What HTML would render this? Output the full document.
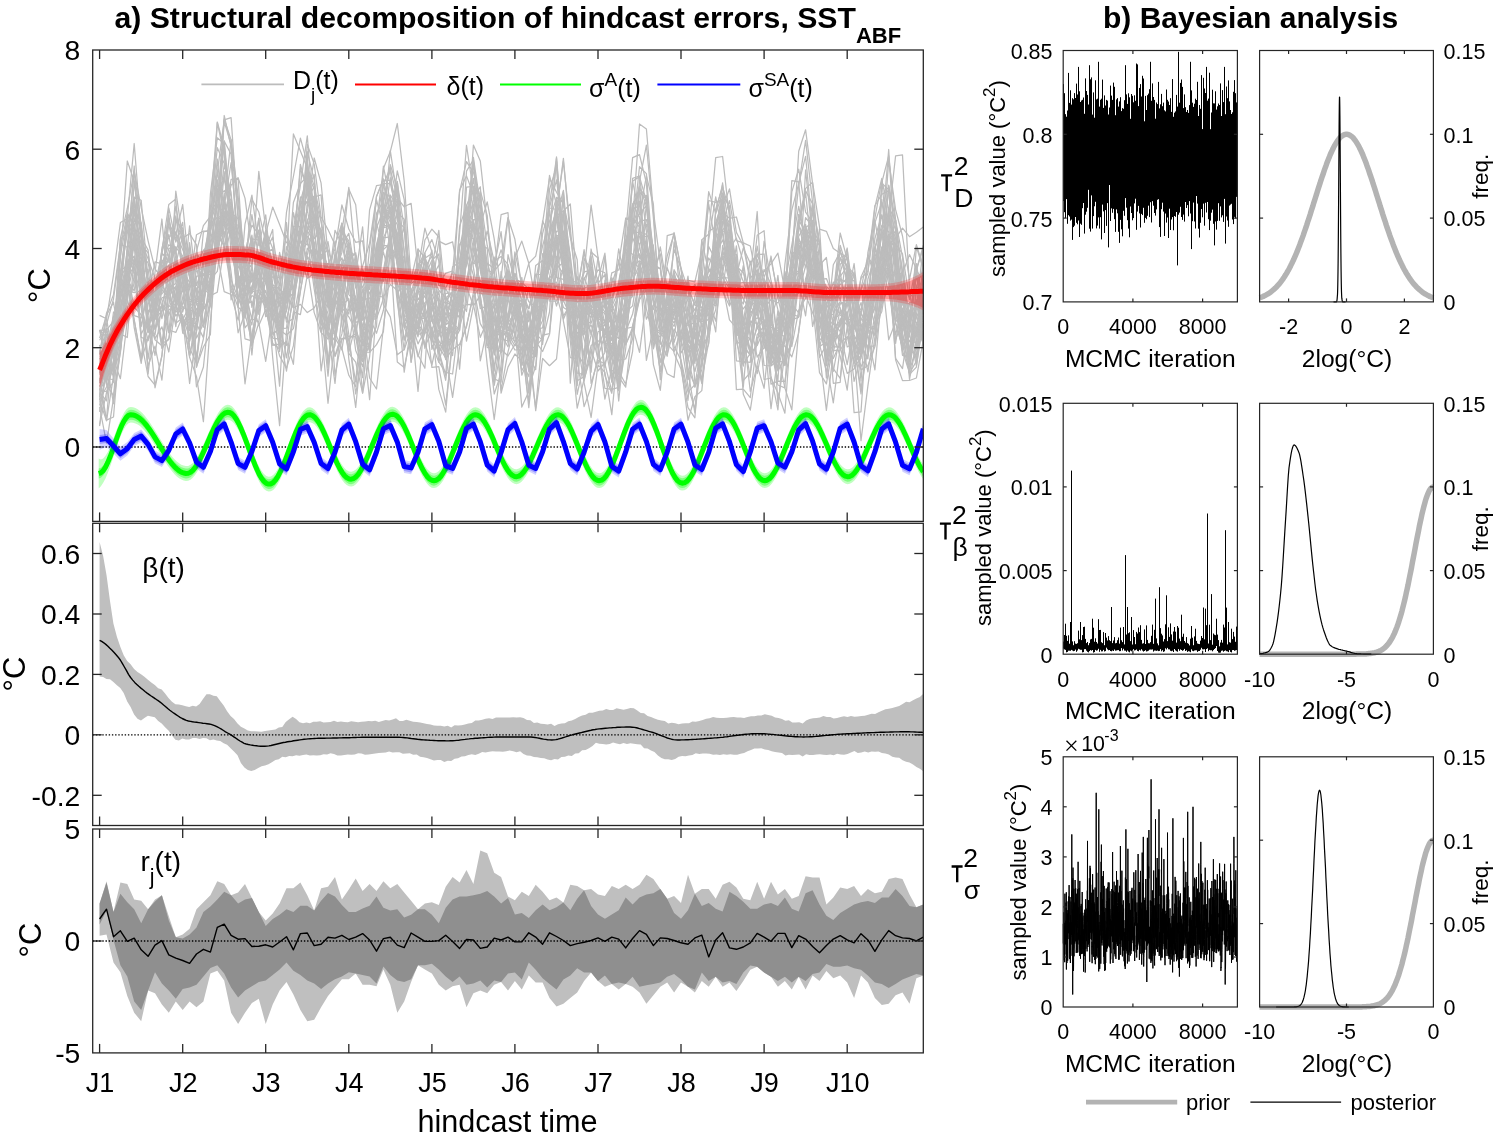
<!DOCTYPE html>
<html><head><meta charset="utf-8"><style>html,body{margin:0;padding:0;background:#fff;}svg{display:block;will-change:transform}</style></head><body>
<svg width="1500" height="1135" viewBox="0 0 1500 1135" font-family="'Liberation Sans', sans-serif">
<defs><clipPath id="cA"><rect x="92.7" y="50" width="830.6" height="471.4"/></clipPath><clipPath id="cB"><rect x="92.7" y="523.3" width="830.6" height="302.2"/></clipPath><clipPath id="cC"><rect x="92.7" y="829" width="830.6" height="223.9"/></clipPath></defs>
<g clip-path="url(#cA)">
<polyline points="99.6,378.1 106.5,420.1 113.5,417.0 120.4,333.8 127.3,337.5 134.2,257.1 141.2,334.2 148.1,319.9 155.0,355.5 161.9,303.0 168.8,285.5 175.8,326.7 182.7,276.1 189.6,260.7 196.5,304.4 203.4,300.4 210.4,267.2 217.3,250.6 224.2,171.7 231.1,229.8 238.1,277.1 245.0,327.9 251.9,318.9 258.8,321.9 265.7,266.5 272.7,303.3 279.6,297.5 286.5,299.0 293.4,293.2 300.4,255.5 307.3,230.7 314.2,242.2 321.1,296.2 328.0,331.6 335.0,355.5 341.9,333.9 348.8,279.8 355.7,336.5 362.6,361.6 369.6,304.9 376.5,222.8 383.4,249.5 390.3,243.6 397.3,294.4 404.2,372.2 411.1,325.5 418.0,305.6 424.9,295.7 431.9,321.6 438.8,322.8 445.7,359.7 452.6,336.8 459.6,327.4 466.5,302.0 473.4,203.9 480.3,259.2 487.2,297.5 494.2,334.1 501.1,334.7 508.0,322.7 514.9,293.9 521.8,315.1 528.8,342.5 535.7,356.7 542.6,301.3 549.5,263.7 556.5,231.1 563.4,231.1 570.3,301.4 577.2,301.8 584.1,310.4 591.1,317.6 598.0,291.0 604.9,298.0 611.8,310.7 618.7,295.6 625.7,300.3 632.6,219.8 639.5,245.7 646.4,224.3 653.4,264.6 660.3,289.8 667.2,256.0 674.1,233.8 681.0,302.4 688.0,360.6 694.9,335.2 701.8,379.6 708.7,342.2 715.7,273.9 722.6,291.3 729.5,306.0 736.4,289.9 743.3,321.8 750.3,349.6 757.2,327.2 764.1,340.9 771.0,363.9 777.9,354.8 784.9,387.9 791.8,409.9 798.7,330.1 805.6,284.9 812.6,232.7 819.5,268.3 826.4,315.9 833.3,368.7 840.2,378.4 847.2,326.5 854.1,362.0 861.0,355.7 867.9,333.1 874.9,246.6 881.8,280.6 888.7,214.0 895.6,244.2 902.5,294.0 909.5,373.3 916.4,361.1 923.3,303.1" fill="none" stroke="#bcbcbc" stroke-width="1.25" stroke-linejoin="round" />
<polyline points="99.6,315.4 106.5,318.7 113.5,359.6 120.4,378.7 127.3,320.5 134.2,275.1 141.2,274.3 148.1,269.1 155.0,318.1 161.9,279.3 168.8,255.6 175.8,231.7 182.7,270.1 189.6,270.6 196.5,289.2 203.4,282.0 210.4,255.7 217.3,253.6 224.2,257.0 231.1,228.5 238.1,267.3 245.0,273.6 251.9,235.1 258.8,292.6 265.7,299.1 272.7,287.4 279.6,287.8 286.5,302.1 293.4,247.1 300.4,226.2 307.3,243.5 314.2,257.1 321.1,245.5 328.0,267.8 335.0,338.3 341.9,260.6 348.8,260.2 355.7,252.8 362.6,291.9 369.6,285.2 376.5,286.1 383.4,166.1 390.3,201.7 397.3,199.6 404.2,281.4 411.1,288.8 418.0,328.3 424.9,309.3 431.9,265.0 438.8,322.5 445.7,293.3 452.6,292.9 459.6,311.2 466.5,284.1 473.4,256.4 480.3,246.0 487.2,287.6 494.2,332.3 501.1,330.0 508.0,333.6 514.9,346.0 521.8,335.2 528.8,310.7 535.7,350.5 542.6,303.2 549.5,281.7 556.5,270.2 563.4,242.8 570.3,299.3 577.2,276.7 584.1,313.9 591.1,284.0 598.0,294.1 604.9,323.1 611.8,310.2 618.7,321.7 625.7,282.7 632.6,263.0 639.5,267.4 646.4,245.3 653.4,264.5 660.3,268.5 667.2,322.3 674.1,303.4 681.0,341.3 688.0,307.1 694.9,352.3 701.8,383.5 708.7,325.7 715.7,246.2 722.6,272.0 729.5,286.7 736.4,315.1 743.3,355.3 750.3,320.9 757.2,323.7 764.1,339.1 771.0,320.0 777.9,338.0 784.9,290.2 791.8,289.2 798.7,282.1 805.6,315.8 812.6,255.9 819.5,307.0 826.4,303.0 833.3,293.9 840.2,287.8 847.2,298.7 854.1,263.5 861.0,327.7 867.9,349.5 874.9,323.1 881.8,304.5 888.7,242.8 895.6,245.9 902.5,318.7 909.5,360.2 916.4,330.9 923.3,264.9" fill="none" stroke="#bcbcbc" stroke-width="1.25" stroke-linejoin="round" />
<polyline points="99.6,355.3 106.5,344.5 113.5,331.9 120.4,255.6 127.3,218.0 134.2,143.5 141.2,232.6 148.1,288.2 155.0,313.9 161.9,275.4 168.8,234.3 175.8,281.0 182.7,324.5 189.6,309.4 196.5,313.3 203.4,304.6 210.4,194.2 217.3,137.8 224.2,143.7 231.1,223.5 238.1,239.6 245.0,265.0 251.9,214.7 258.8,258.2 265.7,282.0 272.7,292.6 279.6,333.5 286.5,278.5 293.4,232.5 300.4,215.6 307.3,162.7 314.2,207.3 321.1,236.1 328.0,306.5 335.0,299.2 341.9,230.3 348.8,189.1 355.7,204.8 362.6,277.0 369.6,270.8 376.5,196.4 383.4,180.1 390.3,180.3 397.3,204.6 404.2,251.1 411.1,321.8 418.0,343.9 424.9,329.8 431.9,281.5 438.8,326.7 445.7,341.0 452.6,307.8 459.6,247.5 466.5,217.2 473.4,161.4 480.3,224.6 487.2,284.5 494.2,346.8 501.1,284.2 508.0,269.6 514.9,301.2 521.8,332.5 528.8,349.9 535.7,295.8 542.6,303.9 549.5,261.9 556.5,210.7 563.4,161.4 570.3,228.1 577.2,298.7 584.1,272.4 591.1,205.1 598.0,257.4 604.9,307.9 611.8,296.8 618.7,284.8 625.7,239.8 632.6,221.8 639.5,124.0 646.4,129.0 653.4,211.4 660.3,263.4 667.2,339.3 674.1,276.0 681.0,285.6 688.0,301.0 694.9,310.2 701.8,310.0 708.7,314.9 715.7,227.2 722.6,202.5 729.5,234.5 736.4,302.0 743.3,337.7 750.3,377.2 757.2,274.9 764.1,271.4 771.0,263.8 777.9,253.1 784.9,290.6 791.8,325.1 798.7,282.5 805.6,249.2 812.6,235.5 819.5,263.9 826.4,364.4 833.3,329.9 840.2,341.4 847.2,298.8 854.1,321.2 861.0,349.0 867.9,326.3 874.9,295.2 881.8,252.0 888.7,244.2 895.6,238.1 902.5,228.1 909.5,236.7 916.4,232.2 923.3,227.0" fill="none" stroke="#bcbcbc" stroke-width="1.25" stroke-linejoin="round" />
<polyline points="99.6,330.0 106.5,361.5 113.5,349.6 120.4,287.4 127.3,223.6 134.2,246.3 141.2,273.5 148.1,320.9 155.0,318.2 161.9,305.4 168.8,315.3 175.8,295.2 182.7,261.7 189.6,316.9 196.5,331.2 203.4,287.7 210.4,288.1 217.3,225.0 224.2,215.6 231.1,185.2 238.1,177.7 245.0,198.1 251.9,250.3 258.8,229.9 265.7,276.4 272.7,306.5 279.6,252.4 286.5,282.6 293.4,202.5 300.4,183.5 307.3,176.5 314.2,247.6 321.1,317.1 328.0,295.4 335.0,256.3 341.9,273.2 348.8,271.0 355.7,322.3 362.6,393.0 369.6,307.8 376.5,247.1 383.4,211.9 390.3,195.0 397.3,206.7 404.2,288.2 411.1,335.6 418.0,315.2 424.9,256.9 431.9,340.1 438.8,312.4 445.7,330.6 452.6,323.5 459.6,226.4 466.5,205.7 473.4,267.6 480.3,308.7 487.2,305.8 494.2,275.7 501.1,291.0 508.0,284.7 514.9,285.5 521.8,342.7 528.8,331.1 535.7,307.6 542.6,284.3 549.5,252.1 556.5,234.9 563.4,272.6 570.3,332.7 577.2,348.7 584.1,288.2 591.1,285.1 598.0,269.7 604.9,272.8 611.8,303.1 618.7,248.8 625.7,284.0 632.6,225.8 639.5,214.0 646.4,175.9 653.4,204.3 660.3,340.7 667.2,356.3 674.1,297.2 681.0,275.5 688.0,290.8 694.9,331.1 701.8,310.5 708.7,266.8 715.7,241.9 722.6,182.8 729.5,288.8 736.4,293.0 743.3,357.5 750.3,306.4 757.2,300.0 764.1,333.9 771.0,334.0 777.9,370.9 784.9,357.6 791.8,342.3 798.7,267.7 805.6,217.6 812.6,226.9 819.5,297.1 826.4,296.7 833.3,299.3 840.2,294.8 847.2,287.3 854.1,293.3 861.0,342.6 867.9,331.7 874.9,295.8 881.8,246.9 888.7,240.7 895.6,230.7 902.5,304.2 909.5,321.0 916.4,336.3 923.3,294.6" fill="none" stroke="#bcbcbc" stroke-width="1.25" stroke-linejoin="round" />
<polyline points="99.6,407.0 106.5,443.1 113.5,398.3 120.4,308.3 127.3,263.6 134.2,327.7 141.2,363.3 148.1,311.2 155.0,309.8 161.9,307.7 168.8,272.0 175.8,221.2 182.7,228.5 189.6,278.0 196.5,301.4 203.4,287.8 210.4,295.6 217.3,292.2 224.2,246.5 231.1,279.8 238.1,298.1 245.0,313.3 251.9,241.3 258.8,289.4 265.7,297.1 272.7,315.0 279.6,317.6 286.5,294.2 293.4,307.7 300.4,304.4 307.3,312.6 314.2,307.9 321.1,295.0 328.0,320.7 335.0,356.5 341.9,338.3 348.8,339.0 355.7,333.5 362.6,343.7 369.6,318.1 376.5,333.3 383.4,310.3 390.3,251.3 397.3,362.0 404.2,367.6 411.1,335.8 418.0,327.1 424.9,346.2 431.9,331.7 438.8,340.5 445.7,354.9 452.6,397.4 459.6,346.6 466.5,325.7 473.4,296.1 480.3,286.5 487.2,299.1 494.2,308.7 501.1,338.1 508.0,297.9 514.9,278.5 521.8,282.6 528.8,288.9 535.7,329.5 542.6,327.8 549.5,279.1 556.5,306.0 563.4,283.0 570.3,325.4 577.2,358.0 584.1,406.6 591.1,387.0 598.0,356.7 604.9,335.1 611.8,324.0 618.7,327.9 625.7,312.3 632.6,305.9 639.5,261.9 646.4,294.5 653.4,309.4 660.3,287.3 667.2,309.2 674.1,353.2 681.0,369.1 688.0,407.7 694.9,417.8 701.8,329.2 708.7,300.5 715.7,321.2 722.6,266.6 729.5,257.8 736.4,323.6 743.3,364.0 750.3,353.4 757.2,324.3 764.1,308.6 771.0,299.3 777.9,303.0 784.9,292.4 791.8,261.8 798.7,249.4 805.6,294.5 812.6,295.3 819.5,312.5 826.4,353.7 833.3,322.8 840.2,331.4 847.2,364.7 854.1,325.3 861.0,325.7 867.9,317.6 874.9,273.8 881.8,234.7 888.7,243.6 895.6,359.9 902.5,380.6 909.5,380.5 916.4,378.0 923.3,340.1" fill="none" stroke="#bcbcbc" stroke-width="1.25" stroke-linejoin="round" />
<polyline points="99.6,357.7 106.5,378.8 113.5,329.1 120.4,292.2 127.3,297.4 134.2,180.9 141.2,237.5 148.1,250.1 155.0,311.7 161.9,250.5 168.8,204.4 175.8,199.1 182.7,284.0 189.6,341.4 196.5,301.0 203.4,304.6 210.4,261.1 217.3,188.5 224.2,245.7 231.1,288.2 238.1,307.5 245.0,224.1 251.9,195.1 258.8,245.5 265.7,214.8 272.7,285.0 279.6,325.1 286.5,296.0 293.4,307.9 300.4,251.1 307.3,229.7 314.2,197.0 321.1,194.9 328.0,295.0 335.0,302.2 341.9,308.7 348.8,341.1 355.7,381.8 362.6,306.9 369.6,209.8 376.5,185.7 383.4,184.5 390.3,167.7 397.3,244.9 404.2,276.5 411.1,291.6 418.0,271.1 424.9,255.2 431.9,316.4 438.8,352.7 445.7,380.3 452.6,319.4 459.6,286.8 466.5,214.3 473.4,248.7 480.3,285.5 487.2,313.1 494.2,354.0 501.1,331.7 508.0,337.6 514.9,300.2 521.8,284.0 528.8,301.8 535.7,306.5 542.6,220.8 549.5,238.1 556.5,156.8 563.4,242.0 570.3,383.1 577.2,293.5 584.1,249.7 591.1,293.2 598.0,305.7 604.9,343.6 611.8,343.7 618.7,350.9 625.7,295.5 632.6,209.3 639.5,186.8 646.4,205.7 653.4,282.2 660.3,246.9 667.2,288.2 674.1,273.9 681.0,362.4 688.0,400.3 694.9,324.9 701.8,319.2 708.7,239.8 715.7,196.9 722.6,234.2 729.5,285.0 736.4,340.3 743.3,348.1 750.3,288.8 757.2,269.3 764.1,299.9 771.0,348.9 777.9,352.2 784.9,340.5 791.8,265.7 798.7,151.3 805.6,129.8 812.6,183.6 819.5,264.4 826.4,343.8 833.3,358.4 840.2,342.9 847.2,336.7 854.1,363.6 861.0,342.3 867.9,327.4 874.9,279.0 881.8,256.3 888.7,160.6 895.6,209.7 902.5,236.0 909.5,279.4 916.4,244.6 923.3,267.2" fill="none" stroke="#bcbcbc" stroke-width="1.25" stroke-linejoin="round" />
<polyline points="99.6,390.8 106.5,391.5 113.5,382.1 120.4,270.9 127.3,265.2 134.2,255.8 141.2,286.0 148.1,312.0 155.0,299.3 161.9,291.1 168.8,222.2 175.8,238.5 182.7,229.9 189.6,264.7 196.5,267.1 203.4,302.9 210.4,258.5 217.3,218.9 224.2,212.4 231.1,299.9 238.1,274.0 245.0,295.7 251.9,288.4 258.8,278.6 265.7,299.4 272.7,298.5 279.6,329.0 286.5,311.0 293.4,247.7 300.4,211.0 307.3,238.9 314.2,289.0 321.1,331.3 328.0,310.9 335.0,252.3 341.9,299.3 348.8,251.4 355.7,266.6 362.6,310.3 369.6,271.1 376.5,296.2 383.4,297.0 390.3,284.5 397.3,290.3 404.2,315.7 411.1,333.8 418.0,303.7 424.9,348.5 431.9,300.2 438.8,346.2 445.7,358.3 452.6,349.6 459.6,344.2 466.5,326.8 473.4,292.7 480.3,260.4 487.2,263.3 494.2,285.5 501.1,334.4 508.0,332.7 514.9,342.0 521.8,326.9 528.8,392.7 535.7,304.7 542.6,292.7 549.5,277.4 556.5,235.8 563.4,234.4 570.3,280.0 577.2,282.8 584.1,289.0 591.1,252.1 598.0,257.9 604.9,307.8 611.8,272.8 618.7,270.0 625.7,249.5 632.6,254.3 639.5,257.5 646.4,261.0 653.4,339.0 660.3,306.4 667.2,284.4 674.1,280.7 681.0,353.0 688.0,342.2 694.9,324.4 701.8,340.0 708.7,299.7 715.7,331.9 722.6,245.5 729.5,272.5 736.4,272.3 743.3,362.9 750.3,314.4 757.2,304.8 764.1,277.5 771.0,330.6 777.9,355.8 784.9,271.3 791.8,298.6 798.7,286.4 805.6,254.5 812.6,283.2 819.5,265.3 826.4,257.5 833.3,311.3 840.2,349.0 847.2,298.6 854.1,291.8 861.0,289.2 867.9,255.2 874.9,276.5 881.8,249.7 888.7,284.0 895.6,334.7 902.5,308.0 909.5,337.0 916.4,246.8 923.3,269.2" fill="none" stroke="#bcbcbc" stroke-width="1.25" stroke-linejoin="round" />
<polyline points="99.6,330.1 106.5,346.9 113.5,316.6 120.4,298.5 127.3,250.6 134.2,225.4 141.2,254.0 148.1,262.9 155.0,296.3 161.9,294.0 168.8,284.2 175.8,259.1 182.7,299.6 189.6,318.3 196.5,318.8 203.4,302.8 210.4,253.3 217.3,219.7 224.2,121.5 231.1,144.7 238.1,215.5 245.0,267.7 251.9,199.2 258.8,212.0 265.7,242.3 272.7,261.2 279.6,285.8 286.5,254.6 293.4,252.9 300.4,164.3 307.3,190.5 314.2,174.5 321.1,259.9 328.0,241.5 335.0,285.6 341.9,275.4 348.8,262.9 355.7,264.8 362.6,319.2 369.6,292.3 376.5,283.5 383.4,216.5 390.3,216.5 397.3,266.3 404.2,320.0 411.1,322.4 418.0,313.0 424.9,276.2 431.9,250.0 438.8,353.8 445.7,337.5 452.6,309.8 459.6,244.2 466.5,236.5 473.4,227.4 480.3,292.9 487.2,296.7 494.2,306.2 501.1,295.9 508.0,276.9 514.9,296.2 521.8,365.6 528.8,338.5 535.7,305.2 542.6,274.7 549.5,203.8 556.5,158.1 563.4,252.2 570.3,320.7 577.2,290.4 584.1,252.2 591.1,284.9 598.0,320.7 604.9,331.4 611.8,351.5 618.7,390.6 625.7,331.4 632.6,314.0 639.5,280.3 646.4,202.8 653.4,260.6 660.3,301.2 667.2,301.2 674.1,269.7 681.0,282.8 688.0,301.3 694.9,349.6 701.8,284.9 708.7,258.0 715.7,269.2 722.6,222.7 729.5,200.7 736.4,240.7 743.3,242.9 750.3,246.0 757.2,280.4 764.1,299.8 771.0,362.3 777.9,337.1 784.9,298.9 791.8,180.7 798.7,181.9 805.6,259.4 812.6,297.8 819.5,318.3 826.4,359.5 833.3,343.5 840.2,320.8 847.2,318.8 854.1,342.4 861.0,352.1 867.9,279.0 874.9,257.7 881.8,229.9 888.7,277.1 895.6,321.6 902.5,316.3 909.5,358.5 916.4,314.3 923.3,281.2" fill="none" stroke="#bcbcbc" stroke-width="1.25" stroke-linejoin="round" />
<polyline points="99.6,386.6 106.5,372.0 113.5,321.1 120.4,337.9 127.3,276.1 134.2,259.2 141.2,276.5 148.1,295.9 155.0,261.8 161.9,263.8 168.8,244.6 175.8,251.3 182.7,230.5 189.6,330.4 196.5,276.1 203.4,275.6 210.4,256.8 217.3,254.3 224.2,291.7 231.1,294.5 238.1,320.1 245.0,290.3 251.9,319.6 258.8,252.1 265.7,259.7 272.7,293.2 279.6,329.7 286.5,335.0 293.4,328.6 300.4,291.6 307.3,248.2 314.2,257.2 321.1,324.2 328.0,332.5 335.0,340.9 341.9,302.4 348.8,243.5 355.7,269.6 362.6,313.8 369.6,352.3 376.5,344.6 383.4,331.8 390.3,247.1 397.3,283.2 404.2,301.4 411.1,336.7 418.0,313.6 424.9,255.4 431.9,302.7 438.8,328.9 445.7,356.4 452.6,300.9 459.6,312.1 466.5,304.4 473.4,304.6 480.3,337.3 487.2,321.1 494.2,257.0 501.1,312.5 508.0,274.4 514.9,284.9 521.8,339.3 528.8,350.4 535.7,346.3 542.6,338.3 549.5,241.4 556.5,295.4 563.4,266.3 570.3,283.7 577.2,333.6 584.1,328.0 591.1,289.2 598.0,293.1 604.9,300.3 611.8,304.5 618.7,375.3 625.7,286.2 632.6,204.6 639.5,192.0 646.4,199.0 653.4,300.4 660.3,324.0 667.2,346.9 674.1,336.7 681.0,292.4 688.0,341.4 694.9,348.0 701.8,382.1 708.7,328.2 715.7,280.0 722.6,273.7 729.5,303.7 736.4,266.6 743.3,344.4 750.3,355.6 757.2,344.5 764.1,291.7 771.0,256.0 777.9,297.3 784.9,329.5 791.8,316.3 798.7,250.1 805.6,266.9 812.6,233.3 819.5,245.7 826.4,299.5 833.3,291.0 840.2,272.7 847.2,248.0 854.1,323.1 861.0,302.6 867.9,330.0 874.9,334.0 881.8,292.4 888.7,269.5 895.6,293.8 902.5,350.8 909.5,373.0 916.4,306.7 923.3,247.3" fill="none" stroke="#bcbcbc" stroke-width="1.25" stroke-linejoin="round" />
<polyline points="99.6,392.5 106.5,400.9 113.5,335.7 120.4,299.0 127.3,271.7 134.2,307.3 141.2,314.8 148.1,339.9 155.0,315.2 161.9,276.6 168.8,281.0 175.8,304.5 182.7,325.4 189.6,310.6 196.5,299.6 203.4,291.3 210.4,282.6 217.3,224.4 224.2,140.8 231.1,214.6 238.1,251.1 245.0,268.0 251.9,343.1 258.8,295.3 265.7,307.4 272.7,268.6 279.6,304.9 286.5,319.2 293.4,291.1 300.4,250.5 307.3,243.5 314.2,255.0 321.1,323.8 328.0,330.8 335.0,287.9 341.9,223.7 348.8,250.1 355.7,284.3 362.6,266.1 369.6,243.2 376.5,196.4 383.4,178.9 390.3,217.2 397.3,252.7 404.2,287.1 411.1,292.8 418.0,283.6 424.9,308.7 431.9,367.4 438.8,366.7 445.7,405.0 452.6,342.5 459.6,298.1 466.5,311.5 473.4,250.4 480.3,248.9 487.2,291.5 494.2,266.1 501.1,231.7 508.0,300.1 514.9,273.3 521.8,291.8 528.8,308.7 535.7,288.2 542.6,307.5 549.5,295.1 556.5,285.2 563.4,300.4 570.3,315.7 577.2,373.1 584.1,374.5 591.1,315.3 598.0,319.1 604.9,320.1 611.8,382.1 618.7,357.9 625.7,321.6 632.6,273.2 639.5,273.0 646.4,259.0 653.4,300.5 660.3,315.5 667.2,306.0 674.1,278.9 681.0,306.8 688.0,287.3 694.9,305.1 701.8,307.6 708.7,292.9 715.7,254.9 722.6,212.5 729.5,218.3 736.4,264.3 743.3,281.4 750.3,297.2 757.2,259.4 764.1,282.8 771.0,360.7 777.9,310.9 784.9,323.8 791.8,346.6 798.7,310.3 805.6,298.3 812.6,206.1 819.5,242.0 826.4,339.3 833.3,323.5 840.2,325.8 847.2,274.2 854.1,345.5 861.0,393.9 867.9,330.0 874.9,295.6 881.8,272.0 888.7,339.8 895.6,322.0 902.5,286.1 909.5,355.5 916.4,287.0 923.3,315.5" fill="none" stroke="#bcbcbc" stroke-width="1.25" stroke-linejoin="round" />
<polyline points="99.6,383.4 106.5,324.5 113.5,299.0 120.4,247.6 127.3,214.2 134.2,222.8 141.2,273.6 148.1,293.1 155.0,329.5 161.9,284.4 168.8,214.8 175.8,270.4 182.7,274.3 189.6,265.0 196.5,271.7 203.4,267.3 210.4,299.8 217.3,226.0 224.2,222.5 231.1,236.0 238.1,244.4 245.0,292.6 251.9,268.3 258.8,171.4 265.7,229.0 272.7,266.9 279.6,304.8 286.5,286.8 293.4,265.6 300.4,226.2 307.3,267.5 314.2,312.6 321.1,332.6 328.0,339.0 335.0,338.0 341.9,349.9 348.8,303.4 355.7,318.9 362.6,303.7 369.6,266.5 376.5,261.5 383.4,205.3 390.3,230.1 397.3,182.2 404.2,228.2 411.1,297.5 418.0,327.7 424.9,283.8 431.9,344.4 438.8,362.3 445.7,336.0 452.6,318.3 459.6,298.5 466.5,222.5 473.4,230.6 480.3,237.8 487.2,302.6 494.2,355.1 501.1,316.4 508.0,324.6 514.9,258.4 521.8,322.9 528.8,287.0 535.7,333.7 542.6,277.4 549.5,278.3 556.5,268.0 563.4,262.5 570.3,283.9 577.2,362.5 584.1,301.8 591.1,314.5 598.0,314.2 604.9,325.0 611.8,320.1 618.7,356.6 625.7,246.7 632.6,204.8 639.5,216.9 646.4,284.8 653.4,364.6 660.3,390.4 667.2,322.0 674.1,310.7 681.0,340.6 688.0,360.3 694.9,315.5 701.8,320.1 708.7,301.2 715.7,211.7 722.6,184.5 729.5,232.6 736.4,309.8 743.3,380.7 750.3,372.5 757.2,334.7 764.1,326.0 771.0,327.3 777.9,330.8 784.9,314.7 791.8,279.0 798.7,272.5 805.6,288.0 812.6,291.7 819.5,344.4 826.4,371.5 833.3,346.6 840.2,347.0 847.2,373.4 854.1,369.0 861.0,346.6 867.9,329.5 874.9,261.7 881.8,232.8 888.7,264.7 895.6,290.5 902.5,270.4 909.5,322.0 916.4,271.0 923.3,245.1" fill="none" stroke="#bcbcbc" stroke-width="1.25" stroke-linejoin="round" />
<polyline points="99.6,386.7 106.5,368.4 113.5,312.0 120.4,315.5 127.3,278.1 134.2,265.8 141.2,326.7 148.1,289.2 155.0,280.5 161.9,318.6 168.8,286.0 175.8,298.6 182.7,319.7 189.6,305.9 196.5,302.1 203.4,232.0 210.4,230.2 217.3,171.9 224.2,207.7 231.1,223.1 238.1,276.3 245.0,279.7 251.9,290.9 258.8,259.4 265.7,233.6 272.7,207.1 279.6,224.5 286.5,242.7 293.4,245.4 300.4,212.4 307.3,200.8 314.2,186.1 321.1,220.2 328.0,293.6 335.0,302.6 341.9,237.8 348.8,250.7 355.7,288.0 362.6,269.2 369.6,285.9 376.5,271.0 383.4,252.2 390.3,277.4 397.3,240.4 404.2,309.4 411.1,329.1 418.0,323.4 424.9,268.6 431.9,284.6 438.8,301.6 445.7,355.3 452.6,313.9 459.6,316.9 466.5,252.4 473.4,226.4 480.3,256.8 487.2,231.0 494.2,261.3 501.1,256.4 508.0,264.3 514.9,299.6 521.8,288.2 528.8,263.3 535.7,301.8 542.6,233.7 549.5,208.0 556.5,209.5 563.4,251.8 570.3,330.3 577.2,348.4 584.1,258.2 591.1,270.0 598.0,320.3 604.9,303.1 611.8,325.8 618.7,371.3 625.7,384.2 632.6,351.3 639.5,268.4 646.4,250.3 653.4,277.7 660.3,291.7 667.2,283.4 674.1,342.4 681.0,320.5 688.0,344.8 694.9,371.5 701.8,343.4 708.7,299.3 715.7,266.5 722.6,278.1 729.5,288.3 736.4,245.9 743.3,320.9 750.3,353.1 757.2,301.7 764.1,279.9 771.0,288.8 777.9,344.3 784.9,289.9 791.8,297.2 798.7,292.9 805.6,266.0 812.6,269.3 819.5,273.7 826.4,286.6 833.3,293.1 840.2,257.4 847.2,280.5 854.1,280.5 861.0,345.2 867.9,358.9 874.9,278.4 881.8,288.9 888.7,263.3 895.6,277.0 902.5,315.1 909.5,331.1 916.4,267.3 923.3,346.5" fill="none" stroke="#bcbcbc" stroke-width="1.25" stroke-linejoin="round" />
<polyline points="99.6,354.0 106.5,319.2 113.5,275.0 120.4,222.5 127.3,218.8 134.2,232.1 141.2,268.2 148.1,332.3 155.0,300.7 161.9,252.9 168.8,261.3 175.8,206.4 182.7,244.0 189.6,276.8 196.5,304.8 203.4,309.4 210.4,247.4 217.3,202.0 224.2,118.9 231.1,139.9 238.1,196.1 245.0,262.1 251.9,307.4 258.8,271.0 265.7,305.1 272.7,284.9 279.6,289.1 286.5,212.1 293.4,176.5 300.4,138.2 307.3,163.3 314.2,220.2 321.1,255.6 328.0,249.8 335.0,272.4 341.9,252.4 348.8,187.3 355.7,262.2 362.6,309.2 369.6,312.5 376.5,305.7 383.4,199.5 390.3,169.0 397.3,197.9 404.2,206.8 411.1,203.3 418.0,270.1 424.9,228.1 431.9,252.0 438.8,285.4 445.7,288.1 452.6,273.1 459.6,191.5 466.5,161.7 473.4,172.3 480.3,197.5 487.2,245.5 494.2,271.0 501.1,262.6 508.0,217.6 514.9,239.3 521.8,287.7 528.8,344.3 535.7,335.0 542.6,320.6 549.5,253.0 556.5,200.2 563.4,275.3 570.3,293.0 577.2,301.8 584.1,300.6 591.1,311.4 598.0,257.0 604.9,305.1 611.8,359.6 618.7,372.6 625.7,316.2 632.6,232.6 639.5,166.7 646.4,173.6 653.4,264.3 660.3,318.9 667.2,346.0 674.1,312.2 681.0,340.7 688.0,321.9 694.9,314.4 701.8,321.9 708.7,276.8 715.7,268.2 722.6,258.2 729.5,248.5 736.4,238.1 743.3,262.2 750.3,305.5 757.2,253.6 764.1,276.9 771.0,259.5 777.9,293.6 784.9,314.7 791.8,257.6 798.7,249.2 805.6,232.1 812.6,272.9 819.5,285.2 826.4,318.3 833.3,314.0 840.2,301.5 847.2,249.9 854.1,299.7 861.0,346.1 867.9,296.8 874.9,238.5 881.8,214.6 888.7,243.0 895.6,243.6 902.5,253.9 909.5,299.5 916.4,263.6 923.3,308.4" fill="none" stroke="#bcbcbc" stroke-width="1.25" stroke-linejoin="round" />
<polyline points="99.6,373.3 106.5,377.5 113.5,363.0 120.4,274.7 127.3,233.5 134.2,197.6 141.2,256.1 148.1,328.5 155.0,297.7 161.9,343.5 168.8,339.6 175.8,300.9 182.7,304.0 189.6,246.5 196.5,367.3 203.4,338.8 210.4,279.4 217.3,271.4 224.2,226.6 231.1,179.3 238.1,178.3 245.0,287.3 251.9,354.9 258.8,282.9 265.7,250.1 272.7,314.9 279.6,386.1 286.5,278.3 293.4,245.5 300.4,169.1 307.3,187.9 314.2,258.2 321.1,321.3 328.0,283.8 335.0,241.3 341.9,325.8 348.8,346.7 355.7,301.5 362.6,339.5 369.6,349.8 376.5,282.1 383.4,228.0 390.3,207.3 397.3,263.7 404.2,320.3 411.1,349.1 418.0,309.1 424.9,316.9 431.9,329.5 438.8,353.1 445.7,317.2 452.6,292.9 459.6,263.2 466.5,205.2 473.4,190.2 480.3,218.1 487.2,282.2 494.2,271.2 501.1,249.8 508.0,274.3 514.9,305.5 521.8,303.8 528.8,330.0 535.7,341.3 542.6,351.5 549.5,334.4 556.5,242.0 563.4,217.1 570.3,255.4 577.2,357.8 584.1,320.3 591.1,323.3 598.0,301.3 604.9,312.1 611.8,370.0 618.7,376.9 625.7,387.2 632.6,325.6 639.5,298.8 646.4,240.8 653.4,277.4 660.3,298.8 667.2,314.2 674.1,323.0 681.0,304.7 688.0,350.8 694.9,350.1 701.8,322.4 708.7,313.6 715.7,250.8 722.6,206.9 729.5,255.3 736.4,286.4 743.3,287.0 750.3,312.5 757.2,306.7 764.1,379.5 771.0,378.0 777.9,392.9 784.9,413.2 791.8,317.8 798.7,236.2 805.6,224.4 812.6,266.6 819.5,346.4 826.4,342.2 833.3,371.5 840.2,333.7 847.2,267.3 854.1,312.5 861.0,336.9 867.9,346.7 874.9,345.8 881.8,280.2 888.7,215.7 895.6,257.0 902.5,286.2 909.5,297.6 916.4,290.5 923.3,338.8" fill="none" stroke="#bcbcbc" stroke-width="1.25" stroke-linejoin="round" />
<polyline points="99.6,349.7 106.5,369.8 113.5,331.1 120.4,320.3 127.3,302.9 134.2,228.2 141.2,243.6 148.1,258.7 155.0,278.3 161.9,284.6 168.8,297.4 175.8,306.4 182.7,315.1 189.6,357.3 196.5,376.6 203.4,421.6 210.4,321.8 217.3,244.7 224.2,115.5 231.1,146.8 238.1,256.1 245.0,299.9 251.9,345.3 258.8,322.7 265.7,361.4 272.7,313.5 279.6,334.7 286.5,371.2 293.4,315.4 300.4,224.0 307.3,171.1 314.2,189.8 321.1,292.3 328.0,359.3 335.0,345.7 341.9,288.2 348.8,334.3 355.7,394.0 362.6,353.0 369.6,352.5 376.5,255.5 383.4,203.8 390.3,164.7 397.3,187.0 404.2,270.7 411.1,306.1 418.0,334.7 424.9,331.6 431.9,306.4 438.8,298.4 445.7,315.1 452.6,266.8 459.6,262.4 466.5,226.8 473.4,164.3 480.3,212.1 487.2,292.9 494.2,381.1 501.1,334.3 508.0,346.8 514.9,314.9 521.8,375.2 528.8,357.2 535.7,407.9 542.6,335.2 549.5,333.6 556.5,267.9 563.4,194.0 570.3,282.6 577.2,340.8 584.1,382.8 591.1,417.5 598.0,364.9 604.9,372.2 611.8,414.6 618.7,342.9 625.7,310.7 632.6,270.1 639.5,227.3 646.4,291.7 653.4,277.0 660.3,379.7 667.2,324.5 674.1,284.2 681.0,364.4 688.0,420.2 694.9,396.8 701.8,390.6 708.7,322.2 715.7,232.3 722.6,210.4 729.5,261.0 736.4,389.6 743.3,389.2 750.3,397.6 757.2,338.0 764.1,332.3 771.0,408.7 777.9,355.4 784.9,307.8 791.8,253.5 798.7,254.2 805.6,226.7 812.6,284.6 819.5,353.7 826.4,410.3 833.3,352.6 840.2,318.6 847.2,324.7 854.1,381.3 861.0,356.5 867.9,335.0 874.9,369.9 881.8,291.6 888.7,234.5 895.6,244.9 902.5,332.2 909.5,374.4 916.4,367.1 923.3,311.7" fill="none" stroke="#bcbcbc" stroke-width="1.25" stroke-linejoin="round" />
<polyline points="99.6,390.2 106.5,354.9 113.5,377.4 120.4,298.4 127.3,277.4 134.2,218.4 141.2,237.8 148.1,319.9 155.0,339.8 161.9,345.8 168.8,304.6 175.8,264.4 182.7,333.2 189.6,308.8 196.5,366.5 203.4,347.0 210.4,334.5 217.3,190.6 224.2,178.5 231.1,217.1 238.1,296.7 245.0,287.3 251.9,346.2 258.8,301.7 265.7,239.1 272.7,308.3 279.6,331.0 286.5,292.0 293.4,288.3 300.4,237.9 307.3,182.9 314.2,229.9 321.1,281.7 328.0,330.6 335.0,305.0 341.9,290.2 348.8,256.4 355.7,283.0 362.6,334.7 369.6,399.7 376.5,307.8 383.4,237.8 390.3,236.8 397.3,302.5 404.2,349.8 411.1,329.2 418.0,356.9 424.9,332.8 431.9,310.7 438.8,291.5 445.7,334.6 452.6,343.4 459.6,330.1 466.5,233.5 473.4,186.3 480.3,219.2 487.2,316.5 494.2,366.9 501.1,338.8 508.0,341.0 514.9,307.6 521.8,332.6 528.8,345.0 535.7,309.2 542.6,268.6 549.5,265.3 556.5,248.7 563.4,213.3 570.3,332.6 577.2,366.5 584.1,309.9 591.1,310.8 598.0,347.4 604.9,399.1 611.8,368.4 618.7,308.8 625.7,241.5 632.6,224.8 639.5,186.0 646.4,276.9 653.4,317.1 660.3,362.4 667.2,330.6 674.1,290.5 681.0,276.6 688.0,352.9 694.9,331.7 701.8,344.8 708.7,336.6 715.7,281.2 722.6,277.5 729.5,278.1 736.4,310.8 743.3,352.7 750.3,323.6 757.2,317.8 764.1,319.6 771.0,384.1 777.9,381.2 784.9,381.3 791.8,339.6 798.7,283.3 805.6,233.0 812.6,302.2 819.5,372.7 826.4,383.9 833.3,343.4 840.2,309.8 847.2,320.3 854.1,318.1 861.0,308.7 867.9,289.5 874.9,283.2 881.8,264.8 888.7,293.1 895.6,323.2 902.5,347.2 909.5,333.6 916.4,316.9 923.3,304.5" fill="none" stroke="#bcbcbc" stroke-width="1.25" stroke-linejoin="round" />
<polyline points="99.6,340.2 106.5,328.5 113.5,355.5 120.4,328.7 127.3,275.4 134.2,235.7 141.2,291.8 148.1,278.2 155.0,284.9 161.9,253.3 168.8,224.6 175.8,258.8 182.7,312.2 189.6,286.1 196.5,234.7 203.4,231.0 210.4,231.1 217.3,159.0 224.2,224.3 231.1,215.3 238.1,266.1 245.0,272.2 251.9,264.5 258.8,218.2 265.7,272.9 272.7,292.8 279.6,338.8 286.5,296.5 293.4,294.5 300.4,258.7 307.3,278.4 314.2,273.2 321.1,247.1 328.0,279.7 335.0,268.2 341.9,257.8 348.8,280.5 355.7,335.9 362.6,290.2 369.6,282.1 376.5,244.6 383.4,304.6 390.3,316.9 397.3,354.8 404.2,349.4 411.1,295.3 418.0,274.0 424.9,276.8 431.9,277.9 438.8,265.0 445.7,297.7 452.6,292.4 459.6,286.8 466.5,341.2 473.4,305.7 480.3,239.8 487.2,278.3 494.2,300.3 501.1,324.3 508.0,322.1 514.9,273.5 521.8,302.0 528.8,340.8 535.7,410.7 542.6,358.5 549.5,365.7 556.5,359.0 563.4,293.6 570.3,282.0 577.2,358.5 584.1,305.6 591.1,285.7 598.0,315.3 604.9,292.2 611.8,353.2 618.7,360.2 625.7,359.0 632.6,338.8 639.5,265.8 646.4,308.9 653.4,338.0 660.3,351.9 667.2,318.0 674.1,311.6 681.0,280.8 688.0,320.2 694.9,354.0 701.8,335.7 708.7,301.7 715.7,305.9 722.6,273.6 729.5,232.1 736.4,294.0 743.3,304.0 750.3,261.2 757.2,296.8 764.1,323.7 771.0,351.3 777.9,322.7 784.9,295.3 791.8,291.5 798.7,275.2 805.6,229.0 812.6,238.1 819.5,321.2 826.4,321.4 833.3,307.5 840.2,278.7 847.2,298.5 854.1,327.7 861.0,338.7 867.9,371.8 874.9,325.6 881.8,311.4 888.7,268.7 895.6,308.2 902.5,323.2 909.5,350.2 916.4,355.1 923.3,300.2" fill="none" stroke="#bcbcbc" stroke-width="1.25" stroke-linejoin="round" />
<polyline points="99.6,338.1 106.5,315.3 113.5,302.1 120.4,344.0 127.3,293.3 134.2,262.4 141.2,275.9 148.1,293.4 155.0,311.7 161.9,248.6 168.8,218.4 175.8,253.8 182.7,292.0 189.6,225.9 196.5,285.5 203.4,264.5 210.4,213.2 217.3,252.1 224.2,216.8 231.1,212.7 238.1,218.8 245.0,251.6 251.9,225.1 258.8,234.4 265.7,252.4 272.7,249.1 279.6,295.2 286.5,303.0 293.4,212.7 300.4,242.9 307.3,236.5 314.2,245.2 321.1,307.8 328.0,376.1 335.0,300.2 341.9,307.6 348.8,316.8 355.7,330.3 362.6,353.7 369.6,346.9 376.5,289.4 383.4,183.6 390.3,183.4 397.3,214.7 404.2,315.4 411.1,319.3 418.0,336.8 424.9,283.1 431.9,302.1 438.8,316.0 445.7,324.1 452.6,322.4 459.6,330.2 466.5,258.5 473.4,285.9 480.3,323.6 487.2,335.6 494.2,352.0 501.1,314.7 508.0,272.6 514.9,281.6 521.8,299.6 528.8,321.9 535.7,297.2 542.6,344.4 549.5,284.1 556.5,282.2 563.4,307.5 570.3,311.8 577.2,338.9 584.1,313.0 591.1,272.1 598.0,363.7 604.9,352.5 611.8,283.4 618.7,263.1 625.7,218.3 632.6,222.1 639.5,274.6 646.4,319.2 653.4,304.7 660.3,287.7 667.2,312.8 674.1,309.2 681.0,313.5 688.0,379.4 694.9,353.1 701.8,265.2 708.7,191.6 715.7,213.6 722.6,193.0 729.5,278.6 736.4,335.5 743.3,387.1 750.3,306.3 757.2,315.7 764.1,241.1 771.0,280.5 777.9,309.6 784.9,365.1 791.8,275.3 798.7,270.8 805.6,252.0 812.6,326.5 819.5,297.3 826.4,293.2 833.3,323.0 840.2,303.8 847.2,300.0 854.1,294.9 861.0,314.4 867.9,256.5 874.9,268.1 881.8,268.7 888.7,268.4 895.6,358.4 902.5,368.6 909.5,319.3 916.4,301.3 923.3,320.6" fill="none" stroke="#bcbcbc" stroke-width="1.25" stroke-linejoin="round" />
<polyline points="99.6,381.1 106.5,353.3 113.5,370.1 120.4,287.7 127.3,213.4 134.2,225.3 141.2,307.0 148.1,333.0 155.0,272.3 161.9,219.0 168.8,297.1 175.8,312.3 182.7,304.6 189.6,281.9 196.5,316.5 203.4,258.7 210.4,231.7 217.3,122.6 224.2,154.8 231.1,228.3 238.1,288.0 245.0,260.0 251.9,238.0 258.8,285.6 265.7,272.4 272.7,331.3 279.6,355.9 286.5,368.4 293.4,345.9 300.4,290.4 307.3,255.0 314.2,219.1 321.1,238.4 328.0,299.1 335.0,338.6 341.9,279.7 348.8,358.8 355.7,407.4 362.6,336.1 369.6,276.6 376.5,213.4 383.4,200.8 390.3,251.3 397.3,295.0 404.2,304.3 411.1,332.2 418.0,322.4 424.9,343.4 431.9,365.0 438.8,332.9 445.7,318.0 452.6,328.6 459.6,303.8 466.5,258.0 473.4,224.6 480.3,303.2 487.2,333.6 494.2,394.0 501.1,373.4 508.0,317.5 514.9,294.3 521.8,362.2 528.8,376.6 535.7,307.7 542.6,283.1 549.5,254.5 556.5,218.5 563.4,257.7 570.3,278.0 577.2,292.9 584.1,314.1 591.1,305.5 598.0,313.8 604.9,375.8 611.8,393.3 618.7,314.0 625.7,323.3 632.6,228.1 639.5,201.1 646.4,248.8 653.4,284.5 660.3,306.4 667.2,267.7 674.1,286.9 681.0,307.3 688.0,339.4 694.9,296.4 701.8,273.7 708.7,288.8 715.7,253.5 722.6,240.0 729.5,261.7 736.4,301.5 743.3,265.6 750.3,339.7 757.2,278.3 764.1,280.1 771.0,331.0 777.9,351.9 784.9,356.1 791.8,312.5 798.7,238.0 805.6,258.5 812.6,209.8 819.5,279.7 826.4,278.6 833.3,295.8 840.2,258.4 847.2,266.0 854.1,277.9 861.0,324.4 867.9,349.7 874.9,288.1 881.8,232.2 888.7,149.5 895.6,264.3 902.5,304.7 909.5,303.4 916.4,349.3 923.3,321.2" fill="none" stroke="#bcbcbc" stroke-width="1.25" stroke-linejoin="round" />
<polyline points="99.6,372.8 106.5,367.0 113.5,343.1 120.4,274.7 127.3,218.2 134.2,272.5 141.2,292.3 148.1,359.0 155.0,304.5 161.9,348.7 168.8,338.2 175.8,285.8 182.7,320.1 189.6,355.7 196.5,321.0 203.4,307.7 210.4,233.8 217.3,242.4 224.2,231.4 231.1,285.8 238.1,300.9 245.0,276.8 251.9,290.7 258.8,235.9 265.7,275.4 272.7,357.8 279.6,425.7 286.5,331.9 293.4,299.0 300.4,265.4 307.3,227.0 314.2,238.5 321.1,230.3 328.0,300.7 335.0,268.4 341.9,281.7 348.8,352.2 355.7,324.7 362.6,361.2 369.6,345.2 376.5,248.7 383.4,224.0 390.3,150.5 397.3,197.3 404.2,291.8 411.1,318.6 418.0,335.3 424.9,267.2 431.9,256.0 438.8,301.6 445.7,324.9 452.6,318.2 459.6,301.9 466.5,226.4 473.4,200.5 480.3,194.4 487.2,291.7 494.2,333.1 501.1,325.9 508.0,330.4 514.9,332.3 521.8,370.6 528.8,358.6 535.7,356.2 542.6,285.1 549.5,189.5 556.5,166.4 563.4,275.4 570.3,321.5 577.2,326.1 584.1,329.1 591.1,272.4 598.0,303.3 604.9,336.0 611.8,347.1 618.7,321.1 625.7,266.9 632.6,209.5 639.5,205.4 646.4,259.9 653.4,330.2 660.3,330.8 667.2,296.2 674.1,346.6 681.0,360.0 688.0,392.2 694.9,384.6 701.8,344.8 708.7,290.6 715.7,255.1 722.6,201.1 729.5,247.0 736.4,360.8 743.3,361.7 750.3,362.3 757.2,274.2 764.1,306.3 771.0,340.6 777.9,361.3 784.9,362.0 791.8,320.3 798.7,220.4 805.6,188.4 812.6,182.3 819.5,226.8 826.4,336.7 833.3,294.8 840.2,276.5 847.2,266.5 854.1,347.5 861.0,347.6 867.9,326.2 874.9,306.5 881.8,182.5 888.7,155.8 895.6,219.8 902.5,286.5 909.5,312.9 916.4,286.4 923.3,268.2" fill="none" stroke="#bcbcbc" stroke-width="1.25" stroke-linejoin="round" />
<polyline points="99.6,405.5 106.5,374.1 113.5,333.1 120.4,353.1 127.3,246.7 134.2,209.5 141.2,276.9 148.1,327.6 155.0,334.8 161.9,289.7 168.8,297.8 175.8,323.3 182.7,317.7 189.6,383.5 196.5,331.8 203.4,255.8 210.4,224.7 217.3,183.6 224.2,202.8 231.1,235.8 238.1,279.2 245.0,309.0 251.9,291.9 258.8,290.5 265.7,250.5 272.7,237.1 279.6,278.4 286.5,322.1 293.4,318.9 300.4,281.0 307.3,203.5 314.2,213.7 321.1,263.6 328.0,325.1 335.0,297.4 341.9,285.0 348.8,301.2 355.7,320.4 362.6,278.3 369.6,289.5 376.5,219.9 383.4,184.8 390.3,211.1 397.3,234.1 404.2,295.0 411.1,338.9 418.0,324.0 424.9,333.7 431.9,307.7 438.8,328.2 445.7,324.1 452.6,291.8 459.6,369.2 466.5,286.6 473.4,305.8 480.3,295.3 487.2,347.7 494.2,347.1 501.1,289.2 508.0,343.2 514.9,324.0 521.8,340.9 528.8,407.6 535.7,343.0 542.6,309.4 549.5,289.8 556.5,275.9 563.4,191.5 570.3,287.7 577.2,380.8 584.1,376.6 591.1,345.4 598.0,340.8 604.9,343.0 611.8,381.7 618.7,340.8 625.7,328.7 632.6,327.0 639.5,295.6 646.4,287.6 653.4,281.4 660.3,305.7 667.2,329.7 674.1,314.2 681.0,311.4 688.0,276.2 694.9,337.0 701.8,309.9 708.7,268.4 715.7,279.7 722.6,250.3 729.5,274.4 736.4,329.0 743.3,325.5 750.3,289.7 757.2,263.6 764.1,298.9 771.0,319.9 777.9,275.4 784.9,337.3 791.8,304.3 798.7,249.7 805.6,233.8 812.6,240.3 819.5,288.7 826.4,306.1 833.3,282.0 840.2,300.2 847.2,315.2 854.1,342.0 861.0,355.9 867.9,328.1 874.9,326.1 881.8,255.2 888.7,207.7 895.6,220.2 902.5,257.2 909.5,331.4 916.4,275.4 923.3,314.2" fill="none" stroke="#bcbcbc" stroke-width="1.25" stroke-linejoin="round" />
<polyline points="99.6,424.7 106.5,392.6 113.5,361.5 120.4,306.0 127.3,287.3 134.2,244.3 141.2,340.3 148.1,376.5 155.0,385.2 161.9,355.6 168.8,291.0 175.8,316.2 182.7,306.5 189.6,312.7 196.5,386.9 203.4,367.0 210.4,299.9 217.3,245.9 224.2,193.2 231.1,291.5 238.1,299.3 245.0,304.8 251.9,301.3 258.8,325.6 265.7,309.5 272.7,338.2 279.6,339.1 286.5,345.4 293.4,289.3 300.4,264.3 307.3,174.7 314.2,263.4 321.1,319.9 328.0,331.9 335.0,383.4 341.9,314.6 348.8,353.3 355.7,362.2 362.6,393.1 369.6,356.8 376.5,288.5 383.4,237.6 390.3,224.3 397.3,202.4 404.2,292.5 411.1,361.8 418.0,306.6 424.9,276.2 431.9,260.3 438.8,253.9 445.7,352.3 452.6,333.5 459.6,286.5 466.5,264.4 473.4,220.7 480.3,302.7 487.2,325.6 494.2,303.5 501.1,393.1 508.0,367.1 514.9,354.0 521.8,360.9 528.8,311.8 535.7,351.7 542.6,284.9 549.5,209.5 556.5,273.0 563.4,316.2 570.3,304.1 577.2,294.7 584.1,288.2 591.1,383.4 598.0,360.3 604.9,364.0 611.8,391.2 618.7,358.8 625.7,218.1 632.6,218.4 639.5,227.2 646.4,255.3 653.4,328.4 660.3,370.6 667.2,348.2 674.1,297.4 681.0,305.0 688.0,368.5 694.9,385.7 701.8,363.1 708.7,343.9 715.7,255.1 722.6,201.0 729.5,247.1 736.4,283.8 743.3,282.5 750.3,283.1 757.2,302.0 764.1,307.5 771.0,375.9 777.9,409.9 784.9,331.4 791.8,271.7 798.7,214.3 805.6,233.7 812.6,284.5 819.5,357.4 826.4,344.8 833.3,303.0 840.2,315.1 847.2,318.1 854.1,412.6 861.0,411.8 867.9,311.0 874.9,222.9 881.8,202.3 888.7,225.8 895.6,322.8 902.5,348.0 909.5,334.1 916.4,365.6 923.3,322.8" fill="none" stroke="#bcbcbc" stroke-width="1.25" stroke-linejoin="round" />
<polyline points="99.6,395.5 106.5,362.8 113.5,403.6 120.4,350.6 127.3,284.7 134.2,320.0 141.2,360.4 148.1,338.0 155.0,318.9 161.9,297.9 168.8,295.5 175.8,215.9 182.7,265.6 189.6,312.8 196.5,251.1 203.4,225.7 210.4,216.3 217.3,147.7 224.2,163.4 231.1,196.8 238.1,245.7 245.0,294.5 251.9,238.8 258.8,240.1 265.7,280.9 272.7,313.9 279.6,289.4 286.5,294.9 293.4,259.1 300.4,201.4 307.3,176.0 314.2,248.5 321.1,256.1 328.0,264.7 335.0,249.3 341.9,204.8 348.8,229.0 355.7,242.3 362.6,240.9 369.6,287.8 376.5,223.1 383.4,168.5 390.3,151.6 397.3,123.5 404.2,181.0 411.1,282.1 418.0,264.6 424.9,258.2 431.9,253.5 438.8,283.7 445.7,273.1 452.6,271.1 459.6,279.5 466.5,225.0 473.4,178.4 480.3,233.1 487.2,287.0 494.2,324.7 501.1,328.4 508.0,285.9 514.9,257.7 521.8,241.1 528.8,263.2 535.7,256.1 542.6,222.7 549.5,177.8 556.5,192.2 563.4,203.9 570.3,257.1 577.2,307.7 584.1,318.4 591.1,307.8 598.0,321.0 604.9,367.3 611.8,324.4 618.7,292.8 625.7,249.2 632.6,204.4 639.5,192.0 646.4,264.0 653.4,303.3 660.3,353.4 667.2,373.7 674.1,377.5 681.0,307.1 688.0,379.6 694.9,321.5 701.8,239.7 708.7,234.3 715.7,157.6 722.6,156.5 729.5,218.4 736.4,217.0 743.3,243.0 750.3,278.0 757.2,270.5 764.1,291.6 771.0,345.3 777.9,380.4 784.9,275.9 791.8,283.8 798.7,247.6 805.6,233.3 812.6,230.6 819.5,279.0 826.4,323.4 833.3,350.7 840.2,350.2 847.2,338.0 854.1,325.0 861.0,276.9 867.9,261.7 874.9,205.7 881.8,194.3 888.7,190.6 895.6,261.1 902.5,291.2 909.5,379.5 916.4,344.0 923.3,256.1" fill="none" stroke="#bcbcbc" stroke-width="1.25" stroke-linejoin="round" />
<polyline points="99.6,399.8 106.5,387.0 113.5,367.8 120.4,272.6 127.3,225.7 134.2,197.1 141.2,200.2 148.1,280.1 155.0,312.8 161.9,306.0 168.8,332.8 175.8,262.4 182.7,267.8 189.6,305.8 196.5,357.7 203.4,305.8 210.4,213.8 217.3,200.2 224.2,190.5 231.1,200.6 238.1,307.0 245.0,383.8 251.9,333.6 258.8,302.6 265.7,299.7 272.7,333.1 279.6,329.2 286.5,308.9 293.4,278.0 300.4,231.1 307.3,167.3 314.2,185.9 321.1,238.2 328.0,276.6 335.0,375.6 341.9,339.1 348.8,336.1 355.7,336.8 362.6,377.6 369.6,274.1 376.5,227.8 383.4,209.9 390.3,197.8 397.3,258.3 404.2,326.4 411.1,310.5 418.0,304.7 424.9,330.0 431.9,340.5 438.8,351.0 445.7,375.4 452.6,284.8 459.6,279.8 466.5,171.1 473.4,159.9 480.3,260.1 487.2,306.0 494.2,290.1 501.1,294.8 508.0,323.1 514.9,312.4 521.8,280.0 528.8,369.6 535.7,316.0 542.6,274.6 549.5,231.1 556.5,211.2 563.4,256.3 570.3,278.4 577.2,307.7 584.1,333.9 591.1,258.0 598.0,327.0 604.9,325.3 611.8,339.8 618.7,281.5 625.7,246.0 632.6,181.1 639.5,176.7 646.4,201.1 653.4,269.7 660.3,253.8 667.2,296.6 674.1,249.5 681.0,268.6 688.0,311.5 694.9,357.2 701.8,313.5 708.7,315.9 715.7,284.9 722.6,200.8 729.5,284.3 736.4,277.3 743.3,331.1 750.3,307.0 757.2,286.6 764.1,287.9 771.0,334.3 777.9,362.5 784.9,332.9 791.8,252.4 798.7,184.8 805.6,140.4 812.6,202.9 819.5,289.0 826.4,378.0 833.3,318.0 840.2,270.7 847.2,325.6 854.1,326.7 861.0,289.7 867.9,273.3 874.9,206.9 881.8,178.3 888.7,261.3 895.6,309.9 902.5,350.1 909.5,318.8 916.4,322.4 923.3,321.3" fill="none" stroke="#bcbcbc" stroke-width="1.25" stroke-linejoin="round" />
<polyline points="99.6,400.3 106.5,420.8 113.5,375.7 120.4,320.7 127.3,247.2 134.2,170.6 141.2,225.5 148.1,282.4 155.0,319.3 161.9,310.6 168.8,305.4 175.8,311.2 182.7,265.5 189.6,356.3 196.5,319.5 203.4,267.0 210.4,223.7 217.3,217.2 224.2,221.0 231.1,272.6 238.1,332.8 245.0,313.2 251.9,295.4 258.8,300.1 265.7,271.1 272.7,334.3 279.6,328.7 286.5,328.2 293.4,269.7 300.4,227.8 307.3,189.5 314.2,254.5 321.1,317.1 328.0,359.3 335.0,320.7 341.9,271.1 348.8,251.1 355.7,301.7 362.6,325.3 369.6,378.0 376.5,389.0 383.4,327.3 390.3,272.2 397.3,283.1 404.2,340.0 411.1,327.0 418.0,354.7 424.9,368.3 431.9,262.1 438.8,306.0 445.7,347.3 452.6,307.1 459.6,301.6 466.5,206.2 473.4,240.2 480.3,298.6 487.2,329.5 494.2,371.1 501.1,297.9 508.0,337.0 514.9,350.0 521.8,349.5 528.8,343.0 535.7,297.1 542.6,266.9 549.5,175.4 556.5,205.1 563.4,248.4 570.3,283.5 577.2,338.0 584.1,333.7 591.1,324.9 598.0,345.9 604.9,388.3 611.8,389.3 618.7,387.3 625.7,302.3 632.6,296.6 639.5,188.4 646.4,197.1 653.4,250.3 660.3,313.5 667.2,326.3 674.1,272.2 681.0,302.9 688.0,321.6 694.9,357.1 701.8,292.0 708.7,288.5 715.7,240.1 722.6,285.6 729.5,319.9 736.4,327.8 743.3,350.7 750.3,337.4 757.2,295.3 764.1,306.0 771.0,291.2 777.9,403.7 784.9,354.4 791.8,304.1 798.7,312.9 805.6,290.7 812.6,241.0 819.5,317.7 826.4,362.2 833.3,333.7 840.2,325.9 847.2,311.0 854.1,366.7 861.0,358.4 867.9,301.7 874.9,269.3 881.8,302.8 888.7,234.4 895.6,267.8 902.5,343.1 909.5,313.1 916.4,362.2 923.3,271.4" fill="none" stroke="#bcbcbc" stroke-width="1.25" stroke-linejoin="round" />
<polyline points="99.6,364.3 106.5,328.6 113.5,372.6 120.4,339.3 127.3,300.1 134.2,199.1 141.2,237.1 148.1,317.4 155.0,387.8 161.9,356.0 168.8,290.0 175.8,287.2 182.7,324.6 189.6,318.7 196.5,362.4 203.4,306.7 210.4,230.0 217.3,206.9 224.2,211.2 231.1,239.2 238.1,296.0 245.0,318.3 251.9,285.9 258.8,269.4 265.7,306.6 272.7,345.5 279.6,343.9 286.5,292.3 293.4,226.3 300.4,226.5 307.3,151.6 314.2,180.0 321.1,265.6 328.0,306.6 335.0,284.2 341.9,225.5 348.8,294.7 355.7,302.4 362.6,344.0 369.6,344.0 376.5,268.2 383.4,209.3 390.3,211.7 397.3,224.7 404.2,269.6 411.1,362.5 418.0,320.4 424.9,302.6 431.9,297.8 438.8,324.5 445.7,305.5 452.6,311.8 459.6,289.6 466.5,187.1 473.4,186.4 480.3,245.3 487.2,345.6 494.2,335.0 501.1,318.4 508.0,285.4 514.9,306.6 521.8,350.0 528.8,387.4 535.7,366.1 542.6,286.4 549.5,229.9 556.5,161.0 563.4,257.7 570.3,334.1 577.2,385.7 584.1,306.8 591.1,334.5 598.0,308.9 604.9,305.5 611.8,352.5 618.7,310.1 625.7,335.7 632.6,265.9 639.5,260.7 646.4,266.8 653.4,318.6 660.3,371.5 667.2,311.2 674.1,286.1 681.0,328.4 688.0,370.5 694.9,412.9 701.8,357.5 708.7,231.6 715.7,226.7 722.6,196.6 729.5,269.1 736.4,301.5 743.3,325.1 750.3,322.3 757.2,357.1 764.1,347.7 771.0,317.7 777.9,362.2 784.9,336.9 791.8,319.7 798.7,317.3 805.6,227.5 812.6,222.5 819.5,299.5 826.4,354.2 833.3,341.3 840.2,334.3 847.2,312.8 854.1,350.4 861.0,440.6 867.9,385.9 874.9,337.3 881.8,288.7 888.7,211.4 895.6,253.4 902.5,292.8 909.5,311.9 916.4,316.3 923.3,344.5" fill="none" stroke="#bcbcbc" stroke-width="1.25" stroke-linejoin="round" />
<polyline points="99.6,330.3 106.5,330.1 113.5,321.2 120.4,276.3 127.3,290.7 134.2,292.7 141.2,290.5 148.1,296.8 155.0,329.3 161.9,311.8 168.8,287.0 175.8,283.6 182.7,257.1 189.6,275.9 196.5,291.2 203.4,325.3 210.4,306.0 217.3,235.9 224.2,245.0 231.1,223.3 238.1,272.8 245.0,312.9 251.9,273.7 258.8,280.5 265.7,298.1 272.7,320.0 279.6,318.0 286.5,222.5 293.4,295.9 300.4,248.2 307.3,220.4 314.2,204.1 321.1,266.9 328.0,367.6 335.0,286.9 341.9,305.5 348.8,298.7 355.7,350.5 362.6,366.4 369.6,332.5 376.5,256.2 383.4,203.4 390.3,219.2 397.3,232.7 404.2,290.1 411.1,304.3 418.0,288.2 424.9,260.7 431.9,293.4 438.8,311.1 445.7,318.6 452.6,309.0 459.6,307.1 466.5,213.4 473.4,220.4 480.3,216.3 487.2,263.2 494.2,268.7 501.1,352.6 508.0,254.7 514.9,281.5 521.8,336.9 528.8,335.6 535.7,265.4 542.6,260.5 549.5,286.4 556.5,260.2 563.4,210.8 570.3,302.1 577.2,327.7 584.1,334.8 591.1,249.0 598.0,283.3 604.9,274.6 611.8,333.0 618.7,338.4 625.7,265.8 632.6,222.8 639.5,258.9 646.4,245.6 653.4,270.1 660.3,325.6 667.2,303.8 674.1,280.5 681.0,313.6 688.0,344.2 694.9,354.8 701.8,324.4 708.7,318.9 715.7,262.7 722.6,287.3 729.5,289.4 736.4,316.6 743.3,351.7 750.3,294.2 757.2,235.2 764.1,230.7 771.0,319.1 777.9,295.5 784.9,305.0 791.8,293.3 798.7,281.9 805.6,244.4 812.6,203.2 819.5,243.6 826.4,307.9 833.3,335.3 840.2,322.7 847.2,302.2 854.1,271.8 861.0,333.7 867.9,307.6 874.9,284.8 881.8,268.4 888.7,239.7 895.6,257.5 902.5,341.7 909.5,362.0 916.4,288.8 923.3,280.3" fill="none" stroke="#bcbcbc" stroke-width="1.25" stroke-linejoin="round" />
<polyline points="99.6,344.8 106.5,384.6 113.5,395.8 120.4,352.0 127.3,263.4 134.2,211.8 141.2,244.9 148.1,314.6 155.0,297.8 161.9,283.4 168.8,207.8 175.8,242.0 182.7,222.3 189.6,308.5 196.5,337.9 203.4,323.7 210.4,280.9 217.3,245.9 224.2,205.7 231.1,222.9 238.1,280.9 245.0,286.4 251.9,280.9 258.8,262.0 265.7,230.3 272.7,273.4 279.6,305.8 286.5,295.7 293.4,260.2 300.4,203.8 307.3,202.9 314.2,197.2 321.1,221.7 328.0,255.3 335.0,287.4 341.9,317.5 348.8,309.5 355.7,299.6 362.6,297.5 369.6,326.7 376.5,312.7 383.4,226.2 390.3,224.6 397.3,170.9 404.2,199.7 411.1,310.0 418.0,318.3 424.9,318.1 431.9,328.8 438.8,389.4 445.7,412.1 452.6,336.1 459.6,296.0 466.5,234.7 473.4,238.7 480.3,268.5 487.2,316.0 494.2,378.7 501.1,382.1 508.0,313.2 514.9,301.2 521.8,341.3 528.8,353.0 535.7,328.0 542.6,253.7 549.5,269.2 556.5,212.7 563.4,158.4 570.3,237.2 577.2,259.7 584.1,376.9 591.1,291.4 598.0,291.4 604.9,351.7 611.8,326.2 618.7,316.0 625.7,280.2 632.6,234.5 639.5,221.4 646.4,219.6 653.4,253.0 660.3,296.2 667.2,317.1 674.1,326.4 681.0,301.3 688.0,296.6 694.9,322.4 701.8,258.6 708.7,204.0 715.7,245.6 722.6,230.0 729.5,275.7 736.4,334.1 743.3,330.3 750.3,353.3 757.2,345.4 764.1,329.2 771.0,316.4 777.9,352.6 784.9,342.4 791.8,272.2 798.7,226.5 805.6,190.9 812.6,203.9 819.5,305.3 826.4,329.7 833.3,339.0 840.2,279.0 847.2,282.9 854.1,354.5 861.0,312.0 867.9,333.4 874.9,248.5 881.8,215.7 888.7,241.7 895.6,305.8 902.5,339.1 909.5,340.4 916.4,335.7 923.3,294.6" fill="none" stroke="#bcbcbc" stroke-width="1.25" stroke-linejoin="round" />
<polyline points="99.6,400.1 106.5,344.8 113.5,334.2 120.4,292.5 127.3,286.4 134.2,319.8 141.2,357.6 148.1,304.1 155.0,290.9 161.9,283.4 168.8,255.9 175.8,300.3 182.7,269.1 189.6,288.8 196.5,330.0 203.4,278.8 210.4,297.8 217.3,225.5 224.2,225.7 231.1,224.8 238.1,225.0 245.0,255.8 251.9,282.0 258.8,267.9 265.7,298.5 272.7,343.5 279.6,349.1 286.5,298.4 293.4,242.7 300.4,270.3 307.3,256.6 314.2,264.9 321.1,293.9 328.0,326.1 335.0,268.7 341.9,312.1 348.8,280.3 355.7,255.7 362.6,355.7 369.6,319.0 376.5,279.8 383.4,245.3 390.3,246.0 397.3,260.5 404.2,327.4 411.1,325.8 418.0,297.9 424.9,306.5 431.9,331.5 438.8,346.0 445.7,339.2 452.6,312.6 459.6,285.1 466.5,251.2 473.4,275.4 480.3,360.9 487.2,328.3 494.2,292.0 501.1,336.8 508.0,330.2 514.9,309.2 521.8,298.9 528.8,308.8 535.7,274.0 542.6,275.1 549.5,243.6 556.5,219.3 563.4,267.5 570.3,271.3 577.2,297.2 584.1,277.6 591.1,295.6 598.0,277.7 604.9,342.9 611.8,332.3 618.7,389.7 625.7,349.1 632.6,263.4 639.5,254.0 646.4,266.8 653.4,348.2 660.3,298.9 667.2,283.6 674.1,286.8 681.0,284.2 688.0,298.1 694.9,284.3 701.8,301.4 708.7,335.1 715.7,296.2 722.6,221.4 729.5,224.4 736.4,285.0 743.3,299.1 750.3,309.8 757.2,285.1 764.1,338.2 771.0,357.5 777.9,332.8 784.9,336.8 791.8,300.8 798.7,219.6 805.6,233.0 812.6,238.9 819.5,295.8 826.4,339.8 833.3,335.4 840.2,356.2 847.2,390.1 854.1,326.6 861.0,341.9 867.9,292.1 874.9,276.9 881.8,251.0 888.7,218.9 895.6,238.1 902.5,326.4 909.5,302.3 916.4,331.9 923.3,303.3" fill="none" stroke="#bcbcbc" stroke-width="1.25" stroke-linejoin="round" />
<polyline points="99.6,374.0 106.5,381.4 113.5,348.7 120.4,325.6 127.3,291.7 134.2,237.2 141.2,307.8 148.1,366.0 155.0,346.1 161.9,380.2 168.8,309.6 175.8,306.9 182.7,326.9 189.6,321.8 196.5,323.9 203.4,337.6 210.4,297.3 217.3,220.0 224.2,164.6 231.1,192.5 238.1,273.8 245.0,338.8 251.9,340.9 258.8,284.9 265.7,280.5 272.7,313.1 279.6,297.5 286.5,302.3 293.4,274.4 300.4,235.2 307.3,155.7 314.2,282.6 321.1,313.1 328.0,323.8 335.0,308.6 341.9,231.0 348.8,240.8 355.7,280.7 362.6,356.5 369.6,326.0 376.5,302.0 383.4,249.0 390.3,201.7 397.3,241.9 404.2,276.8 411.1,283.7 418.0,277.7 424.9,276.4 431.9,349.4 438.8,330.0 445.7,329.9 452.6,329.3 459.6,303.5 466.5,231.3 473.4,223.9 480.3,234.5 487.2,334.1 494.2,385.5 501.1,349.2 508.0,356.0 514.9,344.2 521.8,348.4 528.8,402.1 535.7,330.5 542.6,305.6 549.5,236.5 556.5,210.2 563.4,272.0 570.3,341.0 577.2,408.2 584.1,379.1 591.1,355.8 598.0,289.7 604.9,291.3 611.8,377.0 618.7,350.5 625.7,319.0 632.6,288.1 639.5,225.1 646.4,195.4 653.4,271.8 660.3,332.0 667.2,343.9 674.1,351.6 681.0,329.9 688.0,358.1 694.9,387.3 701.8,369.8 708.7,298.0 715.7,222.6 722.6,200.9 729.5,278.1 736.4,307.7 743.3,339.5 750.3,310.9 757.2,271.9 764.1,322.8 771.0,347.2 777.9,385.0 784.9,387.8 791.8,277.2 798.7,224.9 805.6,253.5 812.6,241.7 819.5,311.5 826.4,319.1 833.3,330.9 840.2,320.0 847.2,316.4 854.1,337.1 861.0,366.5 867.9,355.6 874.9,314.6 881.8,247.8 888.7,243.6 895.6,260.6 902.5,317.0 909.5,367.2 916.4,326.9 923.3,343.6" fill="none" stroke="#bcbcbc" stroke-width="1.25" stroke-linejoin="round" />
<polyline points="99.6,389.1 106.5,419.3 113.5,336.8 120.4,292.7 127.3,280.3 134.2,315.6 141.2,317.9 148.1,296.9 155.0,338.6 161.9,326.9 168.8,352.0 175.8,304.5 182.7,289.9 189.6,242.6 196.5,295.5 203.4,310.0 210.4,298.4 217.3,227.3 224.2,247.8 231.1,219.3 238.1,255.0 245.0,306.4 251.9,325.0 258.8,265.6 265.7,232.0 272.7,299.0 279.6,302.6 286.5,246.7 293.4,263.0 300.4,241.0 307.3,257.7 314.2,275.6 321.1,309.0 328.0,334.5 335.0,332.8 341.9,348.5 348.8,375.3 355.7,386.7 362.6,332.1 369.6,314.5 376.5,293.4 383.4,227.8 390.3,225.7 397.3,295.9 404.2,340.0 411.1,310.3 418.0,288.6 424.9,318.0 431.9,315.0 438.8,335.9 445.7,306.5 452.6,323.0 459.6,259.6 466.5,226.5 473.4,263.6 480.3,261.3 487.2,285.8 494.2,351.5 501.1,271.4 508.0,320.8 514.9,342.5 521.8,354.2 528.8,338.7 535.7,318.0 542.6,302.9 549.5,233.9 556.5,215.7 563.4,211.1 570.3,204.0 577.2,286.3 584.1,381.2 591.1,349.7 598.0,371.0 604.9,362.5 611.8,351.4 618.7,357.3 625.7,334.3 632.6,281.0 639.5,264.0 646.4,360.4 653.4,327.5 660.3,334.1 667.2,318.3 674.1,301.0 681.0,335.9 688.0,341.5 694.9,324.2 701.8,299.2 708.7,280.5 715.7,270.2 722.6,265.8 729.5,230.0 736.4,270.8 743.3,330.8 750.3,391.4 757.2,365.9 764.1,388.3 771.0,323.3 777.9,338.3 784.9,365.6 791.8,339.7 798.7,224.3 805.6,193.1 812.6,258.7 819.5,292.4 826.4,361.8 833.3,402.9 840.2,347.5 847.2,265.9 854.1,274.2 861.0,319.4 867.9,326.2 874.9,289.2 881.8,229.4 888.7,273.1 895.6,343.3 902.5,295.4 909.5,319.5 916.4,270.5 923.3,280.4" fill="none" stroke="#bcbcbc" stroke-width="1.25" stroke-linejoin="round" />
<polyline points="99.6,351.4 106.5,383.8 113.5,344.1 120.4,296.1 127.3,219.5 134.2,209.1 141.2,222.9 148.1,283.2 155.0,295.9 161.9,254.7 168.8,255.2 175.8,232.8 182.7,249.7 189.6,266.3 196.5,319.5 203.4,287.0 210.4,223.7 217.3,199.6 224.2,141.1 231.1,154.2 238.1,254.0 245.0,282.2 251.9,251.2 258.8,265.5 265.7,316.7 272.7,311.5 279.6,347.6 286.5,268.0 293.4,253.4 300.4,214.6 307.3,194.8 314.2,200.4 321.1,274.5 328.0,338.0 335.0,319.8 341.9,310.7 348.8,257.6 355.7,331.0 362.6,345.7 369.6,342.7 376.5,326.6 383.4,202.0 390.3,233.1 397.3,190.1 404.2,299.5 411.1,324.7 418.0,248.9 424.9,317.9 431.9,342.0 438.8,306.5 445.7,333.1 452.6,332.4 459.6,283.8 466.5,257.7 473.4,198.1 480.3,186.7 487.2,280.5 494.2,321.9 501.1,278.3 508.0,217.8 514.9,284.1 521.8,315.8 528.8,360.5 535.7,347.3 542.6,300.8 549.5,256.9 556.5,256.5 563.4,321.2 570.3,357.7 577.2,358.7 584.1,294.5 591.1,298.8 598.0,307.7 604.9,313.9 611.8,324.0 618.7,319.5 625.7,281.3 632.6,178.3 639.5,176.0 646.4,231.3 653.4,334.2 660.3,336.9 667.2,326.6 674.1,241.8 681.0,281.8 688.0,289.2 694.9,304.9 701.8,272.4 708.7,306.5 715.7,208.9 722.6,186.9 729.5,211.0 736.4,277.4 743.3,333.5 750.3,339.3 757.2,373.7 764.1,338.5 771.0,352.5 777.9,367.4 784.9,314.3 791.8,191.9 798.7,169.2 805.6,212.1 812.6,222.3 819.5,321.3 826.4,329.5 833.3,320.3 840.2,313.6 847.2,301.0 854.1,320.4 861.0,356.3 867.9,320.3 874.9,265.3 881.8,229.3 888.7,216.4 895.6,282.3 902.5,343.4 909.5,341.4 916.4,342.4 923.3,299.6" fill="none" stroke="#bcbcbc" stroke-width="1.25" stroke-linejoin="round" />
<polyline points="99.6,373.1 106.5,334.8 113.5,334.1 120.4,259.4 127.3,161.0 134.2,181.2 141.2,230.7 148.1,286.8 155.0,302.9 161.9,288.0 168.8,271.5 175.8,246.7 182.7,332.2 189.6,340.9 196.5,308.9 203.4,299.7 210.4,241.5 217.3,206.5 224.2,178.2 231.1,206.0 238.1,231.7 245.0,258.9 251.9,278.3 258.8,262.2 265.7,248.4 272.7,229.5 279.6,347.3 286.5,341.1 293.4,364.3 300.4,271.0 307.3,205.7 314.2,158.0 321.1,183.2 328.0,253.9 335.0,326.9 341.9,298.2 348.8,257.9 355.7,311.3 362.6,331.9 369.6,339.7 376.5,244.4 383.4,219.1 390.3,211.8 397.3,256.5 404.2,327.1 411.1,345.2 418.0,279.5 424.9,252.8 431.9,239.6 438.8,261.0 445.7,345.6 452.6,310.4 459.6,232.7 466.5,145.3 473.4,191.4 480.3,270.6 487.2,299.8 494.2,347.3 501.1,352.1 508.0,298.5 514.9,326.5 521.8,407.1 528.8,391.4 535.7,346.1 542.6,277.5 549.5,207.5 556.5,179.8 563.4,234.7 570.3,317.1 577.2,394.3 584.1,362.2 591.1,289.1 598.0,279.3 604.9,253.2 611.8,320.7 618.7,384.2 625.7,305.4 632.6,231.0 639.5,233.0 646.4,262.3 653.4,279.5 660.3,302.5 667.2,354.4 674.1,329.0 681.0,341.1 688.0,386.6 694.9,408.9 701.8,343.4 708.7,294.6 715.7,253.4 722.6,289.3 729.5,241.1 736.4,330.5 743.3,349.1 750.3,353.8 757.2,305.3 764.1,365.5 771.0,365.9 777.9,360.3 784.9,292.1 791.8,284.1 798.7,244.4 805.6,235.9 812.6,220.3 819.5,340.1 826.4,334.0 833.3,330.4 840.2,303.2 847.2,303.9 854.1,337.8 861.0,338.4 867.9,302.9 874.9,277.9 881.8,231.6 888.7,266.8 895.6,299.2 902.5,355.3 909.5,357.1 916.4,302.8 923.3,286.9" fill="none" stroke="#bcbcbc" stroke-width="1.25" stroke-linejoin="round" />
<polyline points="99.6,411.9 106.5,365.6 113.5,331.6 120.4,338.1 127.3,270.0 134.2,233.2 141.2,282.1 148.1,292.8 155.0,308.1 161.9,271.0 168.8,265.5 175.8,277.0 182.7,264.9 189.6,266.7 196.5,294.2 203.4,308.9 210.4,296.1 217.3,252.4 224.2,220.4 231.1,210.1 238.1,246.4 245.0,288.8 251.9,291.3 258.8,269.9 265.7,230.6 272.7,248.5 279.6,314.5 286.5,290.8 293.4,274.2 300.4,235.9 307.3,209.0 314.2,250.8 321.1,327.1 328.0,403.3 335.0,338.1 341.9,266.6 348.8,303.6 355.7,295.9 362.6,332.5 369.6,321.1 376.5,318.2 383.4,274.9 390.3,232.8 397.3,291.2 404.2,287.5 411.1,319.6 418.0,391.4 424.9,315.3 431.9,302.8 438.8,315.5 445.7,327.3 452.6,332.5 459.6,325.9 466.5,280.7 473.4,244.7 480.3,190.8 487.2,215.3 494.2,305.8 501.1,323.5 508.0,294.3 514.9,282.1 521.8,326.2 528.8,371.3 535.7,303.8 542.6,269.8 549.5,301.2 556.5,301.1 563.4,284.1 570.3,290.2 577.2,310.1 584.1,339.1 591.1,364.1 598.0,331.8 604.9,328.8 611.8,340.6 618.7,330.7 625.7,269.4 632.6,237.5 639.5,255.7 646.4,273.4 653.4,348.8 660.3,318.9 667.2,295.3 674.1,319.9 681.0,304.3 688.0,282.5 694.9,383.6 701.8,365.4 708.7,279.1 715.7,303.7 722.6,256.0 729.5,281.2 736.4,296.8 743.3,394.2 750.3,410.1 757.2,364.3 764.1,334.4 771.0,336.4 777.9,332.5 784.9,281.9 791.8,245.2 798.7,206.4 805.6,241.6 812.6,278.1 819.5,229.1 826.4,231.3 833.3,248.4 840.2,253.2 847.2,257.4 854.1,318.6 861.0,289.5 867.9,320.4 874.9,298.3 881.8,199.4 888.7,259.0 895.6,251.6 902.5,345.0 909.5,371.3 916.4,346.3 923.3,325.1" fill="none" stroke="#bcbcbc" stroke-width="1.25" stroke-linejoin="round" />
<polyline points="99.6,353.6 106.5,313.1 113.5,294.6 120.4,244.2 127.3,247.2 134.2,274.1 141.2,337.2 148.1,340.6 155.0,314.9 161.9,263.2 168.8,297.9 175.8,191.1 182.7,238.2 189.6,233.6 196.5,244.9 203.4,327.1 210.4,275.0 217.3,179.7 224.2,237.2 231.1,210.8 238.1,278.2 245.0,303.9 251.9,272.3 258.8,307.6 265.7,290.4 272.7,318.7 279.6,325.5 286.5,263.8 293.4,133.9 300.4,151.0 307.3,167.9 314.2,228.3 321.1,294.1 328.0,287.2 335.0,230.3 341.9,244.4 348.8,233.4 355.7,275.2 362.6,226.9 369.6,314.7 376.5,266.3 383.4,223.9 390.3,197.2 397.3,241.5 404.2,297.0 411.1,314.5 418.0,303.7 424.9,319.4 431.9,330.3 438.8,309.3 445.7,288.7 452.6,301.4 459.6,288.6 466.5,264.4 473.4,157.3 480.3,205.1 487.2,270.3 494.2,272.8 501.1,214.7 508.0,212.6 514.9,309.6 521.8,325.7 528.8,332.1 535.7,309.6 542.6,302.9 549.5,260.5 556.5,277.5 563.4,279.4 570.3,307.5 577.2,353.3 584.1,364.6 591.1,335.4 598.0,294.7 604.9,299.8 611.8,322.5 618.7,401.0 625.7,331.9 632.6,286.8 639.5,244.8 646.4,290.5 653.4,318.2 660.3,344.5 667.2,235.6 674.1,233.6 681.0,268.1 688.0,289.6 694.9,316.2 701.8,315.7 708.7,308.7 715.7,271.9 722.6,207.4 729.5,188.9 736.4,232.4 743.3,245.8 750.3,281.6 757.2,312.3 764.1,347.2 771.0,354.6 777.9,347.8 784.9,311.9 791.8,252.7 798.7,252.6 805.6,246.4 812.6,229.5 819.5,242.5 826.4,308.1 833.3,295.3 840.2,245.3 847.2,268.5 854.1,306.4 861.0,381.0 867.9,292.0 874.9,248.9 881.8,225.4 888.7,231.8 895.6,294.6 902.5,315.1 909.5,325.3 916.4,273.6 923.3,310.3" fill="none" stroke="#bcbcbc" stroke-width="1.25" stroke-linejoin="round" />
<polyline points="99.6,329.9 106.5,336.9 113.5,338.7 120.4,239.3 127.3,232.3 134.2,203.6 141.2,259.4 148.1,295.4 155.0,304.7 161.9,278.9 168.8,279.9 175.8,295.8 182.7,281.8 189.6,301.9 196.5,299.1 203.4,296.5 210.4,276.6 217.3,239.1 224.2,202.7 231.1,139.5 238.1,203.4 245.0,274.4 251.9,293.3 258.8,253.4 265.7,265.9 272.7,296.7 279.6,317.6 286.5,287.6 293.4,241.7 300.4,196.8 307.3,229.6 314.2,273.2 321.1,370.8 328.0,321.8 335.0,264.9 341.9,223.0 348.8,251.0 355.7,255.6 362.6,300.3 369.6,297.8 376.5,310.7 383.4,270.3 390.3,232.5 397.3,212.7 404.2,219.1 411.1,295.1 418.0,281.0 424.9,262.4 431.9,297.5 438.8,361.8 445.7,372.4 452.6,374.0 459.6,315.8 466.5,260.3 473.4,222.1 480.3,242.4 487.2,270.0 494.2,336.4 501.1,291.7 508.0,329.4 514.9,310.8 521.8,315.3 528.8,356.3 535.7,369.7 542.6,285.0 549.5,261.4 556.5,199.6 563.4,217.7 570.3,282.2 577.2,318.3 584.1,279.1 591.1,266.1 598.0,305.9 604.9,300.0 611.8,305.8 618.7,321.0 625.7,299.6 632.6,272.8 639.5,236.3 646.4,236.3 653.4,295.2 660.3,281.2 667.2,331.0 674.1,302.9 681.0,337.7 688.0,333.9 694.9,363.6 701.8,240.2 708.7,272.4 715.7,262.4 722.6,196.4 729.5,206.0 736.4,335.8 743.3,331.9 750.3,285.9 757.2,314.5 764.1,287.9 771.0,331.8 777.9,370.0 784.9,340.4 791.8,303.4 798.7,289.8 805.6,170.0 812.6,238.7 819.5,312.3 826.4,307.1 833.3,304.1 840.2,249.8 847.2,281.8 854.1,290.6 861.0,318.5 867.9,323.5 874.9,308.6 881.8,272.8 888.7,185.2 895.6,220.3 902.5,274.3 909.5,318.9 916.4,309.0 923.3,286.2" fill="none" stroke="#bcbcbc" stroke-width="1.25" stroke-linejoin="round" />
<polyline points="99.6,373.3 106.5,348.0 113.5,348.8 120.4,307.9 127.3,280.0 134.2,291.0 141.2,244.2 148.1,252.8 155.0,310.6 161.9,260.4 168.8,262.2 175.8,263.6 182.7,236.0 189.6,347.9 196.5,363.1 203.4,285.2 210.4,258.6 217.3,253.5 224.2,198.9 231.1,230.1 238.1,306.8 245.0,314.4 251.9,262.9 258.8,218.5 265.7,307.6 272.7,298.8 279.6,321.1 286.5,357.8 293.4,311.8 300.4,314.6 307.3,275.0 314.2,216.9 321.1,248.6 328.0,267.4 335.0,269.4 341.9,265.0 348.8,247.9 355.7,307.9 362.6,326.6 369.6,303.8 376.5,318.6 383.4,298.8 390.3,227.8 397.3,181.3 404.2,251.7 411.1,312.3 418.0,304.8 424.9,292.2 431.9,317.6 438.8,309.2 445.7,301.0 452.6,291.9 459.6,190.2 466.5,175.9 473.4,194.4 480.3,225.6 487.2,201.9 494.2,238.8 501.1,291.8 508.0,286.2 514.9,294.5 521.8,329.1 528.8,329.8 535.7,318.7 542.6,303.7 549.5,292.0 556.5,238.6 563.4,301.6 570.3,289.0 577.2,318.5 584.1,313.3 591.1,372.2 598.0,292.6 604.9,345.2 611.8,356.7 618.7,329.2 625.7,345.1 632.6,327.2 639.5,352.4 646.4,299.8 653.4,267.6 660.3,268.5 667.2,312.6 674.1,313.0 681.0,289.6 688.0,334.1 694.9,361.2 701.8,277.8 708.7,300.9 715.7,236.0 722.6,230.4 729.5,219.9 736.4,299.3 743.3,308.9 750.3,299.4 757.2,301.0 764.1,304.9 771.0,346.7 777.9,340.4 784.9,327.4 791.8,271.0 798.7,256.3 805.6,295.1 812.6,312.7 819.5,329.9 826.4,355.8 833.3,289.3 840.2,284.5 847.2,278.4 854.1,334.7 861.0,350.2 867.9,298.1 874.9,325.1 881.8,271.0 888.7,252.4 895.6,290.8 902.5,312.6 909.5,357.1 916.4,322.7 923.3,341.6" fill="none" stroke="#bcbcbc" stroke-width="1.25" stroke-linejoin="round" />
<polyline points="99.6,356.4 106.5,364.2 113.5,371.0 120.4,351.1 127.3,255.4 134.2,166.0 141.2,286.9 148.1,373.9 155.0,311.3 161.9,344.0 168.8,287.1 175.8,300.4 182.7,258.8 189.6,259.8 196.5,292.0 203.4,262.0 210.4,233.9 217.3,172.9 224.2,119.9 231.1,117.7 238.1,220.0 245.0,295.5 251.9,290.6 258.8,266.2 265.7,263.0 272.7,312.2 279.6,305.0 286.5,283.1 293.4,229.6 300.4,185.2 307.3,135.8 314.2,225.2 321.1,230.3 328.0,277.3 335.0,260.5 341.9,232.5 348.8,243.2 355.7,274.5 362.6,287.6 369.6,269.4 376.5,269.9 383.4,192.6 390.3,196.9 397.3,252.1 404.2,227.2 411.1,325.2 418.0,287.5 424.9,240.0 431.9,229.2 438.8,237.0 445.7,332.9 452.6,355.6 459.6,284.4 466.5,245.3 473.4,145.1 480.3,160.9 487.2,223.2 494.2,275.4 501.1,309.6 508.0,285.7 514.9,296.5 521.8,305.5 528.8,344.3 535.7,333.6 542.6,340.6 549.5,312.0 556.5,216.5 563.4,190.3 570.3,268.3 577.2,316.9 584.1,357.5 591.1,256.1 598.0,307.4 604.9,256.4 611.8,330.1 618.7,326.1 625.7,306.8 632.6,266.5 639.5,181.3 646.4,145.2 653.4,218.0 660.3,308.1 667.2,265.0 674.1,232.5 681.0,268.8 688.0,323.2 694.9,314.9 701.8,281.2 708.7,200.5 715.7,202.4 722.6,199.4 729.5,274.1 736.4,275.6 743.3,248.0 750.3,263.2 757.2,254.5 764.1,254.0 771.0,318.5 777.9,345.2 784.9,264.3 791.8,210.1 798.7,183.7 805.6,156.3 812.6,231.0 819.5,347.4 826.4,319.8 833.3,294.0 840.2,233.0 847.2,259.4 854.1,295.1 861.0,314.4 867.9,321.3 874.9,335.4 881.8,263.5 888.7,217.0 895.6,155.9 902.5,154.9 909.5,290.0 916.4,341.3 923.3,330.5" fill="none" stroke="#bcbcbc" stroke-width="1.25" stroke-linejoin="round" />
<polyline points="99.6,389.9 106.5,379.0 113.5,379.5 120.4,295.9 127.3,264.9 134.2,246.7 141.2,259.3 148.1,297.5 155.0,302.1 161.9,274.3 168.8,265.0 175.8,305.0 182.7,269.9 189.6,282.7 196.5,259.6 203.4,285.8 210.4,208.8 217.3,122.0 224.2,147.5 231.1,254.7 238.1,277.2 245.0,277.5 251.9,252.9 258.8,260.8 265.7,246.8 272.7,287.2 279.6,295.9 286.5,310.0 293.4,269.5 300.4,203.1 307.3,202.1 314.2,195.9 321.1,273.2 328.0,307.9 335.0,303.6 341.9,242.8 348.8,281.5 355.7,260.1 362.6,338.2 369.6,317.6 376.5,252.8 383.4,207.4 390.3,222.3 397.3,263.9 404.2,256.2 411.1,329.3 418.0,292.1 424.9,291.8 431.9,289.3 438.8,241.1 445.7,244.6 452.6,241.8 459.6,281.3 466.5,229.4 473.4,208.6 480.3,244.5 487.2,248.4 494.2,343.7 501.1,304.0 508.0,282.4 514.9,318.3 521.8,277.3 528.8,341.8 535.7,308.0 542.6,268.0 549.5,297.7 556.5,295.1 563.4,319.3 570.3,303.5 577.2,289.2 584.1,271.9 591.1,270.1 598.0,347.3 604.9,329.5 611.8,350.4 618.7,289.5 625.7,232.1 632.6,157.6 639.5,154.6 646.4,183.1 653.4,283.3 660.3,308.4 667.2,338.4 674.1,275.4 681.0,319.2 688.0,331.3 694.9,361.1 701.8,339.3 708.7,278.3 715.7,258.6 722.6,214.8 729.5,271.3 736.4,259.1 743.3,322.0 750.3,277.5 757.2,211.5 764.1,336.3 771.0,365.1 777.9,351.4 784.9,279.7 791.8,272.1 798.7,224.8 805.6,240.9 812.6,249.3 819.5,329.9 826.4,304.3 833.3,383.3 840.2,382.3 847.2,287.5 854.1,309.9 861.0,350.3 867.9,252.4 874.9,218.1 881.8,180.5 888.7,208.9 895.6,230.4 902.5,270.0 909.5,351.9 916.4,300.3 923.3,292.9" fill="none" stroke="#bcbcbc" stroke-width="1.25" stroke-linejoin="round" />
<polyline points="99.6,426.1 106.5,363.1 113.5,326.9 120.4,349.0 127.3,308.2 134.2,282.9 141.2,259.6 148.1,323.7 155.0,317.0 161.9,272.4 168.8,330.0 175.8,332.4 182.7,316.3 189.6,337.9 196.5,265.8 203.4,250.3 210.4,244.2 217.3,259.2 224.2,205.2 231.1,219.2 238.1,283.1 245.0,313.8 251.9,340.8 258.8,304.9 265.7,282.3 272.7,276.8 279.6,277.6 286.5,252.6 293.4,267.0 300.4,258.2 307.3,220.1 314.2,253.3 321.1,319.6 328.0,301.6 335.0,270.4 341.9,263.3 348.8,280.7 355.7,322.3 362.6,320.1 369.6,264.3 376.5,267.0 383.4,275.9 390.3,239.5 397.3,296.3 404.2,303.8 411.1,332.3 418.0,292.3 424.9,289.1 431.9,266.3 438.8,230.4 445.7,300.0 452.6,341.8 459.6,303.1 466.5,285.0 473.4,257.6 480.3,281.1 487.2,285.0 494.2,316.4 501.1,390.2 508.0,351.9 514.9,324.3 521.8,302.7 528.8,346.6 535.7,353.8 542.6,280.5 549.5,285.0 556.5,263.6 563.4,273.9 570.3,292.4 577.2,324.8 584.1,355.2 591.1,298.5 598.0,323.3 604.9,334.8 611.8,277.7 618.7,292.7 625.7,343.9 632.6,330.3 639.5,299.6 646.4,289.4 653.4,340.8 660.3,309.2 667.2,307.3 674.1,310.2 681.0,319.0 688.0,325.6 694.9,322.4 701.8,355.8 708.7,331.0 715.7,309.6 722.6,252.1 729.5,264.2 736.4,342.1 743.3,366.2 750.3,290.9 757.2,327.4 764.1,320.4 771.0,355.4 777.9,317.4 784.9,319.8 791.8,313.6 798.7,317.0 805.6,286.2 812.6,271.6 819.5,292.6 826.4,365.4 833.3,293.9 840.2,307.9 847.2,347.0 854.1,342.8 861.0,369.9 867.9,365.8 874.9,346.6 881.8,304.6 888.7,287.2 895.6,339.3 902.5,321.9 909.5,354.9 916.4,304.0 923.3,289.0" fill="none" stroke="#bcbcbc" stroke-width="1.25" stroke-linejoin="round" />
<polyline points="99.6,397.4 106.5,333.9 113.5,359.6 120.4,277.2 127.3,265.4 134.2,241.2 141.2,278.1 148.1,283.5 155.0,296.5 161.9,250.2 168.8,236.4 175.8,234.7 182.7,204.5 189.6,272.6 196.5,252.7 203.4,265.3 210.4,294.3 217.3,229.1 224.2,206.5 231.1,162.6 238.1,237.7 245.0,269.2 251.9,265.5 258.8,314.3 265.7,270.6 272.7,309.2 279.6,268.2 286.5,235.7 293.4,249.5 300.4,282.6 307.3,230.6 314.2,218.6 321.1,229.8 328.0,283.5 335.0,328.3 341.9,300.9 348.8,314.2 355.7,261.1 362.6,316.7 369.6,319.6 376.5,282.0 383.4,281.3 390.3,246.8 397.3,255.7 404.2,298.6 411.1,319.6 418.0,265.2 424.9,253.1 431.9,320.9 438.8,336.3 445.7,301.8 452.6,306.3 459.6,266.9 466.5,237.9 473.4,219.6 480.3,264.9 487.2,302.8 494.2,335.3 501.1,297.4 508.0,318.3 514.9,251.8 521.8,284.7 528.8,318.4 535.7,299.0 542.6,294.4 549.5,267.2 556.5,243.7 563.4,260.4 570.3,306.8 577.2,341.4 584.1,299.1 591.1,313.8 598.0,310.2 604.9,322.0 611.8,306.8 618.7,259.8 625.7,302.1 632.6,256.8 639.5,231.8 646.4,234.4 653.4,245.6 660.3,325.8 667.2,299.9 674.1,287.6 681.0,322.1 688.0,280.3 694.9,281.9 701.8,251.6 708.7,294.6 715.7,262.4 722.6,256.7 729.5,254.3 736.4,254.4 743.3,350.4 750.3,317.8 757.2,302.3 764.1,269.5 771.0,284.2 777.9,343.0 784.9,346.1 791.8,356.9 798.7,332.9 805.6,278.7 812.6,257.5 819.5,250.1 826.4,329.7 833.3,264.8 840.2,252.2 847.2,266.4 854.1,345.6 861.0,388.9 867.9,348.9 874.9,292.9 881.8,183.3 888.7,189.6 895.6,275.2 902.5,273.2 909.5,254.6 916.4,268.7 923.3,248.2" fill="none" stroke="#bcbcbc" stroke-width="1.25" stroke-linejoin="round" />
<polyline points="99.6,371.6 106.5,343.5 113.5,351.1 120.4,238.1 127.3,208.5 134.2,171.1 141.2,207.7 148.1,240.8 155.0,269.0 161.9,277.9 168.8,248.3 175.8,247.4 182.7,256.0 189.6,299.4 196.5,299.6 203.4,273.7 210.4,274.7 217.3,233.2 224.2,213.7 231.1,227.4 238.1,258.6 245.0,288.8 251.9,292.8 258.8,278.6 265.7,234.7 272.7,296.7 279.6,351.5 286.5,278.6 293.4,263.5 300.4,233.6 307.3,144.3 314.2,164.1 321.1,217.0 328.0,229.6 335.0,244.7 341.9,223.5 348.8,266.9 355.7,303.4 362.6,317.9 369.6,247.9 376.5,199.9 383.4,226.5 390.3,177.5 397.3,220.9 404.2,227.6 411.1,279.2 418.0,249.2 424.9,257.8 431.9,275.9 438.8,290.3 445.7,297.5 452.6,307.3 459.6,317.9 466.5,217.0 473.4,224.3 480.3,295.5 487.2,364.6 494.2,419.5 501.1,364.6 508.0,271.8 514.9,338.1 521.8,336.2 528.8,369.5 535.7,280.2 542.6,245.9 549.5,221.3 556.5,197.3 563.4,203.0 570.3,235.5 577.2,287.7 584.1,321.2 591.1,331.5 598.0,358.9 604.9,280.1 611.8,306.6 618.7,290.3 625.7,263.4 632.6,181.7 639.5,213.9 646.4,205.6 653.4,250.1 660.3,288.9 667.2,341.6 674.1,273.1 681.0,300.4 688.0,315.6 694.9,309.5 701.8,299.1 708.7,246.6 715.7,260.1 722.6,231.0 729.5,233.2 736.4,266.3 743.3,272.7 750.3,292.2 757.2,246.1 764.1,286.1 771.0,337.4 777.9,327.4 784.9,278.1 791.8,288.5 798.7,280.3 805.6,257.2 812.6,245.3 819.5,275.9 826.4,288.4 833.3,346.3 840.2,264.2 847.2,258.2 854.1,314.7 861.0,278.4 867.9,271.4 874.9,220.6 881.8,260.5 888.7,185.8 895.6,228.8 902.5,333.2 909.5,302.8 916.4,302.6 923.3,314.2" fill="none" stroke="#bcbcbc" stroke-width="1.25" stroke-linejoin="round" />
<polygon points="99.6,350.7 102.4,346.3 105.1,341.4 107.9,336.4 110.6,331.4 113.4,326.5 116.2,321.9 118.9,317.6 121.7,313.5 124.4,309.5 127.2,305.5 129.9,301.8 132.7,298.1 135.4,294.7 138.2,291.4 140.9,288.3 143.7,285.4 146.5,282.6 149.2,280.0 152.0,277.5 154.7,275.1 157.5,272.8 160.2,270.6 163.0,268.5 165.7,266.6 168.5,264.8 171.2,263.2 174.0,261.7 176.8,260.3 179.5,259.0 182.3,257.8 185.0,256.6 187.8,255.5 190.5,254.5 193.3,253.5 196.0,252.6 198.8,251.8 201.5,251.1 204.3,250.4 207.1,249.7 209.8,249.0 212.6,248.4 215.3,247.8 218.1,247.2 220.8,246.7 223.6,246.4 226.3,246.1 229.1,246.0 231.9,246.0 234.6,246.0 237.4,246.1 240.1,246.2 242.9,246.3 245.6,246.4 248.4,246.6 251.1,247.0 253.9,247.6 256.6,248.4 259.4,249.3 262.2,250.3 264.9,251.2 267.7,252.2 270.4,253.0 273.2,253.7 275.9,254.4 278.7,255.2 281.4,255.9 284.2,256.5 286.9,257.2 289.7,257.9 292.5,258.5 295.2,259.0 298.0,259.5 300.7,259.9 303.5,260.3 306.2,260.7 309.0,261.1 311.7,261.4 314.5,261.8 317.3,262.1 320.0,262.4 322.8,262.7 325.5,262.9 328.3,263.2 331.0,263.4 333.8,263.7 336.5,263.9 339.3,264.1 342.0,264.4 344.8,264.6 347.6,264.8 350.3,265.0 353.1,265.2 355.8,265.4 358.6,265.5 361.3,265.7 364.1,265.9 366.8,266.0 369.6,266.2 372.3,266.3 375.1,266.5 377.9,266.7 380.6,266.8 383.4,267.0 386.1,267.1 388.9,267.3 391.6,267.5 394.4,267.6 397.1,267.8 399.9,268.0 402.6,268.2 405.4,268.4 408.2,268.5 410.9,268.7 413.7,268.9 416.4,269.1 419.2,269.3 421.9,269.5 424.7,269.8 427.4,270.1 430.2,270.4 433.0,270.8 435.7,271.2 438.5,271.6 441.2,272.1 444.0,272.5 446.7,272.9 449.5,273.3 452.2,273.7 455.0,274.1 457.7,274.5 460.5,274.8 463.3,275.2 466.0,275.6 468.8,275.9 471.5,276.3 474.3,276.6 477.0,276.9 479.8,277.2 482.5,277.5 485.3,277.8 488.0,278.0 490.8,278.3 493.6,278.5 496.3,278.8 499.1,279.0 501.8,279.2 504.6,279.5 507.3,279.7 510.1,279.9 512.8,280.1 515.6,280.3 518.3,280.5 521.1,280.7 523.9,280.8 526.6,281.0 529.4,281.2 532.1,281.4 534.9,281.5 537.6,281.7 540.4,281.9 543.1,282.1 545.9,282.4 548.7,282.6 551.4,282.9 554.2,283.2 556.9,283.4 559.7,283.7 562.4,284.0 565.2,284.3 567.9,284.5 570.7,284.7 573.4,284.9 576.2,285.0 579.0,285.1 581.7,285.2 584.5,285.2 587.2,285.1 590.0,284.9 592.7,284.6 595.5,284.2 598.2,283.8 601.0,283.4 603.7,282.9 606.5,282.4 609.3,281.9 612.0,281.4 614.8,281.0 617.5,280.5 620.3,280.2 623.0,279.9 625.8,279.6 628.5,279.4 631.3,279.1 634.1,278.8 636.8,278.6 639.6,278.4 642.3,278.2 645.1,278.0 647.8,277.9 650.6,277.8 653.3,277.8 656.1,277.8 658.8,277.9 661.6,278.0 664.4,278.2 667.1,278.3 669.9,278.5 672.6,278.8 675.4,279.0 678.1,279.2 680.9,279.4 683.6,279.6 686.4,279.7 689.1,279.9 691.9,280.0 694.7,280.1 697.4,280.3 700.2,280.4 702.9,280.5 705.7,280.7 708.4,280.8 711.2,280.9 713.9,281.0 716.7,281.2 719.4,281.3 722.2,281.4 725.0,281.5 727.7,281.6 730.5,281.7 733.2,281.8 736.0,281.8 738.7,281.9 741.5,281.9 744.2,282.0 747.0,282.0 749.8,282.0 752.5,282.0 755.3,282.0 758.0,282.0 760.8,282.0 763.5,282.0 766.3,282.0 769.0,282.0 771.8,282.0 774.5,282.0 777.3,282.0 780.1,282.0 782.8,282.0 785.6,282.0 788.3,282.0 791.1,282.0 793.8,282.0 796.6,282.1 799.3,282.3 802.1,282.5 804.8,282.6 807.6,282.9 810.4,283.1 813.1,283.3 815.9,283.5 818.6,283.7 821.4,283.9 824.1,284.0 826.9,284.1 829.6,284.2 832.4,284.2 835.2,284.2 837.9,284.2 840.7,284.2 843.4,284.2 846.2,284.2 848.9,284.2 851.7,284.2 854.4,284.2 857.2,284.2 859.9,284.2 862.7,284.2 865.5,284.2 868.2,284.2 871.0,284.2 873.7,284.2 876.5,284.2 879.2,284.1 882.0,284.0 884.7,283.8 887.5,283.6 890.2,283.3 893.0,282.9 895.8,282.4 898.5,281.9 901.3,281.3 904.0,280.5 906.8,279.7 909.5,278.7 912.3,277.6 915.0,276.4 917.8,275.0 920.5,273.5 923.3,271.8 923.3,310.5 920.5,309.1 917.8,307.8 915.0,306.7 912.3,305.7 909.5,304.8 906.8,304.1 904.0,303.4 901.3,302.9 898.5,302.4 895.8,302.1 893.0,301.8 890.2,301.6 887.5,301.4 884.7,301.3 882.0,301.2 879.2,301.1 876.5,301.1 873.7,301.1 871.0,301.1 868.2,301.1 865.5,301.1 862.7,301.1 859.9,301.1 857.2,301.1 854.4,301.1 851.7,301.1 848.9,301.1 846.2,301.1 843.4,301.1 840.7,301.1 837.9,301.1 835.2,301.1 832.4,301.1 829.6,301.1 826.9,301.0 824.1,300.9 821.4,300.8 818.6,300.6 815.9,300.4 813.1,300.2 810.4,300.0 807.6,299.7 804.8,299.5 802.1,299.3 799.3,299.1 796.6,299.0 793.8,298.9 791.1,298.9 788.3,298.8 785.6,298.8 782.8,298.8 780.1,298.8 777.3,298.8 774.5,298.8 771.8,298.8 769.0,298.8 766.3,298.8 763.5,298.8 760.8,298.8 758.0,298.8 755.3,298.8 752.5,298.8 749.8,298.8 747.0,298.8 744.2,298.8 741.5,298.8 738.7,298.7 736.0,298.7 733.2,298.6 730.5,298.6 727.7,298.5 725.0,298.4 722.2,298.3 719.4,298.2 716.7,298.0 713.9,297.9 711.2,297.8 708.4,297.7 705.7,297.5 702.9,297.4 700.2,297.3 697.4,297.1 694.7,297.0 691.9,296.9 689.1,296.7 686.4,296.6 683.6,296.5 680.9,296.3 678.1,296.1 675.4,295.9 672.6,295.6 669.9,295.4 667.1,295.2 664.4,295.0 661.6,294.9 658.8,294.7 656.1,294.7 653.3,294.6 650.6,294.7 647.8,294.7 645.1,294.9 642.3,295.0 639.6,295.2 636.8,295.5 634.1,295.7 631.3,296.0 628.5,296.2 625.8,296.5 623.0,296.7 620.3,297.0 617.5,297.4 614.8,297.8 612.0,298.3 609.3,298.8 606.5,299.3 603.7,299.8 601.0,300.2 598.2,300.7 595.5,301.1 592.7,301.4 590.0,301.7 587.2,301.9 584.5,302.0 581.7,302.1 579.0,302.0 576.2,301.9 573.4,301.8 570.7,301.6 567.9,301.4 565.2,301.1 562.4,300.9 559.7,300.6 556.9,300.3 554.2,300.0 551.4,299.7 548.7,299.5 545.9,299.2 543.1,299.0 540.4,298.8 537.6,298.6 534.9,298.4 532.1,298.2 529.4,298.1 526.6,297.9 523.9,297.7 521.1,297.5 518.3,297.3 515.6,297.2 512.8,297.0 510.1,296.8 507.3,296.6 504.6,296.3 501.8,296.1 499.1,295.9 496.3,295.7 493.6,295.4 490.8,295.2 488.0,294.9 485.3,294.6 482.5,294.4 479.8,294.1 477.0,293.8 474.3,293.5 471.5,293.1 468.8,292.8 466.0,292.4 463.3,292.1 460.5,291.7 457.7,291.3 455.0,291.0 452.2,290.6 449.5,290.2 446.7,289.8 444.0,289.4 441.2,288.9 438.5,288.5 435.7,288.1 433.0,287.7 430.2,287.3 427.4,286.9 424.7,286.7 421.9,286.4 419.2,286.2 416.4,286.0 413.7,285.8 410.9,285.6 408.2,285.4 405.4,285.2 402.6,285.1 399.9,284.9 397.1,284.7 394.4,284.5 391.6,284.3 388.9,284.2 386.1,284.0 383.4,283.8 380.6,283.7 377.9,283.5 375.1,283.4 372.3,283.2 369.6,283.1 366.8,282.9 364.1,282.7 361.3,282.6 358.6,282.4 355.8,282.2 353.1,282.0 350.3,281.9 347.6,281.7 344.8,281.5 342.0,281.2 339.3,281.0 336.5,280.8 333.8,280.6 331.0,280.3 328.3,280.1 325.5,279.8 322.8,279.5 320.0,279.2 317.3,278.9 314.5,278.6 311.7,278.3 309.0,278.0 306.2,277.6 303.5,277.2 300.7,276.8 298.0,276.4 295.2,275.9 292.5,275.3 289.7,274.7 286.9,274.1 284.2,273.4 281.4,272.7 278.7,272.0 275.9,271.3 273.2,270.6 270.4,269.9 267.7,269.1 264.9,268.1 262.2,267.1 259.4,266.2 256.6,265.3 253.9,264.5 251.1,263.9 248.4,263.5 245.6,263.3 242.9,263.2 240.1,263.1 237.4,263.0 234.6,262.9 231.9,262.9 229.1,262.9 226.3,263.0 223.6,263.2 220.8,263.6 218.1,264.1 215.3,264.6 212.6,265.2 209.8,265.9 207.1,266.6 204.3,267.3 201.5,268.0 198.8,268.7 196.0,269.5 193.3,270.4 190.5,271.3 187.8,272.4 185.0,273.5 182.3,274.7 179.5,275.9 176.8,277.2 174.0,278.6 171.2,280.1 168.5,281.7 165.7,283.5 163.0,285.5 160.2,287.5 157.5,289.7 154.7,292.1 152.0,294.5 149.2,297.1 146.5,299.8 143.7,302.6 140.9,305.6 138.2,308.8 135.4,312.3 132.7,315.9 129.9,319.8 127.2,323.9 124.4,328.3 121.7,333.0 118.9,337.9 116.2,343.2 113.4,349.2 110.6,355.9 107.9,363.2 105.1,371.2 102.4,379.9 99.6,389.4" fill="#ff0000" fill-opacity="0.2"/>
<polygon points="99.6,353.2 102.4,348.7 105.1,343.9 107.9,338.9 110.6,333.9 113.4,329.0 116.2,324.4 118.9,320.1 121.7,316.0 124.4,311.9 127.2,308.0 129.9,304.2 132.7,300.6 135.4,297.2 138.2,293.9 140.9,290.8 143.7,287.9 146.5,285.1 149.2,282.5 152.0,280.0 154.7,277.6 157.5,275.3 160.2,273.1 163.0,271.0 165.7,269.1 168.5,267.3 171.2,265.7 174.0,264.2 176.8,262.8 179.5,261.5 182.3,260.3 185.0,259.1 187.8,258.0 190.5,256.9 193.3,256.0 196.0,255.1 198.8,254.3 201.5,253.6 204.3,252.9 207.1,252.2 209.8,251.5 212.6,250.9 215.3,250.2 218.1,249.7 220.8,249.2 223.6,248.8 226.3,248.6 229.1,248.5 231.9,248.5 234.6,248.5 237.4,248.6 240.1,248.7 242.9,248.8 245.6,248.9 248.4,249.1 251.1,249.5 253.9,250.1 256.6,250.9 259.4,251.8 262.2,252.7 264.9,253.7 267.7,254.7 270.4,255.5 273.2,256.2 275.9,256.9 278.7,257.6 281.4,258.3 284.2,259.0 286.9,259.7 289.7,260.3 292.5,260.9 295.2,261.5 298.0,262.0 300.7,262.4 303.5,262.8 306.2,263.2 309.0,263.6 311.7,263.9 314.5,264.2 317.3,264.6 320.0,264.8 322.8,265.1 325.5,265.4 328.3,265.7 331.0,265.9 333.8,266.2 336.5,266.4 339.3,266.6 342.0,266.9 344.8,267.1 347.6,267.3 350.3,267.5 353.1,267.7 355.8,267.8 358.6,268.0 361.3,268.2 364.1,268.3 366.8,268.5 369.6,268.7 372.3,268.8 375.1,269.0 377.9,269.1 380.6,269.3 383.4,269.5 386.1,269.6 388.9,269.8 391.6,269.9 394.4,270.1 397.1,270.3 399.9,270.5 402.6,270.7 405.4,270.8 408.2,271.0 410.9,271.2 413.7,271.4 416.4,271.6 419.2,271.8 421.9,272.0 424.7,272.3 427.4,272.6 430.2,272.9 433.0,273.3 435.7,273.7 438.5,274.1 441.2,274.5 444.0,275.0 446.7,275.4 449.5,275.8 452.2,276.2 455.0,276.6 457.7,277.0 460.5,277.3 463.3,277.7 466.0,278.0 468.8,278.4 471.5,278.7 474.3,279.1 477.0,279.4 479.8,279.7 482.5,280.0 485.3,280.2 488.0,280.5 490.8,280.8 493.6,281.0 496.3,281.3 499.1,281.5 501.8,281.7 504.6,282.0 507.3,282.2 510.1,282.4 512.8,282.6 515.6,282.8 518.3,283.0 521.1,283.1 523.9,283.3 526.6,283.5 529.4,283.7 532.1,283.8 534.9,284.0 537.6,284.2 540.4,284.4 543.1,284.6 545.9,284.8 548.7,285.1 551.4,285.4 554.2,285.6 556.9,285.9 559.7,286.2 562.4,286.5 565.2,286.7 567.9,287.0 570.7,287.2 573.4,287.4 576.2,287.5 579.0,287.6 581.7,287.7 584.5,287.7 587.2,287.5 590.0,287.3 592.7,287.0 595.5,286.7 598.2,286.3 601.0,285.8 603.7,285.4 606.5,284.9 609.3,284.4 612.0,283.9 614.8,283.4 617.5,283.0 620.3,282.7 623.0,282.3 625.8,282.1 628.5,281.8 631.3,281.6 634.1,281.3 636.8,281.1 639.6,280.9 642.3,280.6 645.1,280.5 647.8,280.3 650.6,280.3 653.3,280.2 656.1,280.3 658.8,280.3 661.6,280.5 664.4,280.6 667.1,280.8 669.9,281.0 672.6,281.2 675.4,281.5 678.1,281.7 680.9,281.9 683.6,282.1 686.4,282.2 689.1,282.3 691.9,282.5 694.7,282.6 697.4,282.7 700.2,282.9 702.9,283.0 705.7,283.1 708.4,283.3 711.2,283.4 713.9,283.5 716.7,283.7 719.4,283.8 722.2,283.9 725.0,284.0 727.7,284.1 730.5,284.2 733.2,284.2 736.0,284.3 738.7,284.4 741.5,284.4 744.2,284.4 747.0,284.5 749.8,284.5 752.5,284.5 755.3,284.5 758.0,284.5 760.8,284.5 763.5,284.5 766.3,284.5 769.0,284.5 771.8,284.5 774.5,284.5 777.3,284.5 780.1,284.5 782.8,284.5 785.6,284.5 788.3,284.5 791.1,284.5 793.8,284.5 796.6,284.6 799.3,284.8 802.1,284.9 804.8,285.1 807.6,285.3 810.4,285.6 813.1,285.8 815.9,286.0 818.6,286.2 821.4,286.4 824.1,286.5 826.9,286.6 829.6,286.7 832.4,286.7 835.2,286.7 837.9,286.7 840.7,286.7 843.4,286.7 846.2,286.7 848.9,286.7 851.7,286.7 854.4,286.7 857.2,286.7 859.9,286.7 862.7,286.7 865.5,286.7 868.2,286.7 871.0,286.7 873.7,286.7 876.5,286.6 879.2,286.6 882.0,286.4 884.7,286.3 887.5,286.0 890.2,285.7 893.0,285.4 895.8,284.9 898.5,284.4 901.3,283.7 904.0,283.0 906.8,282.1 909.5,281.2 912.3,280.1 915.0,278.8 917.8,277.5 920.5,276.0 923.3,274.3 923.3,308.0 920.5,306.6 917.8,305.3 915.0,304.2 912.3,303.2 909.5,302.3 906.8,301.6 904.0,301.0 901.3,300.4 898.5,300.0 895.8,299.6 893.0,299.3 890.2,299.1 887.5,298.9 884.7,298.8 882.0,298.7 879.2,298.7 876.5,298.6 873.7,298.6 871.0,298.6 868.2,298.6 865.5,298.6 862.7,298.6 859.9,298.6 857.2,298.6 854.4,298.6 851.7,298.6 848.9,298.6 846.2,298.6 843.4,298.6 840.7,298.6 837.9,298.6 835.2,298.6 832.4,298.6 829.6,298.6 826.9,298.5 824.1,298.4 821.4,298.3 818.6,298.1 815.9,297.9 813.1,297.7 810.4,297.5 807.6,297.2 804.8,297.0 802.1,296.8 799.3,296.7 796.6,296.5 793.8,296.4 791.1,296.4 788.3,296.4 785.6,296.4 782.8,296.4 780.1,296.4 777.3,296.4 774.5,296.4 771.8,296.4 769.0,296.4 766.3,296.4 763.5,296.4 760.8,296.4 758.0,296.4 755.3,296.4 752.5,296.4 749.8,296.4 747.0,296.4 744.2,296.3 741.5,296.3 738.7,296.3 736.0,296.2 733.2,296.1 730.5,296.1 727.7,296.0 725.0,295.9 722.2,295.8 719.4,295.7 716.7,295.6 713.9,295.4 711.2,295.3 708.4,295.2 705.7,295.1 702.9,294.9 700.2,294.8 697.4,294.6 694.7,294.5 691.9,294.4 689.1,294.2 686.4,294.1 683.6,294.0 680.9,293.8 678.1,293.6 675.4,293.4 672.6,293.2 669.9,292.9 667.1,292.7 664.4,292.5 661.6,292.4 658.8,292.3 656.1,292.2 653.3,292.1 650.6,292.2 647.8,292.3 645.1,292.4 642.3,292.6 639.6,292.8 636.8,293.0 634.1,293.2 631.3,293.5 628.5,293.7 625.8,294.0 623.0,294.2 620.3,294.6 617.5,294.9 614.8,295.4 612.0,295.8 609.3,296.3 606.5,296.8 603.7,297.3 601.0,297.8 598.2,298.2 595.5,298.6 592.7,299.0 590.0,299.2 587.2,299.5 584.5,299.6 581.7,299.6 579.0,299.5 576.2,299.4 573.4,299.3 570.7,299.1 567.9,298.9 565.2,298.7 562.4,298.4 559.7,298.1 556.9,297.8 554.2,297.5 551.4,297.3 548.7,297.0 545.9,296.7 543.1,296.5 540.4,296.3 537.6,296.1 534.9,295.9 532.1,295.7 529.4,295.6 526.6,295.4 523.9,295.2 521.1,295.0 518.3,294.9 515.6,294.7 512.8,294.5 510.1,294.3 507.3,294.1 504.6,293.9 501.8,293.6 499.1,293.4 496.3,293.2 493.6,292.9 490.8,292.7 488.0,292.4 485.3,292.2 482.5,291.9 479.8,291.6 477.0,291.3 474.3,291.0 471.5,290.6 468.8,290.3 466.0,290.0 463.3,289.6 460.5,289.2 457.7,288.9 455.0,288.5 452.2,288.1 449.5,287.7 446.7,287.3 444.0,286.9 441.2,286.4 438.5,286.0 435.7,285.6 433.0,285.2 430.2,284.8 427.4,284.5 424.7,284.2 421.9,283.9 419.2,283.7 416.4,283.5 413.7,283.3 410.9,283.1 408.2,282.9 405.4,282.7 402.6,282.6 399.9,282.4 397.1,282.2 394.4,282.0 391.6,281.9 388.9,281.7 386.1,281.5 383.4,281.4 380.6,281.2 377.9,281.0 375.1,280.9 372.3,280.7 369.6,280.6 366.8,280.4 364.1,280.3 361.3,280.1 358.6,279.9 355.8,279.7 353.1,279.6 350.3,279.4 347.6,279.2 344.8,279.0 342.0,278.8 339.3,278.5 336.5,278.3 333.8,278.1 331.0,277.8 328.3,277.6 325.5,277.3 322.8,277.0 320.0,276.8 317.3,276.5 314.5,276.1 311.7,275.8 309.0,275.5 306.2,275.1 303.5,274.7 300.7,274.3 298.0,273.9 295.2,273.4 292.5,272.8 289.7,272.2 286.9,271.6 284.2,270.9 281.4,270.2 278.7,269.5 275.9,268.8 273.2,268.1 270.4,267.4 267.7,266.6 264.9,265.6 262.2,264.7 259.4,263.7 256.6,262.8 253.9,262.0 251.1,261.4 248.4,261.0 245.6,260.8 242.9,260.7 240.1,260.6 237.4,260.5 234.6,260.4 231.9,260.4 229.1,260.4 226.3,260.5 223.6,260.8 220.8,261.1 218.1,261.6 215.3,262.1 212.6,262.8 209.8,263.4 207.1,264.1 204.3,264.8 201.5,265.5 198.8,266.2 196.0,267.0 193.3,267.9 190.5,268.9 187.8,269.9 185.0,271.0 182.3,272.2 179.5,273.4 176.8,274.7 174.0,276.1 171.2,277.6 168.5,279.2 165.7,281.0 163.0,283.0 160.2,285.1 157.5,287.3 154.7,289.6 152.0,292.1 149.2,294.6 146.5,297.3 143.7,300.1 140.9,303.1 138.2,306.3 135.4,309.8 132.7,313.4 129.9,317.3 127.2,321.5 124.4,325.9 121.7,330.5 118.9,335.4 116.2,340.7 113.4,346.7 110.6,353.4 107.9,360.7 105.1,368.7 102.4,377.4 99.6,386.9" fill="#ff0000" fill-opacity="0.25"/>
<polyline points="99.6,370.0 102.4,363.1 105.1,356.3 107.9,349.8 110.6,343.6 113.4,337.9 116.2,332.6 118.9,327.8 121.7,323.2 124.4,318.9 127.2,314.7 129.9,310.8 132.7,307.0 135.4,303.5 138.2,300.1 140.9,296.9 143.7,294.0 146.5,291.2 149.2,288.6 152.0,286.0 154.7,283.6 157.5,281.3 160.2,279.1 163.0,277.0 165.7,275.1 168.5,273.3 171.2,271.6 174.0,270.2 176.8,268.8 179.5,267.5 182.3,266.2 185.0,265.0 187.8,263.9 190.5,262.9 193.3,261.9 196.0,261.1 198.8,260.3 201.5,259.5 204.3,258.8 207.1,258.2 209.8,257.5 212.6,256.8 215.3,256.2 218.1,255.6 220.8,255.2 223.6,254.8 226.3,254.6 229.1,254.4 231.9,254.4 234.6,254.5 237.4,254.5 240.1,254.6 242.9,254.7 245.6,254.9 248.4,255.0 251.1,255.4 253.9,256.0 256.6,256.8 259.4,257.7 262.2,258.7 264.9,259.7 267.7,260.6 270.4,261.5 273.2,262.2 275.9,262.9 278.7,263.6 281.4,264.3 284.2,265.0 286.9,265.7 289.7,266.3 292.5,266.9 295.2,267.4 298.0,267.9 300.7,268.4 303.5,268.8 306.2,269.2 309.0,269.5 311.7,269.9 314.5,270.2 317.3,270.5 320.0,270.8 322.8,271.1 325.5,271.4 328.3,271.6 331.0,271.9 333.8,272.1 336.5,272.4 339.3,272.6 342.0,272.8 344.8,273.0 347.6,273.2 350.3,273.4 353.1,273.6 355.8,273.8 358.6,274.0 361.3,274.1 364.1,274.3 366.8,274.5 369.6,274.6 372.3,274.8 375.1,274.9 377.9,275.1 380.6,275.2 383.4,275.4 386.1,275.6 388.9,275.7 391.6,275.9 394.4,276.1 397.1,276.3 399.9,276.4 402.6,276.6 405.4,276.8 408.2,277.0 410.9,277.1 413.7,277.3 416.4,277.5 419.2,277.7 421.9,278.0 424.7,278.2 427.4,278.5 430.2,278.8 433.0,279.2 435.7,279.6 438.5,280.1 441.2,280.5 444.0,280.9 446.7,281.4 449.5,281.8 452.2,282.2 455.0,282.5 457.7,282.9 460.5,283.3 463.3,283.6 466.0,284.0 468.8,284.4 471.5,284.7 474.3,285.0 477.0,285.3 479.8,285.6 482.5,285.9 485.3,286.2 488.0,286.5 490.8,286.7 493.6,287.0 496.3,287.2 499.1,287.5 501.8,287.7 504.6,287.9 507.3,288.1 510.1,288.3 512.8,288.5 515.6,288.7 518.3,288.9 521.1,289.1 523.9,289.3 526.6,289.4 529.4,289.6 532.1,289.8 534.9,290.0 537.6,290.2 540.4,290.3 543.1,290.6 545.9,290.8 548.7,291.0 551.4,291.3 554.2,291.6 556.9,291.9 559.7,292.2 562.4,292.4 565.2,292.7 567.9,292.9 570.7,293.2 573.4,293.3 576.2,293.5 579.0,293.6 581.7,293.6 584.5,293.6 587.2,293.5 590.0,293.3 592.7,293.0 595.5,292.6 598.2,292.2 601.0,291.8 603.7,291.3 606.5,290.8 609.3,290.3 612.0,289.9 614.8,289.4 617.5,289.0 620.3,288.6 623.0,288.3 625.8,288.0 628.5,287.8 631.3,287.5 634.1,287.3 636.8,287.0 639.6,286.8 642.3,286.6 645.1,286.4 647.8,286.3 650.6,286.2 653.3,286.2 656.1,286.2 658.8,286.3 661.6,286.4 664.4,286.6 667.1,286.8 669.9,287.0 672.6,287.2 675.4,287.4 678.1,287.6 680.9,287.8 683.6,288.0 686.4,288.2 689.1,288.3 691.9,288.4 694.7,288.6 697.4,288.7 700.2,288.8 702.9,289.0 705.7,289.1 708.4,289.2 711.2,289.4 713.9,289.5 716.7,289.6 719.4,289.7 722.2,289.8 725.0,289.9 727.7,290.0 730.5,290.1 733.2,290.2 736.0,290.3 738.7,290.3 741.5,290.4 744.2,290.4 747.0,290.4 749.8,290.4 752.5,290.4 755.3,290.4 758.0,290.4 760.8,290.4 763.5,290.4 766.3,290.4 769.0,290.4 771.8,290.4 774.5,290.4 777.3,290.4 780.1,290.4 782.8,290.4 785.6,290.4 788.3,290.4 791.1,290.4 793.8,290.5 796.6,290.6 799.3,290.7 802.1,290.9 804.8,291.1 807.6,291.3 810.4,291.5 813.1,291.7 815.9,292.0 818.6,292.1 821.4,292.3 824.1,292.5 826.9,292.6 829.6,292.6 832.4,292.6 835.2,292.6 837.9,292.6 840.7,292.6 843.4,292.6 846.2,292.6 848.9,292.6 851.7,292.6 854.4,292.6 857.2,292.6 859.9,292.6 862.7,292.6 865.5,292.6 868.2,292.6 871.0,292.6 873.7,292.6 876.5,292.6 879.2,292.6 882.0,292.6 884.7,292.5 887.5,292.5 890.2,292.4 893.0,292.3 895.8,292.3 898.5,292.2 901.3,292.1 904.0,292.0 906.8,291.9 909.5,291.8 912.3,291.6 915.0,291.5 917.8,291.4 920.5,291.3 923.3,291.2" fill="none" stroke="#ff0000" stroke-width="5" stroke-linejoin="round" />
<line x1="92.7" y1="447.0" x2="923.3" y2="447.0" stroke="#000" stroke-width="1.3" stroke-dasharray="1.4 1.8"/>
<polygon points="98.7,458.6 100.9,459.4 103.2,458.4 105.5,455.8 107.8,451.9 110.1,446.9 112.4,441.2 114.7,435.0 117.0,428.8 119.3,422.8 121.6,417.5 123.9,413.0 126.2,409.6 128.5,407.6 130.8,406.9 133.1,407.2 135.4,408.0 137.7,409.3 140.0,411.0 142.3,413.1 144.6,415.6 146.9,418.4 149.2,421.5 151.5,424.9 153.8,428.5 156.1,432.2 158.4,435.9 160.7,439.7 163.0,443.5 165.3,447.1 167.6,450.5 169.9,453.7 172.2,456.7 174.5,459.3 176.8,461.5 179.1,463.3 181.3,464.7 183.6,465.6 185.9,466.0 188.2,465.9 190.5,464.8 192.8,462.9 195.1,460.1 197.4,456.6 199.7,452.4 202.0,447.7 204.3,442.6 206.6,437.3 208.9,432.0 211.2,426.7 213.5,421.7 215.8,417.2 218.1,413.1 220.4,409.8 222.7,407.3 225.0,405.6 227.3,404.8 229.6,405.0 231.9,406.3 234.2,408.7 236.5,412.0 238.8,416.2 241.1,421.2 243.4,426.8 245.7,432.7 248.0,439.0 250.3,445.3 252.6,451.4 254.9,457.2 257.2,462.6 259.4,467.2 261.7,471.1 264.0,474.0 266.3,475.9 268.6,476.7 270.9,476.4 273.2,475.0 275.5,472.6 277.8,469.1 280.1,464.8 282.4,459.8 284.7,454.1 287.0,448.1 289.3,441.9 291.6,435.7 293.9,429.7 296.2,424.1 298.5,419.1 300.8,414.8 303.1,411.3 305.4,408.9 307.7,407.6 310.0,407.3 312.3,408.1 314.6,409.8 316.9,412.4 319.2,415.8 321.5,419.9 323.8,424.6 326.1,429.8 328.4,435.3 330.7,440.8 333.0,446.4 335.3,451.7 337.5,456.7 339.8,461.2 342.1,465.0 344.4,468.0 346.7,470.2 349.0,471.5 351.3,471.8 353.6,471.1 355.9,469.4 358.2,466.9 360.5,463.5 362.8,459.4 365.1,454.7 367.4,449.5 369.7,444.0 372.0,438.4 374.3,432.8 376.6,427.4 378.9,422.3 381.2,417.8 383.5,413.9 385.8,410.8 388.1,408.5 390.4,407.1 392.7,406.8 395.0,407.4 397.3,409.0 399.6,411.5 401.9,414.9 404.2,419.1 406.5,423.8 408.8,429.1 411.1,434.7 413.4,440.5 415.6,446.2 417.9,451.8 420.2,457.0 422.5,461.6 424.8,465.7 427.1,469.0 429.4,471.3 431.7,472.8 434.0,473.3 436.3,472.7 438.6,471.2 440.9,468.8 443.2,465.5 445.5,461.4 447.8,456.7 450.1,451.5 452.4,446.0 454.7,440.3 457.0,434.6 459.3,429.0 461.6,423.8 463.9,419.1 466.2,415.1 468.5,411.8 470.8,409.3 473.1,407.8 475.4,407.3 477.7,407.7 480.0,409.1 482.3,411.4 484.6,414.5 486.9,418.4 489.2,422.9 491.5,427.9 493.8,433.2 496.0,438.7 498.3,444.1 500.6,449.4 502.9,454.3 505.2,458.7 507.5,462.5 509.8,465.5 512.1,467.7 514.4,469.0 516.7,469.3 519.0,468.6 521.3,467.1 523.6,464.7 525.9,461.5 528.2,457.6 530.5,453.1 532.8,448.1 535.1,442.9 537.4,437.5 539.7,432.2 542.0,427.0 544.3,422.2 546.6,417.8 548.9,414.1 551.2,411.1 553.5,408.9 555.8,407.6 558.1,407.3 560.4,407.9 562.7,409.4 565.0,411.9 567.3,415.3 569.6,419.4 571.9,424.1 574.1,429.3 576.4,434.9 578.7,440.6 581.0,446.3 583.3,451.8 585.6,457.0 587.9,461.7 590.2,465.7 592.5,468.9 594.8,471.3 597.1,472.8 599.4,473.3 601.7,472.7 604.0,471.0 606.3,468.3 608.6,464.7 610.9,460.1 613.2,454.9 615.5,449.2 617.8,443.0 620.1,436.7 622.4,430.3 624.7,424.1 627.0,418.4 629.3,413.1 631.6,408.6 633.9,404.9 636.2,402.1 638.5,400.4 640.8,399.8 643.1,400.3 645.4,402.0 647.7,404.7 650.0,408.4 652.2,413.0 654.5,418.3 656.8,424.2 659.1,430.6 661.4,437.1 663.7,443.7 666.0,450.1 668.3,456.1 670.6,461.6 672.9,466.3 675.2,470.2 677.5,473.1 679.8,475.0 682.1,475.7 684.4,475.4 686.7,474.0 689.0,471.6 691.3,468.3 693.6,464.2 695.9,459.5 698.2,454.2 700.5,448.5 702.8,442.6 705.1,436.6 707.4,430.8 709.7,425.4 712.0,420.4 714.3,416.1 716.6,412.5 718.9,409.8 721.2,408.0 723.5,407.3 725.8,407.6 728.1,408.9 730.3,411.2 732.6,414.4 734.9,418.4 737.2,423.0 739.5,428.3 741.8,433.8 744.1,439.6 746.4,445.4 748.7,451.1 751.0,456.4 753.3,461.2 755.6,465.4 757.9,468.7 760.2,471.2 762.5,472.7 764.8,473.3 767.1,472.8 769.4,471.3 771.7,468.9 774.0,465.6 776.3,461.6 778.6,456.9 780.9,451.7 783.2,446.2 785.5,440.5 787.8,434.8 790.1,429.2 792.4,424.0 794.7,419.3 797.0,415.2 799.3,411.9 801.6,409.4 803.9,407.8 806.2,407.3 808.5,407.7 810.7,409.0 813.0,411.2 815.3,414.2 817.6,417.9 819.9,422.3 822.2,427.1 824.5,432.3 826.8,437.7 829.1,443.0 831.4,448.3 833.7,453.2 836.0,457.7 838.3,461.5 840.6,464.7 842.9,467.1 845.2,468.7 847.5,469.3 849.8,469.0 852.1,467.7 854.4,465.6 856.7,462.6 859.0,458.9 861.3,454.6 863.6,449.8 865.9,444.7 868.2,439.3 870.5,434.0 872.8,428.7 875.1,423.8 877.4,419.2 879.7,415.3 882.0,412.0 884.3,409.6 886.6,408.0 888.8,407.3 891.1,407.5 893.4,408.7 895.7,410.8 898.0,413.7 900.3,417.3 902.6,421.6 904.9,426.3 907.2,431.5 909.5,436.8 911.8,442.2 914.1,447.4 916.4,452.4 918.7,457.0 921.0,461.0 923.3,464.3 923.3,479.2 921.0,475.9 918.7,471.9 916.4,467.3 914.1,462.3 911.8,457.1 909.5,451.7 907.2,446.3 904.9,441.2 902.6,436.5 900.3,432.2 898.0,428.6 895.7,425.7 893.4,423.6 891.1,422.4 888.8,422.2 886.6,422.9 884.3,424.5 882.0,426.9 879.7,430.2 877.4,434.1 875.1,438.6 872.8,443.6 870.5,448.8 868.2,454.2 865.9,459.6 863.6,464.7 861.3,469.5 859.0,473.8 856.7,477.5 854.4,480.5 852.1,482.6 849.8,483.8 847.5,484.2 845.2,483.6 842.9,482.0 840.6,479.6 838.3,476.4 836.0,472.5 833.7,468.1 831.4,463.1 829.1,457.9 826.8,452.5 824.5,447.2 822.2,442.0 819.9,437.2 817.6,432.8 815.3,429.1 813.0,426.1 810.7,423.9 808.5,422.5 806.2,422.2 803.9,422.7 801.6,424.3 799.3,426.8 797.0,430.1 794.7,434.2 792.4,438.9 790.1,444.1 787.8,449.6 785.5,455.4 783.2,461.1 780.9,466.6 778.6,471.8 776.3,476.4 774.0,480.5 771.7,483.8 769.4,486.2 767.1,487.6 764.8,488.1 762.5,487.6 760.2,486.1 757.9,483.6 755.6,480.3 753.3,476.1 751.0,471.3 748.7,466.0 746.4,460.3 744.1,454.5 741.8,448.7 739.5,443.1 737.2,437.9 734.9,433.2 732.6,429.2 730.3,426.1 728.1,423.8 725.8,422.5 723.5,422.2 721.2,422.9 718.9,424.7 716.6,427.4 714.3,430.9 712.0,435.3 709.7,440.3 707.4,445.7 705.1,451.5 702.8,457.4 700.5,463.3 698.2,469.0 695.9,474.3 693.6,479.1 691.3,483.2 689.0,486.5 686.7,488.9 684.4,490.2 682.1,490.6 679.8,489.9 677.5,488.0 675.2,485.1 672.9,481.2 670.6,476.5 668.3,471.0 666.0,465.0 663.7,458.6 661.4,452.0 659.1,445.5 656.8,439.1 654.5,433.2 652.2,427.9 650.0,423.3 647.7,419.6 645.4,416.8 643.1,415.2 640.8,414.7 638.5,415.3 636.2,417.0 633.9,419.8 631.6,423.5 629.3,428.0 627.0,433.2 624.7,439.0 622.4,445.2 620.1,451.5 617.8,457.9 615.5,464.0 613.2,469.8 610.9,475.0 608.6,479.5 606.3,483.2 604.0,485.9 601.7,487.6 599.4,488.1 597.1,487.7 594.8,486.2 592.5,483.8 590.2,480.6 587.9,476.5 585.6,471.9 583.3,466.7 581.0,461.2 578.7,455.5 576.4,449.8 574.1,444.2 571.9,439.0 569.6,434.3 567.3,430.2 565.0,426.8 562.7,424.3 560.4,422.8 558.1,422.2 555.8,422.5 553.5,423.8 551.2,426.0 548.9,429.0 546.6,432.7 544.3,437.1 542.0,441.9 539.7,447.1 537.4,452.4 535.1,457.8 532.8,463.0 530.5,467.9 528.2,472.4 525.9,476.3 523.6,479.6 521.3,482.0 519.0,483.5 516.7,484.2 514.4,483.8 512.1,482.6 509.8,480.4 507.5,477.4 505.2,473.6 502.9,469.2 500.6,464.2 498.3,459.0 496.0,453.5 493.8,448.1 491.5,442.8 489.2,437.8 486.9,433.3 484.6,429.4 482.3,426.3 480.0,424.0 477.7,422.6 475.4,422.2 473.1,422.7 470.8,424.2 468.5,426.7 466.2,430.0 463.9,434.0 461.6,438.7 459.3,443.9 457.0,449.5 454.7,455.2 452.4,460.9 450.1,466.4 447.8,471.6 445.5,476.3 443.2,480.4 440.9,483.7 438.6,486.1 436.3,487.6 434.0,488.1 431.7,487.7 429.4,486.2 427.1,483.8 424.8,480.6 422.5,476.5 420.2,471.8 417.9,466.6 415.6,461.1 413.4,455.3 411.1,449.6 408.8,444.0 406.5,438.7 404.2,434.0 401.9,429.8 399.6,426.4 397.3,423.9 395.0,422.3 392.7,421.7 390.4,422.0 388.1,423.4 385.8,425.6 383.5,428.8 381.2,432.7 378.9,437.2 376.6,442.3 374.3,447.7 372.0,453.3 369.7,458.9 367.4,464.4 365.1,469.6 362.8,474.3 360.5,478.4 358.2,481.8 355.9,484.3 353.6,486.0 351.3,486.6 349.0,486.3 346.7,485.1 344.4,482.9 342.1,479.9 339.8,476.1 337.5,471.6 335.3,466.6 333.0,461.3 330.7,455.7 328.4,450.1 326.1,444.7 323.8,439.5 321.5,434.8 319.2,430.7 316.9,427.2 314.6,424.6 312.3,422.9 310.0,422.2 307.7,422.4 305.4,423.8 303.1,426.2 300.8,429.6 298.5,433.9 296.2,439.0 293.9,444.6 291.6,450.6 289.3,456.8 287.0,463.0 284.7,469.0 282.4,474.6 280.1,479.7 277.8,484.0 275.5,487.5 273.2,489.9 270.9,491.3 268.6,491.6 266.3,490.8 264.0,488.9 261.7,486.0 259.4,482.1 257.2,477.5 254.9,472.1 252.6,466.3 250.3,460.2 248.0,453.9 245.7,447.6 243.4,441.6 241.1,436.1 238.8,431.1 236.5,426.9 234.2,423.6 231.9,421.2 229.6,419.9 227.3,419.7 225.0,420.5 222.7,422.2 220.4,424.7 218.1,428.0 215.8,432.0 213.5,436.6 211.2,441.6 208.9,446.8 206.6,452.2 204.3,457.5 202.0,462.6 199.7,467.3 197.4,471.5 195.1,475.0 192.8,477.8 190.5,479.7 188.2,480.8 185.9,480.9 183.6,480.5 181.3,479.6 179.1,478.2 176.8,476.4 174.5,474.2 172.2,471.6 169.9,468.6 167.6,465.4 165.3,462.0 163.0,458.4 160.7,454.6 158.4,450.9 156.1,447.1 153.8,443.4 151.5,439.9 149.2,436.5 146.9,433.4 144.6,430.6 142.3,428.2 140.0,426.1 137.7,424.5 135.4,423.4 133.1,422.7 130.8,422.5 128.5,423.3 126.2,425.5 123.9,429.2 121.6,434.0 119.3,439.7 117.0,446.2 114.7,453.1 112.4,460.0 110.1,466.7 107.8,472.9 105.5,478.4 103.2,482.8 100.9,486.2 98.7,488.4" fill="#00ff00" fill-opacity="0.25"/>
<polygon points="98.7,468.5 100.9,467.8 103.2,465.6 105.5,462.1 107.8,457.4 110.1,451.9 112.4,445.6 114.7,439.1 117.0,432.5 119.3,426.3 121.6,420.7 123.9,416.1 126.2,412.6 128.5,410.5 130.8,409.7 133.1,410.0 135.4,410.7 137.7,411.9 140.0,413.6 142.3,415.7 144.6,418.1 146.9,420.9 149.2,424.1 151.5,427.4 153.8,431.0 156.1,434.7 158.4,438.4 160.7,442.2 163.0,445.9 165.3,449.6 167.6,453.0 169.9,456.2 172.2,459.2 174.5,461.8 176.8,464.0 179.1,465.8 181.3,467.2 183.6,468.1 185.9,468.5 188.2,468.4 190.5,467.3 192.8,465.4 195.1,462.6 197.4,459.1 199.7,454.9 202.0,450.2 204.3,445.1 206.6,439.8 208.9,434.4 211.2,429.2 213.5,424.2 215.8,419.6 218.1,415.6 220.4,412.3 222.7,409.8 225.0,408.1 227.3,407.3 229.6,407.5 231.9,408.8 234.2,411.2 236.5,414.5 238.8,418.7 241.1,423.7 243.4,429.2 245.7,435.2 248.0,441.5 250.3,447.8 252.6,453.9 254.9,459.7 257.2,465.1 259.4,469.7 261.7,473.5 264.0,476.5 266.3,478.4 268.6,479.2 270.9,478.9 273.2,477.5 275.5,475.0 277.8,471.6 280.1,467.3 282.4,462.2 284.7,456.6 287.0,450.6 289.3,444.4 291.6,438.2 293.9,432.2 296.2,426.6 298.5,421.5 300.8,417.2 303.1,413.8 305.4,411.4 307.7,410.0 310.0,409.8 312.3,410.5 314.6,412.2 316.9,414.8 319.2,418.2 321.5,422.4 323.8,427.1 326.1,432.3 328.4,437.7 330.7,443.3 333.0,448.9 335.3,454.2 337.5,459.2 339.8,463.7 342.1,467.5 344.4,470.5 346.7,472.7 349.0,473.9 351.3,474.2 353.6,473.6 355.9,471.9 358.2,469.4 360.5,466.0 362.8,461.9 365.1,457.2 367.4,452.0 369.7,446.5 372.0,440.9 374.3,435.3 376.6,429.9 378.9,424.8 381.2,420.3 383.5,416.4 385.8,413.2 388.1,411.0 390.4,409.6 392.7,409.3 395.0,409.9 397.3,411.5 399.6,414.0 401.9,417.4 404.2,421.5 406.5,426.3 408.8,431.6 411.1,437.2 413.4,442.9 415.6,448.7 417.9,454.2 420.2,459.4 422.5,464.1 424.8,468.2 427.1,471.4 429.4,473.8 431.7,475.3 434.0,475.7 436.3,475.2 438.6,473.7 440.9,471.2 443.2,467.9 445.5,463.9 447.8,459.2 450.1,454.0 452.4,448.5 454.7,442.8 457.0,437.0 459.3,431.5 461.6,426.3 463.9,421.6 466.2,417.6 468.5,414.2 470.8,411.8 473.1,410.3 475.4,409.7 477.7,410.2 480.0,411.6 482.3,413.9 484.6,417.0 486.9,420.9 489.2,425.4 491.5,430.4 493.8,435.7 496.0,441.1 498.3,446.6 500.6,451.8 502.9,456.8 505.2,461.2 507.5,465.0 509.8,468.0 512.1,470.2 514.4,471.4 516.7,471.8 519.0,471.1 521.3,469.6 523.6,467.2 525.9,463.9 528.2,460.0 530.5,455.5 532.8,450.6 535.1,445.4 537.4,440.0 539.7,434.7 542.0,429.5 544.3,424.7 546.6,420.3 548.9,416.6 551.2,413.6 553.5,411.4 555.8,410.1 558.1,409.8 560.4,410.3 562.7,411.9 565.0,414.4 567.3,417.8 569.6,421.9 571.9,426.6 574.1,431.8 576.4,437.4 578.7,443.1 581.0,448.8 583.3,454.3 585.6,459.5 587.9,464.1 590.2,468.2 592.5,471.4 594.8,473.8 597.1,475.3 599.4,475.7 601.7,475.2 604.0,473.5 606.3,470.8 608.6,467.1 610.9,462.6 613.2,457.4 615.5,451.6 617.8,445.5 620.1,439.1 622.4,432.8 624.7,426.6 627.0,420.8 629.3,415.6 631.6,411.1 633.9,407.4 636.2,404.6 638.5,402.9 640.8,402.3 643.1,402.8 645.4,404.4 647.7,407.2 650.0,410.9 652.2,415.5 654.5,420.8 656.8,426.7 659.1,433.1 661.4,439.6 663.7,446.2 666.0,452.6 668.3,458.6 670.6,464.1 672.9,468.8 675.2,472.7 677.5,475.6 679.8,477.5 682.1,478.2 684.4,477.8 686.7,476.4 689.0,474.1 691.3,470.8 693.6,466.7 695.9,461.9 698.2,456.6 700.5,450.9 702.8,445.0 705.1,439.1 707.4,433.3 709.7,427.9 712.0,422.9 714.3,418.5 716.6,415.0 718.9,412.3 721.2,410.5 723.5,409.8 725.8,410.1 728.1,411.4 730.3,413.7 732.6,416.8 734.9,420.8 737.2,425.5 739.5,430.7 741.8,436.3 744.1,442.1 746.4,447.9 748.7,453.6 751.0,458.9 753.3,463.7 755.6,467.8 757.9,471.2 760.2,473.7 762.5,475.2 764.8,475.7 767.1,475.2 769.4,473.8 771.7,471.3 774.0,468.1 776.3,464.0 778.6,459.4 780.9,454.2 783.2,448.7 785.5,442.9 787.8,437.2 790.1,431.7 792.4,426.5 794.7,421.8 797.0,417.7 799.3,414.3 801.6,411.9 803.9,410.3 806.2,409.7 808.5,410.1 810.7,411.5 813.0,413.7 815.3,416.7 817.6,420.4 819.9,424.8 822.2,429.6 824.5,434.8 826.8,440.1 829.1,445.5 831.4,450.7 833.7,455.7 836.0,460.1 838.3,464.0 840.6,467.2 842.9,469.6 845.2,471.1 847.5,471.8 849.8,471.4 852.1,470.2 854.4,468.1 856.7,465.1 859.0,461.4 861.3,457.1 863.6,452.3 865.9,447.2 868.2,441.8 870.5,436.4 872.8,431.2 875.1,426.2 877.4,421.7 879.7,417.8 882.0,414.5 884.3,412.1 886.6,410.5 888.8,409.8 891.1,410.0 893.4,411.2 895.7,413.3 898.0,416.1 900.3,419.8 902.6,424.0 904.9,428.8 907.2,433.9 909.5,439.3 911.8,444.7 914.1,449.9 916.4,454.9 918.7,459.5 921.0,463.5 923.3,466.8 923.3,476.7 921.0,473.4 918.7,469.4 916.4,464.8 914.1,459.8 911.8,454.6 909.5,449.2 907.2,443.9 904.9,438.7 902.6,434.0 900.3,429.7 898.0,426.1 895.7,423.2 893.4,421.1 891.1,419.9 888.8,419.7 886.6,420.4 884.3,422.0 882.0,424.4 879.7,427.7 877.4,431.6 875.1,436.2 872.8,441.1 870.5,446.4 868.2,451.7 865.9,457.1 863.6,462.2 861.3,467.0 859.0,471.3 856.7,475.0 854.4,478.0 852.1,480.1 849.8,481.4 847.5,481.7 845.2,481.1 842.9,479.5 840.6,477.1 838.3,474.0 836.0,470.1 833.7,465.6 831.4,460.7 829.1,455.4 826.8,450.1 824.5,444.7 822.2,439.5 819.9,434.7 817.6,430.3 815.3,426.6 813.0,423.6 810.7,421.4 808.5,420.1 806.2,419.7 803.9,420.2 801.6,421.8 799.3,424.3 797.0,427.6 794.7,431.7 792.4,436.4 790.1,441.6 787.8,447.2 785.5,452.9 783.2,458.6 780.9,464.1 778.6,469.3 776.3,474.0 774.0,478.0 771.7,481.3 769.4,483.7 767.1,485.2 764.8,485.7 762.5,485.2 760.2,483.6 757.9,481.1 755.6,477.8 753.3,473.6 751.0,468.8 748.7,463.5 746.4,457.9 744.1,452.0 741.8,446.3 739.5,440.7 737.2,435.4 734.9,430.8 732.6,426.8 730.3,423.6 728.1,421.3 725.8,420.0 723.5,419.7 721.2,420.4 718.9,422.2 716.6,424.9 714.3,428.5 712.0,432.8 709.7,437.8 707.4,443.2 705.1,449.0 702.8,455.0 700.5,460.9 698.2,466.6 695.9,471.9 693.6,476.6 691.3,480.7 689.0,484.0 686.7,486.4 684.4,487.8 682.1,488.1 679.8,487.4 677.5,485.6 675.2,482.6 672.9,478.7 670.6,474.0 668.3,468.5 666.0,462.5 663.7,456.1 661.4,449.5 659.1,443.0 656.8,436.6 654.5,430.7 652.2,425.4 650.0,420.8 647.7,417.1 645.4,414.4 643.1,412.7 640.8,412.2 638.5,412.8 636.2,414.6 633.9,417.3 631.6,421.0 629.3,425.5 627.0,430.8 624.7,436.6 622.4,442.7 620.1,449.1 617.8,455.4 615.5,461.6 613.2,467.3 610.9,472.6 608.6,477.1 606.3,480.7 604.0,483.4 601.7,485.1 599.4,485.7 597.1,485.2 594.8,483.7 592.5,481.3 590.2,478.1 587.9,474.1 585.6,469.4 583.3,464.2 581.0,458.7 578.7,453.0 576.4,447.3 574.1,441.8 571.9,436.5 569.6,431.8 567.3,427.7 565.0,424.3 562.7,421.8 560.4,420.3 558.1,419.7 555.8,420.0 553.5,421.3 551.2,423.5 548.9,426.5 546.6,430.2 544.3,434.6 542.0,439.4 539.7,444.6 537.4,449.9 535.1,455.3 532.8,460.5 530.5,465.5 528.2,470.0 525.9,473.9 523.6,477.1 521.3,479.5 519.0,481.0 516.7,481.7 514.4,481.4 512.1,480.1 509.8,477.9 507.5,474.9 505.2,471.1 502.9,466.7 500.6,461.8 498.3,456.5 496.0,451.1 493.8,445.6 491.5,440.3 489.2,435.3 486.9,430.8 484.6,427.0 482.3,423.8 480.0,421.5 477.7,420.1 475.4,419.7 473.1,420.2 470.8,421.7 468.5,424.2 466.2,427.5 463.9,431.5 461.6,436.2 459.3,441.4 457.0,447.0 454.7,452.7 452.4,458.4 450.1,463.9 447.8,469.1 445.5,473.8 443.2,477.9 440.9,481.2 438.6,483.6 436.3,485.1 434.0,485.7 431.7,485.2 429.4,483.7 427.1,481.4 424.8,478.1 422.5,474.1 420.2,469.4 417.9,464.2 415.6,458.6 413.4,452.9 411.1,447.1 408.8,441.5 406.5,436.3 404.2,431.5 401.9,427.3 399.6,423.9 397.3,421.4 395.0,419.8 392.7,419.2 390.4,419.6 388.1,420.9 385.8,423.2 383.5,426.3 381.2,430.2 378.9,434.7 376.6,439.8 374.3,445.2 372.0,450.8 369.7,456.4 367.4,461.9 365.1,467.1 362.8,471.8 360.5,475.9 358.2,479.3 355.9,481.8 353.6,483.5 351.3,484.2 349.0,483.9 346.7,482.6 344.4,480.4 342.1,477.4 339.8,473.6 337.5,469.1 335.3,464.1 333.0,458.8 330.7,453.2 328.4,447.7 326.1,442.2 323.8,437.0 321.5,432.3 319.2,428.2 316.9,424.8 314.6,422.2 312.3,420.5 310.0,419.7 307.7,420.0 305.4,421.3 303.1,423.7 300.8,427.2 298.5,431.5 296.2,436.5 293.9,442.1 291.6,448.1 289.3,454.3 287.0,460.5 284.7,466.5 282.4,472.2 280.1,477.2 277.8,481.5 275.5,485.0 273.2,487.4 270.9,488.8 268.6,489.1 266.3,488.3 264.0,486.4 261.7,483.5 259.4,479.6 257.2,475.0 254.9,469.7 252.6,463.8 250.3,457.7 248.0,451.4 245.7,445.1 243.4,439.2 241.1,433.6 238.8,428.6 236.5,424.4 234.2,421.1 231.9,418.7 229.6,417.4 227.3,417.2 225.0,418.0 222.7,419.7 220.4,422.2 218.1,425.5 215.8,429.6 213.5,434.1 211.2,439.1 208.9,444.4 206.6,449.7 204.3,455.0 202.0,460.1 199.7,464.8 197.4,469.0 195.1,472.5 192.8,475.3 190.5,477.3 188.2,478.3 185.9,478.4 183.6,478.0 181.3,477.1 179.1,475.7 176.8,473.9 174.5,471.7 172.2,469.1 169.9,466.1 167.6,462.9 165.3,459.5 163.0,455.9 160.7,452.1 158.4,448.4 156.1,444.6 153.8,440.9 151.5,437.4 149.2,434.0 146.9,430.9 144.6,428.1 142.3,425.6 140.0,423.5 137.7,421.9 135.4,420.7 133.1,419.9 130.8,419.7 128.5,420.4 126.2,422.5 123.9,426.0 121.6,430.7 119.3,436.2 117.0,442.5 114.7,449.0 112.4,455.6 110.1,461.8 107.8,467.4 105.5,472.0 103.2,475.5 100.9,477.7 98.7,478.5" fill="#00ff00" fill-opacity="0.35"/>
<polyline points="98.7,473.5 100.9,472.8 103.2,470.6 105.5,467.1 107.8,462.4 110.1,456.8 112.4,450.6 114.7,444.0 117.0,437.5 119.3,431.3 121.6,425.7 123.9,421.1 126.2,417.6 128.5,415.4 130.8,414.7 133.1,415.0 135.4,415.7 137.7,416.9 140.0,418.6 142.3,420.6 144.6,423.1 146.9,425.9 149.2,429.0 151.5,432.4 153.8,435.9 156.1,439.6 158.4,443.4 160.7,447.2 163.0,450.9 165.3,454.5 167.6,458.0 169.9,461.2 172.2,464.1 174.5,466.7 176.8,468.9 179.1,470.8 181.3,472.1 183.6,473.0 185.9,473.5 188.2,473.3 190.5,472.3 192.8,470.4 195.1,467.6 197.4,464.0 199.7,459.9 202.0,455.1 204.3,450.1 206.6,444.8 208.9,439.4 211.2,434.1 213.5,429.2 215.8,424.6 218.1,420.6 220.4,417.3 222.7,414.7 225.0,413.0 227.3,412.3 229.6,412.5 231.9,413.8 234.2,416.1 236.5,419.5 238.8,423.7 241.1,428.6 243.4,434.2 245.7,440.2 248.0,446.4 250.3,452.7 252.6,458.9 254.9,464.7 257.2,470.0 259.4,474.7 261.7,478.5 264.0,481.4 266.3,483.3 268.6,484.1 270.9,483.9 273.2,482.5 275.5,480.0 277.8,476.6 280.1,472.2 282.4,467.2 284.7,461.6 287.0,455.6 289.3,449.3 291.6,443.1 293.9,437.1 296.2,431.5 298.5,426.5 300.8,422.2 303.1,418.8 305.4,416.4 307.7,415.0 310.0,414.7 312.3,415.5 314.6,417.2 316.9,419.8 319.2,423.2 321.5,427.3 323.8,432.1 326.1,437.2 328.4,442.7 330.7,448.3 333.0,453.8 335.3,459.2 337.5,464.2 339.8,468.6 342.1,472.4 344.4,475.5 346.7,477.6 349.0,478.9 351.3,479.2 353.6,478.5 355.9,476.9 358.2,474.3 360.5,470.9 362.8,466.8 365.1,462.1 367.4,456.9 369.7,451.5 372.0,445.8 374.3,440.2 376.6,434.8 378.9,429.8 381.2,425.2 383.5,421.3 385.8,418.2 388.1,415.9 390.4,414.6 392.7,414.2 395.0,414.8 397.3,416.4 399.6,419.0 401.9,422.4 404.2,426.5 406.5,431.3 408.8,436.6 411.1,442.1 413.4,447.9 415.6,453.6 417.9,459.2 420.2,464.4 422.5,469.1 424.8,473.1 427.1,476.4 429.4,478.8 431.7,480.2 434.0,480.7 436.3,480.2 438.6,478.7 440.9,476.2 443.2,472.9 445.5,468.8 447.8,464.1 450.1,459.0 452.4,453.4 454.7,447.7 457.0,442.0 459.3,436.5 461.6,431.3 463.9,426.6 466.2,422.5 468.5,419.2 470.8,416.8 473.1,415.2 475.4,414.7 477.7,415.2 480.0,416.5 482.3,418.8 484.6,422.0 486.9,425.9 489.2,430.4 491.5,435.3 493.8,440.6 496.0,446.1 498.3,451.5 500.6,456.8 502.9,461.7 505.2,466.1 507.5,469.9 509.8,473.0 512.1,475.1 514.4,476.4 516.7,476.7 519.0,476.1 521.3,474.5 523.6,472.1 525.9,468.9 528.2,465.0 530.5,460.5 532.8,455.6 535.1,450.3 537.4,445.0 539.7,439.6 542.0,434.5 544.3,429.6 546.6,425.3 548.9,421.6 551.2,418.6 553.5,416.4 555.8,415.1 558.1,414.7 560.4,415.3 562.7,416.9 565.0,419.4 567.3,422.7 569.6,426.8 571.9,431.6 574.1,436.8 576.4,442.3 578.7,448.1 581.0,453.8 583.3,459.3 585.6,464.4 587.9,469.1 590.2,473.1 592.5,476.4 594.8,478.8 597.1,480.2 599.4,480.7 601.7,480.1 604.0,478.5 606.3,475.8 608.6,472.1 610.9,467.6 613.2,462.4 615.5,456.6 617.8,450.5 620.1,444.1 622.4,437.8 624.7,431.6 627.0,425.8 629.3,420.6 631.6,416.0 633.9,412.3 636.2,409.6 638.5,407.9 640.8,407.3 643.1,407.8 645.4,409.4 647.7,412.1 650.0,415.8 652.2,420.4 654.5,425.8 656.8,431.7 659.1,438.0 661.4,444.6 663.7,451.1 666.0,457.5 668.3,463.6 670.6,469.0 672.9,473.8 675.2,477.7 677.5,480.6 679.8,482.4 682.1,483.2 684.4,482.8 686.7,481.4 689.0,479.0 691.3,475.8 693.6,471.7 695.9,466.9 698.2,461.6 700.5,455.9 702.8,450.0 705.1,444.1 707.4,438.3 709.7,432.8 712.0,427.8 714.3,423.5 716.6,419.9 718.9,417.2 721.2,415.5 723.5,414.7 725.8,415.0 728.1,416.3 730.3,418.6 732.6,421.8 734.9,425.8 737.2,430.5 739.5,435.7 741.8,441.3 744.1,447.1 746.4,452.9 748.7,458.5 751.0,463.8 753.3,468.7 755.6,472.8 757.9,476.2 760.2,478.7 762.5,480.2 764.8,480.7 767.1,480.2 769.4,478.7 771.7,476.3 774.0,473.0 776.3,469.0 778.6,464.3 780.9,459.1 783.2,453.6 785.5,447.9 787.8,442.2 790.1,436.7 792.4,431.5 794.7,426.7 797.0,422.6 799.3,419.3 801.6,416.8 803.9,415.3 806.2,414.7 808.5,415.1 810.7,416.4 813.0,418.6 815.3,421.6 817.6,425.4 819.9,429.7 822.2,434.6 824.5,439.7 826.8,445.1 829.1,450.5 831.4,455.7 833.7,460.6 836.0,465.1 838.3,469.0 840.6,472.2 842.9,474.6 845.2,476.1 847.5,476.7 849.8,476.4 852.1,475.2 854.4,473.0 856.7,470.1 859.0,466.4 861.3,462.1 863.6,457.3 865.9,452.1 868.2,446.8 870.5,441.4 872.8,436.2 875.1,431.2 877.4,426.7 879.7,422.7 882.0,419.5 884.3,417.0 886.6,415.4 888.8,414.7 891.1,415.0 893.4,416.2 895.7,418.2 898.0,421.1 900.3,424.7 902.6,429.0 904.9,433.8 907.2,438.9 909.5,444.2 911.8,449.6 914.1,454.9 916.4,459.9 918.7,464.4 921.0,468.4 923.3,471.7" fill="none" stroke="#00ff00" stroke-width="5" stroke-linejoin="round" />
<polygon points="99.6,429.0 106.5,430.0 113.5,438.5 120.4,446.8 127.3,442.0 134.2,432.9 141.2,429.6 148.1,437.9 155.0,450.4 161.9,454.2 168.8,443.8 175.8,427.6 182.7,422.6 189.6,436.4 196.5,455.8 203.4,460.8 210.4,445.2 217.3,423.2 224.2,417.4 231.1,435.7 238.1,457.1 245.0,460.8 251.9,445.0 258.8,424.2 265.7,419.3 272.7,435.8 279.6,457.6 286.5,462.7 293.4,445.4 300.4,422.9 307.3,420.3 314.2,435.7 321.1,457.1 328.0,462.0 335.0,445.8 341.9,423.6 348.8,417.7 355.7,435.2 362.6,457.9 369.6,463.5 376.5,445.6 383.4,422.4 390.3,419.1 397.3,435.4 404.2,460.1 411.1,461.4 418.0,445.8 424.9,422.3 431.9,418.3 438.8,434.8 445.7,459.4 452.6,461.9 459.6,445.6 466.5,421.8 473.4,417.7 480.3,435.2 487.2,458.5 494.2,464.6 501.1,446.0 508.0,423.2 514.9,417.1 521.8,435.6 528.8,458.7 535.7,462.0 542.6,445.4 549.5,422.7 556.5,416.1 563.4,435.1 570.3,457.1 577.2,462.5 584.1,445.8 591.1,424.6 598.0,418.0 604.9,435.5 611.8,460.0 618.7,464.6 625.7,445.5 632.6,422.8 639.5,417.7 646.4,435.0 653.4,458.1 660.3,463.2 667.2,445.7 674.1,422.6 681.0,417.7 688.0,435.8 694.9,458.6 701.8,463.0 708.7,445.9 715.7,421.7 722.6,417.4 729.5,435.2 736.4,458.2 743.3,465.1 750.3,445.6 757.2,421.8 764.1,419.2 771.0,435.3 777.9,456.7 784.9,460.8 791.8,445.5 798.7,423.4 805.6,417.2 812.6,434.8 819.5,457.7 826.4,462.7 833.3,445.6 840.2,421.9 847.2,417.6 854.1,435.5 861.0,459.4 867.9,464.4 874.9,445.2 881.8,422.5 888.7,417.3 895.6,435.8 902.5,458.9 909.5,462.4 916.4,445.9 923.3,422.2 923.3,435.1 916.4,458.8 909.5,475.3 902.5,471.8 895.6,448.7 888.7,430.2 881.8,435.4 874.9,458.1 867.9,477.3 861.0,472.3 854.1,448.4 847.2,430.5 840.2,434.8 833.3,458.5 826.4,475.7 819.5,470.6 812.6,447.7 805.6,430.1 798.7,436.3 791.8,458.4 784.9,473.7 777.9,469.6 771.0,448.2 764.1,432.1 757.2,434.7 750.3,458.5 743.3,478.0 736.4,471.1 729.5,448.1 722.6,430.3 715.7,434.6 708.7,458.8 701.8,475.9 694.9,471.5 688.0,448.7 681.0,430.6 674.1,435.5 667.2,458.6 660.3,476.1 653.4,471.0 646.4,447.9 639.5,430.6 632.6,435.7 625.7,458.4 618.7,477.5 611.8,472.9 604.9,448.4 598.0,430.9 591.1,437.5 584.1,458.7 577.2,475.4 570.3,470.0 563.4,448.0 556.5,429.0 549.5,435.6 542.6,458.3 535.7,474.9 528.8,471.6 521.8,448.5 514.9,430.0 508.0,436.1 501.1,458.9 494.2,477.5 487.2,471.4 480.3,448.1 473.4,430.6 466.5,434.7 459.6,458.5 452.6,474.8 445.7,472.3 438.8,447.7 431.9,431.2 424.9,435.2 418.0,458.7 411.1,474.3 404.2,473.0 397.3,448.3 390.3,432.0 383.4,435.3 376.5,458.5 369.6,476.4 362.6,470.8 355.7,448.1 348.8,430.6 341.9,436.5 335.0,458.7 328.0,474.9 321.1,470.0 314.2,448.6 307.3,433.2 300.4,435.8 293.4,458.3 286.5,475.6 279.6,470.5 272.7,448.7 265.7,432.2 258.8,437.1 251.9,457.9 245.0,473.7 238.1,470.0 231.1,448.6 224.2,430.3 217.3,436.1 210.4,458.1 203.4,473.7 196.5,468.7 189.6,449.3 182.7,435.5 175.8,440.5 168.8,456.7 161.9,467.1 155.0,463.4 148.1,450.9 141.2,442.6 134.2,446.1 127.3,455.5 120.4,460.8 113.5,453.5 106.5,447.0 99.6,449.8" fill="#0000ff" fill-opacity="0.18"/>
<polygon points="99.6,434.9 106.5,434.1 113.5,441.5 120.4,449.3 127.3,444.3 134.2,435.1 141.2,431.6 148.1,439.9 155.0,452.5 161.9,456.2 168.8,445.8 175.8,429.6 182.7,424.6 189.6,438.4 196.5,457.7 203.4,462.8 210.4,447.1 217.3,425.2 224.2,419.4 231.1,437.6 238.1,459.1 245.0,462.8 251.9,447.0 258.8,426.1 265.7,421.3 272.7,437.8 279.6,459.6 286.5,464.7 293.4,447.3 300.4,424.9 307.3,422.2 314.2,437.7 321.1,459.1 328.0,464.0 335.0,447.8 341.9,425.6 348.8,419.7 355.7,437.2 362.6,459.9 369.6,465.5 376.5,447.6 383.4,424.4 390.3,421.1 397.3,437.4 404.2,462.1 411.1,463.4 418.0,447.8 424.9,424.3 431.9,420.3 438.8,436.8 445.7,461.4 452.6,463.9 459.6,447.6 466.5,423.8 473.4,419.6 480.3,437.2 487.2,460.5 494.2,466.6 501.1,448.0 508.0,425.2 514.9,419.1 521.8,437.6 528.8,460.7 535.7,463.9 542.6,447.4 549.5,424.6 556.5,418.1 563.4,437.1 570.3,459.1 577.2,464.5 584.1,447.7 591.1,426.6 598.0,420.0 604.9,437.5 611.8,462.0 618.7,466.6 625.7,447.4 632.6,424.8 639.5,419.7 646.4,437.0 653.4,460.1 660.3,465.2 667.2,447.7 674.1,424.6 681.0,419.6 688.0,437.8 694.9,460.6 701.8,465.0 708.7,447.9 715.7,423.7 722.6,419.4 729.5,437.2 736.4,460.2 743.3,467.1 750.3,447.5 757.2,423.8 764.1,421.2 771.0,437.3 777.9,458.7 784.9,462.7 791.8,447.5 798.7,425.4 805.6,419.1 812.6,436.7 819.5,459.6 826.4,464.7 833.3,447.6 840.2,423.9 847.2,419.6 854.1,437.5 861.0,461.3 867.9,466.4 874.9,447.2 881.8,424.5 888.7,419.3 895.6,437.8 902.5,460.9 909.5,464.4 916.4,447.9 923.3,424.2 923.3,433.1 916.4,456.8 909.5,473.3 902.5,469.8 895.6,446.7 888.7,428.3 881.8,433.4 874.9,456.2 867.9,475.3 861.0,470.3 854.1,446.4 847.2,428.6 840.2,432.8 833.3,456.5 826.4,473.7 819.5,468.6 812.6,445.7 805.6,428.1 798.7,434.4 791.8,456.4 784.9,471.7 777.9,467.6 771.0,446.3 764.1,430.1 757.2,432.7 750.3,456.5 743.3,476.0 736.4,469.1 729.5,446.2 722.6,428.3 715.7,432.6 708.7,456.8 701.8,473.9 694.9,469.5 688.0,446.7 681.0,428.6 674.1,433.5 667.2,456.6 660.3,474.1 653.4,469.0 646.4,445.9 639.5,428.7 632.6,433.8 625.7,456.4 618.7,475.5 611.8,470.9 604.9,446.4 598.0,429.0 591.1,435.6 584.1,456.7 577.2,473.4 570.3,468.0 563.4,446.0 556.5,427.0 549.5,433.6 542.6,456.3 535.7,472.9 528.8,469.6 521.8,446.5 514.9,428.0 508.0,434.1 501.1,456.9 494.2,475.5 487.2,469.4 480.3,446.2 473.4,428.6 466.5,432.7 459.6,456.5 452.6,472.9 445.7,470.3 438.8,445.8 431.9,429.2 424.9,433.2 418.0,456.7 411.1,472.4 404.2,471.0 397.3,446.3 390.3,430.0 383.4,433.3 376.5,456.5 369.6,474.4 362.6,468.8 355.7,446.1 348.8,428.6 341.9,434.5 335.0,456.7 328.0,472.9 321.1,468.0 314.2,446.7 307.3,431.2 300.4,433.8 293.4,456.3 286.5,473.6 279.6,468.5 272.7,446.7 265.7,430.2 258.8,435.1 251.9,455.9 245.0,471.7 238.1,468.0 231.1,446.6 224.2,428.3 217.3,434.1 210.4,456.1 203.4,471.7 196.5,466.7 189.6,447.3 182.7,433.5 175.8,438.5 168.8,454.7 161.9,465.1 155.0,461.4 148.1,448.8 141.2,440.6 134.2,444.0 127.3,453.2 120.4,458.3 113.5,450.4 106.5,443.0 99.6,443.9" fill="#0000ff" fill-opacity="0.25"/>
<polyline points="99.6,439.4 106.5,438.5 113.5,446.0 120.4,453.8 127.3,448.7 134.2,439.5 141.2,436.1 148.1,444.4 155.0,456.9 161.9,460.6 168.8,450.3 175.8,434.1 182.7,429.0 189.6,442.9 196.5,462.2 203.4,467.3 210.4,451.6 217.3,429.6 224.2,423.8 231.1,442.1 238.1,463.6 245.0,467.3 251.9,451.5 258.8,430.6 265.7,425.7 272.7,442.2 279.6,464.0 286.5,469.1 293.4,451.8 300.4,429.4 307.3,426.7 314.2,442.2 321.1,463.5 328.0,468.5 335.0,452.3 341.9,430.0 348.8,424.1 355.7,441.7 362.6,464.3 369.6,469.9 376.5,452.0 383.4,428.8 390.3,425.6 397.3,441.9 404.2,466.5 411.1,467.9 418.0,452.3 424.9,428.8 431.9,424.7 438.8,441.3 445.7,465.9 452.6,468.4 459.6,452.0 466.5,428.3 473.4,424.1 480.3,441.7 487.2,465.0 494.2,471.0 501.1,452.5 508.0,429.6 514.9,423.5 521.8,442.0 528.8,465.2 535.7,468.4 542.6,451.8 549.5,429.1 556.5,422.6 563.4,441.6 570.3,463.6 577.2,469.0 584.1,452.2 591.1,431.1 598.0,424.5 604.9,441.9 611.8,466.4 618.7,471.1 625.7,451.9 632.6,429.3 639.5,424.2 646.4,441.4 653.4,464.6 660.3,469.7 667.2,452.1 674.1,429.0 681.0,424.1 688.0,442.2 694.9,465.0 701.8,469.5 708.7,452.4 715.7,428.2 722.6,423.9 729.5,441.7 736.4,464.7 743.3,471.6 750.3,452.0 757.2,428.2 764.1,425.7 771.0,441.8 777.9,463.2 784.9,467.2 791.8,451.9 798.7,429.9 805.6,423.6 812.6,441.2 819.5,464.1 826.4,469.2 833.3,452.1 840.2,428.3 847.2,424.1 854.1,442.0 861.0,465.8 867.9,470.8 874.9,451.7 881.8,429.0 888.7,423.8 895.6,442.2 902.5,465.3 909.5,468.9 916.4,452.3 923.3,428.7" fill="none" stroke="#0000ff" stroke-width="5" stroke-linejoin="round" />
</g>
<line x1="201.4" y1="84.4" x2="284" y2="84.4" stroke="#bcbcbc" stroke-width="1.6"/>
<line x1="355" y1="84.4" x2="436" y2="84.4" stroke="#ff0000" stroke-width="2"/>
<line x1="500" y1="84.4" x2="581" y2="84.4" stroke="#00ff00" stroke-width="2"/>
<line x1="657.4" y1="84.4" x2="740.3" y2="84.4" stroke="#0000ff" stroke-width="2"/>
<text x="293" y="88.8" font-size="25" fill="#000">D<tspan font-size="19" dy="11.8">j</tspan><tspan dy="-11.8">(t)</tspan></text>
<text x="446.5" y="94.6" font-size="25" fill="#000">δ(t)</text>
<text x="589" y="97.1" font-size="25" fill="#000">σ<tspan font-size="19" dy="-11.5">A</tspan><tspan dy="11.5">(t)</tspan></text>
<text x="748.5" y="97.1" font-size="25" fill="#000">σ<tspan font-size="19" dy="-11.5">SA</tspan><tspan dy="11.5">(t)</tspan></text>
<g clip-path="url(#cB)">
<polygon points="99.6,542.1 103.1,555.7 106.5,575.1 110.0,601.0 113.4,623.6 116.9,636.8 120.3,646.8 123.7,655.2 127.2,660.9 130.6,664.3 134.1,668.9 137.5,672.1 141.0,674.3 144.4,676.7 147.9,679.8 151.3,682.4 154.8,684.9 158.2,688.3 161.7,689.4 165.1,693.4 168.5,697.9 172.0,701.7 175.4,704.3 178.9,704.5 182.3,705.2 185.8,706.3 189.2,706.9 192.7,705.8 196.1,706.5 199.6,704.1 203.0,698.9 206.5,694.2 209.9,694.2 213.4,695.7 216.8,696.2 220.2,701.0 223.7,705.6 227.1,711.2 230.6,716.1 234.0,719.0 237.5,723.5 240.9,726.8 244.4,728.5 247.8,730.4 251.3,731.2 254.7,731.3 258.2,731.5 261.6,731.7 265.0,731.1 268.5,730.5 271.9,729.9 275.4,729.6 278.8,727.6 282.3,726.9 285.7,722.0 289.2,719.3 292.6,716.8 296.1,719.0 299.5,722.2 303.0,723.3 306.4,722.6 309.9,723.3 313.3,721.7 316.7,721.8 320.2,721.3 323.6,722.6 327.1,722.2 330.5,721.9 334.0,720.7 337.4,721.9 340.9,721.4 344.3,721.9 347.8,722.2 351.2,721.2 354.7,721.8 358.1,722.2 361.5,721.7 365.0,721.4 368.4,721.0 371.9,721.2 375.3,720.7 378.8,721.9 382.2,721.1 385.7,720.1 389.1,720.6 392.6,719.6 396.0,718.3 399.5,721.0 402.9,721.1 406.3,719.8 409.8,720.7 413.2,721.8 416.7,722.0 420.1,722.4 423.6,723.2 427.0,724.0 430.5,724.5 433.9,725.5 437.4,725.7 440.8,725.8 444.3,726.6 447.7,725.7 451.2,727.5 454.6,725.2 458.0,725.6 461.5,725.2 464.9,724.4 468.4,723.4 471.8,723.0 475.3,720.6 478.7,720.4 482.2,719.8 485.6,718.8 489.1,718.3 492.5,719.1 496.0,717.6 499.4,717.6 502.8,717.5 506.3,717.4 509.7,717.5 513.2,717.2 516.6,717.5 520.1,717.3 523.5,718.1 527.0,720.0 530.4,720.3 533.9,723.0 537.3,722.5 540.8,723.8 544.2,724.1 547.6,724.4 551.1,723.7 554.5,726.0 558.0,724.2 561.4,723.4 564.9,723.2 568.3,721.2 571.8,720.6 575.2,718.9 578.7,716.9 582.1,715.4 585.6,714.8 589.0,712.7 592.5,712.7 595.9,711.8 599.3,710.7 602.8,710.4 606.2,708.9 609.7,709.9 613.1,709.9 616.6,708.2 620.0,709.0 623.5,709.7 626.9,709.0 630.4,708.0 633.8,708.3 637.3,710.5 640.7,712.9 644.1,713.3 647.6,716.0 651.0,717.1 654.5,718.4 657.9,719.7 661.4,720.5 664.8,721.0 668.3,723.4 671.7,722.7 675.2,723.2 678.6,724.2 682.1,723.5 685.5,723.2 689.0,723.3 692.4,721.5 695.8,721.8 699.3,721.1 702.7,720.1 706.2,718.8 709.6,718.3 713.1,716.9 716.5,717.7 720.0,717.9 723.4,718.1 726.9,717.7 730.3,717.3 733.8,717.0 737.2,717.4 740.6,717.4 744.1,718.0 747.5,717.0 751.0,716.3 754.4,716.2 757.9,715.6 761.3,715.5 764.8,714.2 768.2,714.9 771.7,715.7 775.1,717.4 778.6,718.0 782.0,719.1 785.4,720.7 788.9,720.3 792.3,722.4 795.8,722.5 799.2,722.2 802.7,723.4 806.1,720.5 809.6,719.1 813.0,718.2 816.5,718.0 819.9,717.4 823.4,716.1 826.8,717.1 830.3,717.1 833.7,718.6 837.1,717.9 840.6,717.1 844.0,716.3 847.5,717.1 850.9,716.1 854.4,716.7 857.8,716.6 861.3,715.9 864.7,715.7 868.2,714.7 871.6,713.7 875.1,713.9 878.5,712.3 881.9,710.7 885.4,709.3 888.8,708.8 892.3,707.9 895.7,706.9 899.2,706.0 902.6,704.1 906.1,701.7 909.5,702.2 913.0,700.2 916.4,698.4 919.9,697.1 923.3,693.8 923.3,771.2 919.9,768.8 916.4,766.9 913.0,764.6 909.5,762.5 906.1,761.8 902.6,760.3 899.2,757.7 895.7,757.4 892.3,756.7 888.8,754.5 885.4,753.5 881.9,753.0 878.5,751.5 875.1,751.8 871.6,751.4 868.2,752.5 864.7,751.5 861.3,752.4 857.8,752.9 854.4,751.0 850.9,752.4 847.5,754.0 844.0,754.7 840.6,754.4 837.1,753.8 833.7,755.2 830.3,754.6 826.8,754.9 823.4,754.7 819.9,754.3 816.5,754.4 813.0,755.0 809.6,755.0 806.1,754.3 802.7,756.6 799.2,754.6 795.8,754.7 792.3,754.9 788.9,754.8 785.4,755.6 782.0,753.1 778.6,752.4 775.1,752.0 771.7,751.3 768.2,750.1 764.8,749.4 761.3,748.2 757.9,748.6 754.4,748.5 751.0,750.0 747.5,751.3 744.1,753.1 740.6,753.8 737.2,754.7 733.8,754.8 730.3,754.3 726.9,754.7 723.4,754.3 720.0,755.0 716.5,754.6 713.1,754.7 709.6,753.8 706.2,753.5 702.7,753.5 699.3,754.0 695.8,753.3 692.4,755.0 689.0,755.4 685.5,756.2 682.1,756.1 678.6,756.7 675.2,759.1 671.7,760.0 668.3,759.3 664.8,759.2 661.4,758.1 657.9,755.4 654.5,752.0 651.0,750.5 647.6,748.5 644.1,748.2 640.7,744.5 637.3,744.3 633.8,743.7 630.4,743.3 626.9,744.0 623.5,743.1 620.0,744.2 616.6,743.5 613.1,742.6 609.7,743.9 606.2,744.4 602.8,744.1 599.3,743.8 595.9,742.8 592.5,745.9 589.0,748.2 585.6,749.9 582.1,750.3 578.7,753.2 575.2,753.6 571.8,756.1 568.3,755.6 564.9,756.7 561.4,756.9 558.0,759.6 554.5,758.9 551.1,760.2 547.6,759.5 544.2,758.2 540.8,758.1 537.3,757.2 533.9,757.1 530.4,755.8 527.0,755.4 523.5,754.0 520.1,751.3 516.6,752.2 513.2,751.3 509.7,750.5 506.3,751.2 502.8,751.7 499.4,751.4 496.0,751.4 492.5,751.2 489.1,751.7 485.6,752.5 482.2,751.9 478.7,753.8 475.3,755.0 471.8,754.2 468.4,755.0 464.9,756.3 461.5,756.5 458.0,758.3 454.6,758.8 451.2,761.0 447.7,760.7 444.3,762.1 440.8,760.0 437.4,759.9 433.9,760.4 430.5,759.2 427.0,757.9 423.6,757.2 420.1,756.8 416.7,754.4 413.2,754.8 409.8,753.3 406.3,753.5 402.9,753.7 399.5,752.3 396.0,752.2 392.6,752.6 389.1,751.6 385.7,752.4 382.2,752.8 378.8,753.1 375.3,753.4 371.9,753.9 368.4,754.6 365.0,754.7 361.5,753.6 358.1,753.2 354.7,754.6 351.2,754.7 347.8,754.6 344.3,754.9 340.9,755.5 337.4,755.4 334.0,754.0 330.5,753.3 327.1,754.5 323.6,754.3 320.2,755.2 316.7,755.6 313.3,755.2 309.9,755.4 306.4,754.5 303.0,755.1 299.5,755.7 296.1,755.3 292.6,756.2 289.2,756.1 285.7,757.2 282.3,756.8 278.8,759.3 275.4,760.1 271.9,762.2 268.5,764.3 265.0,765.4 261.6,766.2 258.2,768.1 254.7,770.0 251.3,771.0 247.8,770.0 244.4,767.4 240.9,763.0 237.5,755.2 234.0,751.4 230.6,748.2 227.1,744.7 223.7,743.2 220.2,741.0 216.8,740.6 213.4,739.5 209.9,740.3 206.5,738.3 203.0,738.0 199.6,738.9 196.1,738.1 192.7,738.0 189.2,739.5 185.8,739.5 182.3,738.4 178.9,740.5 175.4,739.7 172.0,735.5 168.5,730.5 165.1,727.3 161.7,723.5 158.2,721.0 154.8,717.3 151.3,716.6 147.9,715.7 144.4,718.1 141.0,720.5 137.5,718.7 134.1,714.6 130.6,707.0 127.2,701.4 123.7,692.9 120.3,687.9 116.9,685.3 113.4,681.9 110.0,679.3 106.5,679.0 103.1,676.9 99.6,676.6" fill="#bfbfbf" />
<line x1="92.7" y1="734.8" x2="923.3" y2="734.8" stroke="#000" stroke-width="1.3" stroke-dasharray="1.4 1.8"/>
<polyline points="99.6,640.3 101.7,641.4 103.8,642.8 105.8,644.4 107.9,646.2 109.9,648.2 112.0,650.2 114.1,652.5 116.1,654.8 118.2,657.2 120.3,660.0 122.3,663.4 124.4,667.0 126.5,670.7 128.5,674.3 130.6,677.5 132.7,680.1 134.7,682.4 136.8,684.4 138.8,686.3 140.9,688.1 143.0,689.8 145.0,691.5 147.1,693.1 149.2,694.6 151.2,696.0 153.3,697.4 155.4,698.8 157.4,700.2 159.5,701.6 161.6,703.2 163.6,705.0 165.7,706.7 167.7,708.5 169.8,710.2 171.9,711.8 173.9,713.2 176.0,714.6 178.1,716.0 180.1,717.3 182.2,718.5 184.3,719.5 186.3,720.4 188.4,721.0 190.5,721.4 192.5,721.8 194.6,722.1 196.6,722.3 198.7,722.6 200.8,722.9 202.8,723.2 204.9,723.4 207.0,723.7 209.0,724.0 211.1,724.4 213.2,725.1 215.2,725.9 217.3,726.9 219.4,728.0 221.4,729.2 223.5,730.5 225.5,731.8 227.6,733.0 229.7,734.2 231.7,735.4 233.8,736.8 235.9,738.2 237.9,739.6 240.0,741.0 242.1,742.2 244.1,743.3 246.2,744.0 248.3,744.5 250.3,744.9 252.4,745.2 254.4,745.6 256.5,745.8 258.6,746.1 260.6,746.2 262.7,746.3 264.8,746.3 266.8,746.1 268.9,745.9 271.0,745.5 273.0,745.0 275.1,744.5 277.2,744.0 279.2,743.5 281.3,743.0 283.4,742.5 285.4,742.2 287.5,741.8 289.5,741.5 291.6,741.2 293.7,740.8 295.7,740.5 297.8,740.2 299.9,739.9 301.9,739.6 304.0,739.3 306.1,739.1 308.1,738.9 310.2,738.7 312.3,738.6 314.3,738.5 316.4,738.4 318.4,738.3 320.5,738.3 322.6,738.2 324.6,738.2 326.7,738.1 328.8,738.1 330.8,738.1 332.9,738.0 335.0,738.0 337.0,738.0 339.1,737.9 341.2,737.9 343.2,737.8 345.3,737.8 347.3,737.7 349.4,737.7 351.5,737.6 353.5,737.5 355.6,737.5 357.7,737.4 359.7,737.4 361.8,737.3 363.9,737.3 365.9,737.3 368.0,737.3 370.1,737.3 372.1,737.3 374.2,737.3 376.2,737.3 378.3,737.3 380.4,737.3 382.4,737.3 384.5,737.3 386.6,737.3 388.6,737.3 390.7,737.3 392.8,737.3 394.8,737.3 396.9,737.3 399.0,737.3 401.0,737.4 403.1,737.5 405.1,737.7 407.2,737.9 409.3,738.2 411.3,738.5 413.4,738.7 415.5,739.0 417.5,739.3 419.6,739.5 421.7,739.7 423.7,739.9 425.8,740.0 427.9,740.1 429.9,740.3 432.0,740.4 434.0,740.5 436.1,740.6 438.2,740.7 440.2,740.7 442.3,740.8 444.4,740.8 446.4,740.9 448.5,740.9 450.6,740.8 452.6,740.7 454.7,740.6 456.8,740.4 458.8,740.2 460.9,739.9 463.0,739.6 465.0,739.4 467.1,739.1 469.1,738.9 471.2,738.6 473.3,738.5 475.3,738.3 477.4,738.2 479.5,738.0 481.5,737.9 483.6,737.7 485.7,737.6 487.7,737.4 489.8,737.3 491.9,737.2 493.9,737.1 496.0,737.0 498.0,737.0 500.1,737.0 502.2,737.0 504.2,737.0 506.3,737.0 508.4,737.0 510.4,737.0 512.5,737.0 514.6,737.0 516.6,737.0 518.7,737.0 520.8,737.0 522.8,737.0 524.9,737.0 526.9,737.0 529.0,737.0 531.1,737.0 533.1,737.2 535.2,737.5 537.3,737.9 539.3,738.3 541.4,738.7 543.5,739.1 545.5,739.4 547.6,739.7 549.7,739.9 551.7,740.0 553.8,739.9 555.8,739.6 557.9,739.2 560.0,738.6 562.0,738.0 564.1,737.3 566.2,736.7 568.2,736.0 570.3,735.4 572.4,734.8 574.4,734.3 576.5,733.8 578.6,733.3 580.6,732.8 582.7,732.2 584.7,731.7 586.8,731.2 588.9,730.7 590.9,730.3 593.0,729.8 595.1,729.5 597.1,729.1 599.2,728.9 601.3,728.7 603.3,728.5 605.4,728.3 607.5,728.1 609.5,727.9 611.6,727.8 613.6,727.6 615.7,727.5 617.8,727.3 619.8,727.2 621.9,727.1 624.0,727.1 626.0,727.0 628.1,727.0 630.2,727.0 632.2,727.2 634.3,727.4 636.4,727.8 638.4,728.3 640.5,728.9 642.6,729.5 644.6,730.1 646.7,730.7 648.7,731.3 650.8,731.9 652.9,732.5 654.9,733.2 657.0,733.9 659.1,734.8 661.1,735.6 663.2,736.4 665.3,737.2 667.3,738.0 669.4,738.6 671.5,739.2 673.5,739.6 675.6,739.9 677.6,740.0 679.7,740.0 681.8,739.9 683.8,739.9 685.9,739.8 688.0,739.7 690.0,739.6 692.1,739.5 694.2,739.4 696.2,739.3 698.3,739.1 700.4,739.0 702.4,738.9 704.5,738.7 706.5,738.5 708.6,738.4 710.7,738.2 712.7,738.1 714.8,737.9 716.9,737.8 718.9,737.6 721.0,737.4 723.1,737.2 725.1,736.9 727.2,736.7 729.3,736.4 731.3,736.1 733.4,735.8 735.4,735.5 737.5,735.3 739.6,735.0 741.6,734.8 743.7,734.5 745.8,734.3 747.8,734.1 749.9,733.9 752.0,733.8 754.0,733.7 756.1,733.6 758.2,733.6 760.2,733.7 762.3,733.7 764.3,733.8 766.4,733.9 768.5,734.1 770.5,734.3 772.6,734.4 774.7,734.6 776.7,734.9 778.8,735.1 780.9,735.3 782.9,735.5 785.0,735.8 787.1,736.0 789.1,736.2 791.2,736.4 793.2,736.5 795.3,736.7 797.4,736.8 799.4,736.9 801.5,736.9 803.6,737.0 805.6,736.9 807.7,736.9 809.8,736.8 811.8,736.7 813.9,736.6 816.0,736.4 818.0,736.2 820.1,736.0 822.2,735.8 824.2,735.6 826.3,735.4 828.3,735.2 830.4,735.0 832.5,734.8 834.5,734.6 836.6,734.4 838.7,734.2 840.7,734.1 842.8,734.0 844.9,733.9 846.9,733.8 849.0,733.7 851.1,733.6 853.1,733.5 855.2,733.4 857.2,733.3 859.3,733.2 861.4,733.1 863.4,733.0 865.5,732.9 867.6,732.8 869.6,732.7 871.7,732.6 873.8,732.6 875.8,732.5 877.9,732.4 880.0,732.3 882.0,732.3 884.1,732.2 886.1,732.1 888.2,732.1 890.3,732.0 892.3,732.0 894.4,731.9 896.5,731.9 898.5,731.9 900.6,731.8 902.7,731.8 904.7,731.8 906.8,731.8 908.9,731.8 910.9,731.9 913.0,731.9 915.0,732.0 917.1,732.1 919.2,732.2 921.2,732.3 923.3,732.4" fill="none" stroke="#000" stroke-width="1.4" stroke-linejoin="round" />
</g>
<text x="142.3" y="576.5" font-size="28" fill="#000">β(t)</text>
<g clip-path="url(#cC)">
<polygon points="99.6,903.6 106.5,881.2 113.5,912.0 120.4,882.6 127.3,884.0 134.2,899.4 141.2,900.8 148.1,909.2 155.0,899.4 161.9,895.2 168.8,916.2 175.8,937.2 182.7,934.4 189.6,928.8 196.5,909.2 203.4,902.2 210.4,895.2 217.3,881.2 224.2,884.0 231.1,895.2 238.1,892.4 245.0,884.0 251.9,898.0 258.8,912.0 265.7,920.4 272.7,913.4 279.6,903.6 286.5,888.2 293.4,888.2 300.4,882.6 307.3,895.2 314.2,910.6 321.1,888.2 328.0,886.8 335.0,877.0 341.9,899.4 348.8,889.6 355.7,878.4 362.6,891.0 369.6,884.0 376.5,891.0 383.4,881.2 390.3,888.2 397.3,884.0 404.2,892.4 411.1,900.8 418.0,909.2 424.9,903.6 431.9,902.2 438.8,905.0 445.7,886.8 452.6,877.0 459.6,882.6 466.5,870.0 473.4,884.0 480.3,850.4 487.2,853.2 494.2,872.8 501.1,877.0 508.0,896.6 514.9,900.3 521.8,891.8 528.8,896.0 535.7,884.7 542.6,891.8 549.5,900.3 556.5,897.4 563.4,902.5 570.3,884.7 577.2,886.1 584.1,890.3 591.1,888.9 598.0,894.6 604.9,896.0 611.8,886.1 618.7,888.9 625.7,884.7 632.6,888.9 639.5,884.7 646.4,874.8 653.4,879.0 660.3,888.9 667.2,898.8 674.1,896.0 681.0,903.1 688.0,874.8 694.9,893.7 701.8,888.9 708.7,888.9 715.7,898.8 722.6,884.7 729.5,881.8 736.4,887.5 743.3,898.8 750.3,900.3 757.2,881.8 764.1,898.8 771.0,881.8 777.9,894.6 784.9,888.9 791.8,898.8 798.7,896.0 805.6,876.2 812.6,877.6 819.5,877.6 826.4,904.5 833.3,897.4 840.2,887.5 847.2,888.9 854.1,886.1 861.0,896.0 867.9,888.9 874.9,893.2 881.8,891.8 888.7,879.0 895.6,877.6 902.5,879.0 909.5,894.6 916.4,907.3 923.3,904.5 923.3,975.4 916.4,978.2 909.5,1003.7 902.5,992.4 895.6,995.2 888.7,1003.7 881.8,1005.1 874.9,998.0 867.9,982.4 861.0,975.4 854.1,998.0 847.2,982.4 840.2,975.4 833.3,978.2 826.4,971.1 819.5,981.0 812.6,975.4 805.6,989.5 798.7,976.8 791.8,989.5 784.9,981.0 777.9,986.7 771.0,976.8 764.1,972.5 757.2,966.8 750.3,969.7 743.3,981.0 736.4,990.9 729.5,982.4 722.6,986.7 715.7,976.8 708.7,986.7 701.8,981.0 694.9,992.4 688.0,986.7 681.0,982.4 674.1,992.4 667.2,982.4 660.3,986.7 653.4,995.2 646.4,1003.7 639.5,992.4 632.6,986.7 625.7,983.9 618.7,989.5 611.8,983.9 604.9,986.7 598.0,981.0 591.1,972.5 584.1,981.0 577.2,992.4 570.3,998.0 563.4,1003.7 556.5,1006.5 549.5,998.0 542.6,982.4 535.7,982.4 528.8,975.4 521.8,989.5 514.9,981.0 508.0,990.4 501.1,982.0 494.2,984.8 487.2,993.2 480.3,990.4 473.4,993.2 466.5,1007.2 459.6,984.8 452.6,986.2 445.7,990.4 438.8,984.8 431.9,973.6 424.9,969.4 418.0,965.2 411.1,982.0 404.2,1001.6 397.3,1012.8 390.3,984.8 383.4,969.4 376.5,986.2 369.6,984.8 362.6,984.8 355.7,973.6 348.8,979.2 341.9,979.2 335.0,987.6 328.0,996.0 321.1,1007.2 314.2,1019.8 307.3,1021.2 300.4,1010.0 293.4,994.6 286.5,982.0 279.6,990.4 272.7,1004.4 265.7,1024.0 258.8,998.8 251.9,1003.0 245.0,1012.8 238.1,1024.0 231.1,1012.8 224.2,980.6 217.3,970.8 210.4,973.6 203.4,1001.6 196.5,1007.2 189.6,1001.6 182.7,1010.0 175.8,1001.6 168.8,1012.8 161.9,1004.4 155.0,993.2 148.1,990.4 141.2,1021.2 134.2,1012.8 127.3,996.0 120.4,972.2 113.5,962.4 106.5,934.4 99.6,935.8" fill="#bfbfbf" />
<polygon points="99.6,903.6 106.5,882.6 113.5,912.0 120.4,893.8 127.3,902.2 134.2,909.2 141.2,923.2 148.1,909.2 155.0,901.4 161.9,895.2 168.8,920.4 175.8,937.2 182.7,938.6 189.6,934.4 196.5,927.4 203.4,912.0 210.4,906.4 217.3,899.4 224.2,891.8 231.1,895.2 238.1,903.6 245.0,899.4 251.9,898.0 258.8,912.0 265.7,926.0 272.7,919.0 279.6,914.8 286.5,909.2 293.4,912.0 300.4,905.8 307.3,905.8 314.2,910.6 321.1,900.8 328.0,893.0 335.0,896.6 341.9,905.0 348.8,912.0 355.7,912.0 362.6,908.6 369.6,905.8 376.5,896.6 383.4,907.8 390.3,910.6 397.3,909.2 404.2,917.6 411.1,914.8 418.0,909.2 424.9,909.2 431.9,914.8 438.8,923.2 445.7,907.8 452.6,899.4 459.6,896.6 466.5,896.6 473.4,895.2 480.3,893.8 487.2,891.0 494.2,896.6 501.1,903.6 508.0,898.0 514.9,914.4 521.8,913.0 528.8,918.1 535.7,910.2 542.6,904.5 549.5,910.2 556.5,907.3 563.4,902.5 570.3,910.2 577.2,898.8 584.1,890.3 591.1,905.9 598.0,914.4 604.9,918.7 611.8,914.4 618.7,910.2 625.7,897.4 632.6,904.5 639.5,897.4 646.4,894.6 653.4,893.2 660.3,888.9 667.2,898.8 674.1,913.0 681.0,918.7 688.0,910.2 694.9,893.7 701.8,905.9 708.7,903.1 715.7,908.8 722.6,911.6 729.5,891.8 736.4,896.0 743.3,901.7 750.3,908.8 757.2,908.8 764.1,904.5 771.0,903.1 777.9,905.9 784.9,897.4 791.8,908.8 798.7,911.6 805.6,893.2 812.6,890.3 819.5,904.5 826.4,915.8 833.3,920.1 840.2,913.0 847.2,908.8 854.1,904.5 861.0,902.2 867.9,901.1 874.9,903.1 881.8,897.4 888.7,897.4 895.6,888.9 902.5,896.0 909.5,905.9 916.4,907.3 923.3,904.5 923.3,975.4 916.4,973.9 909.5,976.8 902.5,979.6 895.6,983.9 888.7,988.1 881.8,983.9 874.9,982.4 867.9,975.4 861.0,969.7 854.1,968.3 847.2,965.4 840.2,966.8 833.3,966.8 826.4,964.0 819.5,972.5 812.6,973.9 805.6,981.0 798.7,976.8 791.8,982.4 784.9,976.8 777.9,981.0 771.0,976.8 764.1,972.5 757.2,966.8 750.3,965.4 743.3,972.5 736.4,983.9 729.5,981.0 722.6,982.4 715.7,976.8 708.7,981.0 701.8,972.5 694.9,989.5 688.0,986.7 681.0,979.6 674.1,973.9 667.2,976.8 660.3,982.4 653.4,983.9 646.4,985.3 639.5,986.7 632.6,976.8 625.7,983.9 618.7,982.4 611.8,983.9 604.9,975.4 598.0,981.0 591.1,972.5 584.1,972.5 577.2,968.3 570.3,975.4 563.4,979.6 556.5,989.5 549.5,983.9 542.6,978.2 535.7,969.7 528.8,962.6 521.8,979.6 514.9,972.5 508.0,973.6 501.1,982.0 494.2,980.6 487.2,987.6 480.3,980.6 473.4,983.4 466.5,984.8 459.6,976.4 452.6,982.0 445.7,976.4 438.8,969.4 431.9,963.8 424.9,965.2 418.0,965.2 411.1,979.2 404.2,982.0 397.3,980.6 390.3,975.0 383.4,966.6 376.5,983.4 369.6,976.4 362.6,975.0 355.7,973.6 348.8,972.2 341.9,976.4 335.0,979.2 328.0,983.4 321.1,989.0 314.2,983.4 307.3,980.6 300.4,975.0 293.4,970.8 286.5,962.4 279.6,969.4 272.7,975.0 265.7,980.6 258.8,982.0 251.9,986.2 245.0,990.4 238.1,997.4 231.1,987.6 224.2,973.6 217.3,965.2 210.4,968.0 203.4,976.4 196.5,984.8 189.6,987.6 182.7,989.0 175.8,998.8 168.8,990.4 161.9,983.4 155.0,972.2 148.1,990.4 141.2,1010.0 134.2,1001.6 127.3,976.4 120.4,965.2 113.5,940.0 106.5,910.6 99.6,924.6" fill="#8f8f8f" />
<line x1="92.7" y1="941.0" x2="923.3" y2="941.0" stroke="#000" stroke-width="1.3" stroke-dasharray="1.4 1.8"/>
<polyline points="99.6,919.0 106.5,909.2 113.5,936.7 120.4,930.8 127.3,941.4 134.2,938.1 141.2,949.8 148.1,956.3 155.0,945.1 161.9,940.6 168.8,954.9 175.8,958.2 182.7,960.5 189.6,963.3 196.5,954.0 203.4,949.3 210.4,952.1 217.3,927.4 224.2,924.1 231.1,935.3 238.1,939.2 245.0,938.6 251.9,946.5 258.8,946.2 265.7,944.8 272.7,947.0 279.6,942.0 286.5,936.7 293.4,949.8 300.4,933.6 307.3,933.0 314.2,945.6 321.1,944.2 328.0,937.2 335.0,938.1 341.9,935.3 348.8,939.5 355.7,937.2 362.6,933.6 369.6,940.0 376.5,951.2 383.4,938.6 390.3,937.2 397.3,945.1 404.2,947.6 411.1,933.0 418.0,937.2 424.9,941.4 431.9,941.4 438.8,940.6 445.7,935.3 452.6,941.4 459.6,948.4 466.5,939.5 473.4,940.0 480.3,948.4 487.2,947.0 494.2,938.1 501.1,940.0 508.0,937.2 514.9,941.9 521.8,941.9 528.8,932.8 535.7,937.1 542.6,944.2 549.5,932.8 556.5,936.5 563.4,940.5 570.3,945.6 577.2,943.6 584.1,942.2 591.1,940.5 598.0,937.9 604.9,941.3 611.8,937.1 618.7,939.1 625.7,947.9 632.6,938.5 639.5,930.6 646.4,934.3 653.4,945.6 660.3,937.9 667.2,938.5 674.1,940.5 681.0,942.8 688.0,944.2 694.9,937.9 701.8,935.1 708.7,956.9 715.7,939.9 722.6,932.8 729.5,947.9 736.4,949.3 743.3,947.0 750.3,942.8 757.2,933.4 764.1,937.1 771.0,941.3 777.9,933.4 784.9,933.4 791.8,947.6 798.7,935.7 805.6,939.1 812.6,946.4 819.5,952.7 826.4,945.6 833.3,939.1 840.2,935.7 847.2,939.9 854.1,942.8 861.0,933.7 867.9,939.9 874.9,951.3 881.8,939.9 888.7,930.6 895.6,935.7 902.5,937.9 909.5,938.5 916.4,940.8 923.3,937.1" fill="none" stroke="#000" stroke-width="1.4" stroke-linejoin="round" />
</g>
<text x="140.5" y="870.6" font-size="28" fill="#000">r<tspan font-size="21.3" dy="12.9">j</tspan><tspan dy="-12.9">(t)</tspan></text>
<rect x="92.7" y="50" width="830.6" height="471.4" fill="none" stroke="#262626" stroke-width="1.3"/>
<line x1="99.6" y1="50" x2="99.6" y2="59" stroke="#262626" stroke-width="1.3"/>
<line x1="99.6" y1="521.4" x2="99.6" y2="512.4" stroke="#262626" stroke-width="1.3"/>
<line x1="182.7" y1="50" x2="182.7" y2="59" stroke="#262626" stroke-width="1.3"/>
<line x1="182.7" y1="521.4" x2="182.7" y2="512.4" stroke="#262626" stroke-width="1.3"/>
<line x1="265.7" y1="50" x2="265.7" y2="59" stroke="#262626" stroke-width="1.3"/>
<line x1="265.7" y1="521.4" x2="265.7" y2="512.4" stroke="#262626" stroke-width="1.3"/>
<line x1="348.8" y1="50" x2="348.8" y2="59" stroke="#262626" stroke-width="1.3"/>
<line x1="348.8" y1="521.4" x2="348.8" y2="512.4" stroke="#262626" stroke-width="1.3"/>
<line x1="431.9" y1="50" x2="431.9" y2="59" stroke="#262626" stroke-width="1.3"/>
<line x1="431.9" y1="521.4" x2="431.9" y2="512.4" stroke="#262626" stroke-width="1.3"/>
<line x1="514.9" y1="50" x2="514.9" y2="59" stroke="#262626" stroke-width="1.3"/>
<line x1="514.9" y1="521.4" x2="514.9" y2="512.4" stroke="#262626" stroke-width="1.3"/>
<line x1="598.0" y1="50" x2="598.0" y2="59" stroke="#262626" stroke-width="1.3"/>
<line x1="598.0" y1="521.4" x2="598.0" y2="512.4" stroke="#262626" stroke-width="1.3"/>
<line x1="681.0" y1="50" x2="681.0" y2="59" stroke="#262626" stroke-width="1.3"/>
<line x1="681.0" y1="521.4" x2="681.0" y2="512.4" stroke="#262626" stroke-width="1.3"/>
<line x1="764.1" y1="50" x2="764.1" y2="59" stroke="#262626" stroke-width="1.3"/>
<line x1="764.1" y1="521.4" x2="764.1" y2="512.4" stroke="#262626" stroke-width="1.3"/>
<line x1="847.2" y1="50" x2="847.2" y2="59" stroke="#262626" stroke-width="1.3"/>
<line x1="847.2" y1="521.4" x2="847.2" y2="512.4" stroke="#262626" stroke-width="1.3"/>
<rect x="92.7" y="523.3" width="830.6" height="302.2" fill="none" stroke="#262626" stroke-width="1.3"/>
<line x1="99.6" y1="523.3" x2="99.6" y2="532.3" stroke="#262626" stroke-width="1.3"/>
<line x1="99.6" y1="825.5" x2="99.6" y2="816.5" stroke="#262626" stroke-width="1.3"/>
<line x1="182.7" y1="523.3" x2="182.7" y2="532.3" stroke="#262626" stroke-width="1.3"/>
<line x1="182.7" y1="825.5" x2="182.7" y2="816.5" stroke="#262626" stroke-width="1.3"/>
<line x1="265.7" y1="523.3" x2="265.7" y2="532.3" stroke="#262626" stroke-width="1.3"/>
<line x1="265.7" y1="825.5" x2="265.7" y2="816.5" stroke="#262626" stroke-width="1.3"/>
<line x1="348.8" y1="523.3" x2="348.8" y2="532.3" stroke="#262626" stroke-width="1.3"/>
<line x1="348.8" y1="825.5" x2="348.8" y2="816.5" stroke="#262626" stroke-width="1.3"/>
<line x1="431.9" y1="523.3" x2="431.9" y2="532.3" stroke="#262626" stroke-width="1.3"/>
<line x1="431.9" y1="825.5" x2="431.9" y2="816.5" stroke="#262626" stroke-width="1.3"/>
<line x1="514.9" y1="523.3" x2="514.9" y2="532.3" stroke="#262626" stroke-width="1.3"/>
<line x1="514.9" y1="825.5" x2="514.9" y2="816.5" stroke="#262626" stroke-width="1.3"/>
<line x1="598.0" y1="523.3" x2="598.0" y2="532.3" stroke="#262626" stroke-width="1.3"/>
<line x1="598.0" y1="825.5" x2="598.0" y2="816.5" stroke="#262626" stroke-width="1.3"/>
<line x1="681.0" y1="523.3" x2="681.0" y2="532.3" stroke="#262626" stroke-width="1.3"/>
<line x1="681.0" y1="825.5" x2="681.0" y2="816.5" stroke="#262626" stroke-width="1.3"/>
<line x1="764.1" y1="523.3" x2="764.1" y2="532.3" stroke="#262626" stroke-width="1.3"/>
<line x1="764.1" y1="825.5" x2="764.1" y2="816.5" stroke="#262626" stroke-width="1.3"/>
<line x1="847.2" y1="523.3" x2="847.2" y2="532.3" stroke="#262626" stroke-width="1.3"/>
<line x1="847.2" y1="825.5" x2="847.2" y2="816.5" stroke="#262626" stroke-width="1.3"/>
<rect x="92.7" y="829" width="830.6" height="223.9" fill="none" stroke="#262626" stroke-width="1.3"/>
<line x1="99.6" y1="829" x2="99.6" y2="838" stroke="#262626" stroke-width="1.3"/>
<line x1="99.6" y1="1052.9" x2="99.6" y2="1043.9" stroke="#262626" stroke-width="1.3"/>
<line x1="182.7" y1="829" x2="182.7" y2="838" stroke="#262626" stroke-width="1.3"/>
<line x1="182.7" y1="1052.9" x2="182.7" y2="1043.9" stroke="#262626" stroke-width="1.3"/>
<line x1="265.7" y1="829" x2="265.7" y2="838" stroke="#262626" stroke-width="1.3"/>
<line x1="265.7" y1="1052.9" x2="265.7" y2="1043.9" stroke="#262626" stroke-width="1.3"/>
<line x1="348.8" y1="829" x2="348.8" y2="838" stroke="#262626" stroke-width="1.3"/>
<line x1="348.8" y1="1052.9" x2="348.8" y2="1043.9" stroke="#262626" stroke-width="1.3"/>
<line x1="431.9" y1="829" x2="431.9" y2="838" stroke="#262626" stroke-width="1.3"/>
<line x1="431.9" y1="1052.9" x2="431.9" y2="1043.9" stroke="#262626" stroke-width="1.3"/>
<line x1="514.9" y1="829" x2="514.9" y2="838" stroke="#262626" stroke-width="1.3"/>
<line x1="514.9" y1="1052.9" x2="514.9" y2="1043.9" stroke="#262626" stroke-width="1.3"/>
<line x1="598.0" y1="829" x2="598.0" y2="838" stroke="#262626" stroke-width="1.3"/>
<line x1="598.0" y1="1052.9" x2="598.0" y2="1043.9" stroke="#262626" stroke-width="1.3"/>
<line x1="681.0" y1="829" x2="681.0" y2="838" stroke="#262626" stroke-width="1.3"/>
<line x1="681.0" y1="1052.9" x2="681.0" y2="1043.9" stroke="#262626" stroke-width="1.3"/>
<line x1="764.1" y1="829" x2="764.1" y2="838" stroke="#262626" stroke-width="1.3"/>
<line x1="764.1" y1="1052.9" x2="764.1" y2="1043.9" stroke="#262626" stroke-width="1.3"/>
<line x1="847.2" y1="829" x2="847.2" y2="838" stroke="#262626" stroke-width="1.3"/>
<line x1="847.2" y1="1052.9" x2="847.2" y2="1043.9" stroke="#262626" stroke-width="1.3"/>
<line x1="92.7" y1="447.0" x2="101.7" y2="447.0" stroke="#262626" stroke-width="1.3"/>
<line x1="923.3" y1="447.0" x2="914.3" y2="447.0" stroke="#262626" stroke-width="1.3"/>
<text x="80.3" y="457.4" font-size="28.3" text-anchor="end" fill="#000" >0</text>
<line x1="92.7" y1="347.7" x2="101.7" y2="347.7" stroke="#262626" stroke-width="1.3"/>
<line x1="923.3" y1="347.7" x2="914.3" y2="347.7" stroke="#262626" stroke-width="1.3"/>
<text x="80.3" y="358.1" font-size="28.3" text-anchor="end" fill="#000" >2</text>
<line x1="92.7" y1="248.5" x2="101.7" y2="248.5" stroke="#262626" stroke-width="1.3"/>
<line x1="923.3" y1="248.5" x2="914.3" y2="248.5" stroke="#262626" stroke-width="1.3"/>
<text x="80.3" y="258.9" font-size="28.3" text-anchor="end" fill="#000" >4</text>
<line x1="92.7" y1="149.2" x2="101.7" y2="149.2" stroke="#262626" stroke-width="1.3"/>
<line x1="923.3" y1="149.2" x2="914.3" y2="149.2" stroke="#262626" stroke-width="1.3"/>
<text x="80.3" y="159.6" font-size="28.3" text-anchor="end" fill="#000" >6</text>
<text x="80.3" y="60.4" font-size="28.3" text-anchor="end" fill="#000" >8</text>
<line x1="92.7" y1="795.3" x2="101.7" y2="795.3" stroke="#262626" stroke-width="1.3"/>
<line x1="923.3" y1="795.3" x2="914.3" y2="795.3" stroke="#262626" stroke-width="1.3"/>
<text x="80.3" y="805.7" font-size="28.3" text-anchor="end" fill="#000" >-0.2</text>
<line x1="92.7" y1="734.8" x2="101.7" y2="734.8" stroke="#262626" stroke-width="1.3"/>
<line x1="923.3" y1="734.8" x2="914.3" y2="734.8" stroke="#262626" stroke-width="1.3"/>
<text x="80.3" y="745.2" font-size="28.3" text-anchor="end" fill="#000" >0</text>
<line x1="92.7" y1="674.4" x2="101.7" y2="674.4" stroke="#262626" stroke-width="1.3"/>
<line x1="923.3" y1="674.4" x2="914.3" y2="674.4" stroke="#262626" stroke-width="1.3"/>
<text x="80.3" y="684.8" font-size="28.3" text-anchor="end" fill="#000" >0.2</text>
<line x1="92.7" y1="614.0" x2="101.7" y2="614.0" stroke="#262626" stroke-width="1.3"/>
<line x1="923.3" y1="614.0" x2="914.3" y2="614.0" stroke="#262626" stroke-width="1.3"/>
<text x="80.3" y="624.4" font-size="28.3" text-anchor="end" fill="#000" >0.4</text>
<line x1="92.7" y1="553.5" x2="101.7" y2="553.5" stroke="#262626" stroke-width="1.3"/>
<line x1="923.3" y1="553.5" x2="914.3" y2="553.5" stroke="#262626" stroke-width="1.3"/>
<text x="80.3" y="563.9" font-size="28.3" text-anchor="end" fill="#000" >0.6</text>
<text x="80.3" y="1063.3" font-size="28.3" text-anchor="end" fill="#000" >-5</text>
<line x1="92.7" y1="941.0" x2="101.7" y2="941.0" stroke="#262626" stroke-width="1.3"/>
<line x1="923.3" y1="941.0" x2="914.3" y2="941.0" stroke="#262626" stroke-width="1.3"/>
<text x="80.3" y="951.4" font-size="28.3" text-anchor="end" fill="#000" >0</text>
<text x="80.3" y="839.4" font-size="28.3" text-anchor="end" fill="#000" >5</text>
<text x="100.1" y="1092.3" font-size="27" text-anchor="middle" fill="#000" >J1</text>
<text x="183.2" y="1092.3" font-size="27" text-anchor="middle" fill="#000" >J2</text>
<text x="266.2" y="1092.3" font-size="27" text-anchor="middle" fill="#000" >J3</text>
<text x="349.3" y="1092.3" font-size="27" text-anchor="middle" fill="#000" >J4</text>
<text x="432.4" y="1092.3" font-size="27" text-anchor="middle" fill="#000" >J5</text>
<text x="515.4" y="1092.3" font-size="27" text-anchor="middle" fill="#000" >J6</text>
<text x="598.5" y="1092.3" font-size="27" text-anchor="middle" fill="#000" >J7</text>
<text x="681.5" y="1092.3" font-size="27" text-anchor="middle" fill="#000" >J8</text>
<text x="764.6" y="1092.3" font-size="27" text-anchor="middle" fill="#000" >J9</text>
<text x="847.7" y="1092.3" font-size="27" text-anchor="middle" fill="#000" >J10</text>
<text x="507.5" y="1132.0" font-size="30.6" text-anchor="middle" fill="#000" >hindcast time</text>
<text transform="translate(50.3,285.5) rotate(-90)" font-size="31" text-anchor="middle" fill="#000">°C</text>
<text transform="translate(25.3,674) rotate(-90)" font-size="31" text-anchor="middle" fill="#000">°C</text>
<text transform="translate(41.2,940) rotate(-90)" font-size="31" text-anchor="middle" fill="#000">°C</text>
<text x="114.5" y="28" font-size="30.2" font-weight="bold" fill="#000">a) Structural decomposition of hindcast errors, SST<tspan font-size="22" dy="14.5" >ABF</tspan></text>
<path d="M1063.5,84.1V201.0M1064.5,93.2V212.2M1065.5,114.2V218.0M1066.5,116.7V199.1M1067.5,110.5V223.8M1068.5,72.9V215.2M1069.5,102.9V216.5M1070.5,90.3V220.6M1071.5,104.6V219.6M1072.5,98.2V239.9M1073.5,99.3V227.1M1074.5,93.1V225.7M1075.5,98.0V217.0M1076.5,83.6V222.8M1077.5,94.5V224.3M1078.5,66.9V220.5M1079.5,91.3V237.0M1080.5,102.0V223.7M1081.5,100.5V224.8M1082.5,99.8V208.2M1083.5,97.5V203.0M1084.5,113.8V233.6M1085.5,78.4V214.7M1086.5,91.0V211.7M1087.5,94.9V207.8M1088.5,104.5V189.8M1089.5,65.2V228.7M1090.5,79.3V231.6M1091.5,77.4V195.4M1092.5,114.6V228.6M1093.5,92.4V216.1M1094.5,117.7V206.3M1095.5,80.3V201.8M1096.5,99.4V228.4M1097.5,98.7V225.6M1098.5,61.8V217.4M1099.5,106.6V228.6M1100.5,99.8V217.2M1101.5,98.7V239.4M1102.5,79.6V204.6M1103.5,107.9V211.4M1104.5,95.4V233.0M1105.5,105.5V210.1M1106.5,99.9V225.9M1107.5,100.6V203.1M1108.5,114.5V247.4M1109.5,107.5V185.0M1110.5,85.6V221.0M1111.5,95.6V208.4M1112.5,99.9V212.8M1113.5,82.6V208.9M1114.5,86.8V219.2M1115.5,115.2V231.9M1116.5,99.4V209.4M1117.5,98.1V213.3M1118.5,106.6V231.8M1119.5,101.4V242.9M1120.5,97.2V219.9M1121.5,111.1V229.3M1122.5,108.1V236.3M1123.5,108.8V210.8M1124.5,100.2V215.8M1125.5,65.2V198.1M1126.5,94.4V207.7M1127.5,103.9V220.2M1128.5,93.3V228.6M1129.5,97.3V237.3M1130.5,118.8V206.5M1131.5,94.0V213.0M1132.5,95.8V220.3M1133.5,102.3V218.1M1134.5,95.3V203.4M1135.5,100.8V198.7M1136.5,63.5V229.8M1137.5,64.4V211.6M1138.5,106.1V205.9M1139.5,87.9V213.4M1140.5,84.1V227.5M1141.5,96.5V213.9M1142.5,75.8V215.1M1143.5,78.5V207.8M1144.5,121.3V222.8M1145.5,95.9V217.9M1146.5,110.0V219.2M1147.5,95.2V215.8M1148.5,93.6V205.7M1149.5,89.2V217.1M1150.5,61.8V202.2M1151.5,100.8V222.5M1152.5,83.4V201.2M1153.5,97.0V205.7M1154.5,99.9V213.0M1155.5,118.7V215.6M1156.5,102.5V209.4M1157.5,104.1V199.8M1158.5,81.9V199.2M1159.5,108.4V227.1M1160.5,104.3V236.9M1161.5,93.9V209.2M1162.5,106.2V202.7M1163.5,102.6V211.6M1164.5,110.3V236.0M1165.5,111.4V213.5M1166.5,89.5V222.6M1167.5,99.8V217.5M1168.5,101.5V238.0M1169.5,105.0V208.7M1170.5,98.2V230.0M1171.5,111.9V219.5M1172.5,79.1V217.1M1173.5,116.8V230.3M1174.5,112.7V216.0M1175.5,111.4V216.8M1176.5,94.9V212.0M1177.5,106.6V265.4M1178.5,51.8V214.7M1179.5,102.7V212.6M1180.5,82.9V206.8M1181.5,79.5V217.0M1182.5,86.9V219.9M1183.5,108.1V214.6M1184.5,94.4V221.6M1185.5,107.2V202.0M1186.5,112.0V208.0M1187.5,110.0V205.1M1188.5,112.9V216.3M1189.5,105.1V201.1M1190.5,61.8V213.5M1191.5,90.4V249.1M1192.5,102.7V221.2M1193.5,106.9V202.6M1194.5,103.7V221.5M1195.5,98.7V228.5M1196.5,100.0V196.0M1197.5,81.8V203.6M1198.5,116.0V228.7M1199.5,105.0V237.5M1200.5,108.8V222.8M1201.5,75.1V209.0M1202.5,129.1V217.3M1203.5,77.8V203.6M1204.5,88.5V225.7M1205.5,93.0V202.8M1206.5,66.9V212.5M1207.5,100.7V202.0M1208.5,98.6V219.2M1209.5,72.7V230.1M1210.5,129.2V220.7M1211.5,112.5V212.7M1212.5,89.7V209.6M1213.5,103.3V223.8M1214.5,103.4V245.4M1215.5,91.3V221.5M1216.5,109.6V229.6M1217.5,106.3V220.9M1218.5,103.5V203.2M1219.5,105.0V220.8M1220.5,83.4V206.4M1221.5,116.0V217.4M1222.5,90.1V215.3M1223.5,102.1V221.9M1224.5,66.9V198.9M1225.5,114.2V243.6M1226.5,86.5V216.5M1227.5,98.2V220.5M1228.5,80.4V226.8M1229.5,101.4V205.6M1230.5,110.0V204.6M1231.5,114.0V203.8M1232.5,112.3V219.5M1233.5,91.8V224.1M1234.5,80.1V216.9M1235.5,93.2V218.4M1236.5,102.4V196.9M1237.5,102.5V248.5" stroke="#000" stroke-width="1" fill="none"/>
<path d="M1063.5,641.6V648.6M1064.5,635.0V649.4M1065.5,623.7V649.9M1066.5,635.8V652.3M1067.5,640.9V651.9M1068.5,635.3V650.7M1069.5,643.7V650.7M1070.5,622.0V650.8M1071.5,470.6V649.9M1072.5,641.4V650.5M1073.5,645.2V651.2M1074.5,641.2V650.9M1075.5,643.6V649.6M1076.5,643.9V651.8M1077.5,643.2V650.5M1078.5,630.6V648.8M1079.5,639.3V649.3M1080.5,622.0V649.8M1081.5,640.1V649.8M1082.5,635.1V652.4M1083.5,627.0V652.1M1084.5,626.7V649.2M1085.5,638.9V649.1M1086.5,643.1V650.7M1087.5,642.0V651.8M1088.5,645.2V652.4M1089.5,643.1V651.1M1090.5,639.4V650.1M1091.5,638.9V650.7M1092.5,618.7V650.0M1093.5,627.7V652.6M1094.5,641.7V652.1M1095.5,638.3V649.9M1096.5,642.0V650.7M1097.5,643.5V650.3M1098.5,619.2V648.8M1099.5,630.0V651.8M1100.5,629.9V649.9M1101.5,642.2V651.4M1102.5,643.1V651.3M1103.5,632.1V649.9M1104.5,645.2V651.5M1105.5,633.0V651.1M1106.5,637.6V647.7M1107.5,640.5V649.3M1108.5,636.1V650.3M1109.5,640.2V650.0M1110.5,641.1V651.0M1111.5,607.0V651.3M1112.5,643.1V650.5M1113.5,640.5V651.0M1114.5,637.1V649.5M1115.5,643.3V650.7M1116.5,642.9V650.5M1117.5,640.2V650.2M1118.5,637.5V650.1M1119.5,643.6V651.2M1120.5,627.6V651.1M1121.5,640.3V648.1M1122.5,642.1V650.5M1123.5,627.0V648.8M1124.5,644.4V650.6M1125.5,555.1V650.7M1126.5,634.5V651.8M1127.5,607.0V650.5M1128.5,633.2V651.6M1129.5,632.3V652.3M1130.5,641.1V650.6M1131.5,617.0V651.3M1132.5,644.5V650.6M1133.5,630.1V649.2M1134.5,637.0V650.5M1135.5,644.2V650.2M1136.5,631.9V649.5M1137.5,633.5V650.9M1138.5,627.5V651.3M1139.5,632.1V649.9M1140.5,625.2V650.6M1141.5,639.9V649.2M1142.5,643.6V650.6M1143.5,643.2V651.6M1144.5,629.4V651.0M1145.5,644.0V650.2M1146.5,625.4V651.5M1147.5,639.9V651.2M1148.5,643.2V650.7M1149.5,643.3V649.7M1150.5,642.1V649.5M1151.5,635.8V649.6M1152.5,624.6V649.4M1153.5,643.8V651.6M1154.5,629.8V650.6M1155.5,598.6V650.6M1156.5,638.4V650.9M1157.5,643.4V650.5M1158.5,645.3V651.1M1159.5,587.2V650.9M1160.5,628.1V649.1M1161.5,633.7V651.3M1162.5,635.4V650.2M1163.5,641.5V651.9M1164.5,639.1V651.3M1165.5,624.3V648.3M1166.5,595.3V649.4M1167.5,641.1V647.9M1168.5,627.3V649.3M1169.5,636.9V649.4M1170.5,623.4V650.8M1171.5,634.4V651.2M1172.5,640.7V650.7M1173.5,631.5V652.0M1174.5,627.0V649.0M1175.5,631.7V650.4M1176.5,642.6V651.2M1177.5,626.0V651.7M1178.5,627.7V649.1M1179.5,638.6V650.8M1180.5,641.2V649.4M1181.5,614.7V650.0M1182.5,636.8V650.8M1183.5,633.7V650.2M1184.5,641.0V648.9M1185.5,642.6V651.0M1186.5,637.1V650.3M1187.5,643.1V651.9M1188.5,643.8V651.2M1189.5,645.4V651.5M1190.5,638.7V652.2M1191.5,626.0V649.3M1192.5,637.7V650.8M1193.5,645.2V651.2M1194.5,636.4V650.5M1195.5,628.7V650.3M1196.5,640.9V650.3M1197.5,643.5V651.9M1198.5,643.9V651.1M1199.5,644.1V651.0M1200.5,640.6V649.7M1201.5,636.0V647.8M1202.5,638.0V649.3M1203.5,607.5V649.4M1204.5,639.3V649.2M1205.5,608.6V652.0M1206.5,625.2V649.0M1207.5,513.5V648.3M1208.5,643.5V651.2M1209.5,624.7V649.9M1210.5,640.1V650.3M1211.5,594.1V650.2M1212.5,644.7V651.3M1213.5,633.5V650.1M1214.5,634.7V649.0M1215.5,635.2V648.1M1216.5,618.7V646.0M1217.5,634.6V651.0M1218.5,640.1V652.6M1219.5,646.3V652.8M1220.5,642.5V652.6M1221.5,639.9V650.8M1222.5,642.7V650.5M1223.5,624.6V651.7M1224.5,627.5V650.9M1225.5,530.2V650.4M1226.5,607.6V651.2M1227.5,644.4V651.4M1228.5,622.0V652.1M1229.5,642.2V650.1M1230.5,642.7V651.9M1231.5,628.7V652.4M1232.5,639.1V650.1M1233.5,631.9V650.0M1234.5,636.6V650.8M1235.5,641.8V650.4M1236.5,626.6V650.0M1237.5,644.0V651.6" stroke="#000" stroke-width="1" fill="none"/>
<polyline points="1063.2,923.8 1063.3,943.4 1063.4,942.3 1063.5,924.9 1063.5,944.5 1063.6,912.4 1063.7,943.2 1063.8,928.8 1063.9,933.0 1064.0,922.8 1064.1,960.2 1064.2,937.8 1064.2,944.5 1064.3,955.1 1064.4,946.6 1064.5,953.4 1064.6,926.5 1064.7,962.2 1064.8,931.5 1064.9,893.7 1064.9,924.6 1065.0,930.4 1065.1,934.7 1065.2,923.1 1065.3,924.1 1065.4,943.6 1065.5,924.9 1065.6,927.4 1065.6,944.4 1065.7,929.7 1065.8,920.7 1065.9,935.4 1066.0,902.6 1066.1,939.9 1066.2,954.5 1066.3,892.3 1066.3,954.9 1066.4,969.5 1066.5,940.0 1066.6,939.0 1066.7,934.4 1066.8,957.3 1066.9,960.1 1066.9,963.0 1067.0,953.1 1067.1,950.2 1067.2,923.2 1067.3,929.6 1067.4,913.5 1067.5,925.5 1067.6,957.8 1067.6,934.5 1067.7,960.7 1067.8,931.9 1067.9,910.1 1068.0,939.1 1068.1,901.4 1068.2,904.3 1068.3,923.4 1068.3,926.2 1068.4,933.3 1068.5,901.6 1068.6,920.1 1068.7,898.5 1068.8,896.4 1068.9,931.4 1069.0,922.3 1069.0,928.4 1069.1,885.1 1069.2,926.7 1069.3,931.2 1069.4,929.9 1069.5,952.9 1069.6,945.6 1069.6,933.3 1069.7,959.1 1069.8,923.5 1069.9,946.7 1070.0,897.0 1070.1,899.6 1070.2,919.8 1070.3,921.3 1070.3,954.3 1070.4,963.0 1070.5,915.7 1070.6,915.1 1070.7,934.9 1070.8,937.2 1070.9,904.3 1071.0,901.5 1071.0,930.0 1071.1,944.5 1071.2,922.1 1071.3,926.4 1071.4,922.4 1071.5,928.1 1071.6,935.0 1071.7,890.5 1071.7,898.5 1071.8,834.4 1071.9,912.3 1072.0,911.7 1072.1,955.8 1072.2,943.4 1072.3,926.1 1072.4,909.3 1072.4,925.4 1072.5,912.8 1072.6,946.8 1072.7,994.5 1072.8,878.3 1072.9,927.5 1073.0,930.3 1073.0,867.6 1073.1,923.9 1073.2,933.8 1073.3,906.9 1073.4,957.2 1073.5,970.9 1073.6,964.2 1073.7,888.6 1073.7,948.4 1073.8,947.1 1073.9,929.3 1074.0,956.3 1074.1,953.9 1074.2,942.9 1074.3,902.5 1074.4,933.9 1074.4,903.4 1074.5,931.4 1074.6,923.1 1074.7,910.1 1074.8,943.6 1074.9,925.7 1075.0,910.2 1075.1,880.0 1075.1,910.2 1075.2,889.1 1075.3,891.8 1075.4,924.9 1075.5,911.2 1075.6,924.2 1075.7,888.3 1075.7,941.4 1075.8,904.9 1075.9,926.4 1076.0,913.7 1076.1,910.9 1076.2,952.8 1076.3,951.1 1076.4,947.8 1076.4,898.4 1076.5,934.9 1076.6,916.5 1076.7,893.7 1076.8,906.3 1076.9,950.6 1077.0,952.8 1077.1,934.4 1077.1,932.7 1077.2,943.7 1077.3,924.1 1077.4,927.8 1077.5,920.6 1077.6,889.3 1077.7,928.0 1077.8,925.2 1077.8,952.4 1077.9,945.8 1078.0,928.8 1078.1,861.8 1078.2,909.3 1078.3,912.1 1078.4,936.4 1078.5,939.3 1078.5,935.1 1078.6,930.3 1078.7,935.5 1078.8,907.3 1078.9,923.1 1079.0,940.4 1079.1,888.2 1079.1,944.4 1079.2,915.4 1079.3,914.2 1079.4,925.7 1079.5,935.5 1079.6,943.3 1079.7,955.9 1079.8,924.3 1079.8,880.9 1079.9,941.2 1080.0,948.7 1080.1,938.7 1080.2,931.7 1080.3,912.4 1080.4,937.0 1080.5,958.7 1080.5,940.5 1080.6,942.9 1080.7,935.0 1080.8,950.7 1080.9,937.1 1081.0,905.9 1081.1,922.2 1081.2,903.9 1081.2,946.5 1081.3,915.5 1081.4,935.6 1081.5,927.6 1081.6,954.1 1081.7,923.4 1081.8,932.8 1081.8,912.6 1081.9,919.4 1082.0,944.0 1082.1,912.1 1082.2,892.0 1082.3,915.0 1082.4,932.0 1082.5,917.5 1082.5,919.1 1082.6,941.1 1082.7,953.7 1082.8,924.4 1082.9,941.5 1083.0,949.0 1083.1,935.1 1083.2,930.7 1083.2,946.6 1083.3,946.7 1083.4,935.4 1083.5,971.6 1083.6,957.4 1083.7,959.6 1083.8,929.2 1083.9,935.0 1083.9,921.5 1084.0,915.6 1084.1,943.1 1084.2,912.8 1084.3,926.8 1084.4,926.1 1084.5,956.1 1084.6,945.2 1084.6,926.1 1084.7,937.8 1084.8,909.7 1084.9,941.0 1085.0,947.8 1085.1,954.5 1085.2,957.4 1085.2,972.5 1085.3,963.4 1085.4,912.1 1085.5,913.6 1085.6,933.4 1085.7,899.3 1085.8,932.5 1085.9,944.2 1085.9,948.8 1086.0,918.3 1086.1,915.9 1086.2,931.5 1086.3,936.1 1086.4,941.2 1086.5,924.7 1086.6,913.9 1086.6,909.5 1086.7,908.7 1086.8,912.9 1086.9,936.7 1087.0,950.0 1087.1,951.4 1087.2,949.3 1087.3,890.6 1087.3,909.4 1087.4,897.7 1087.5,840.9 1087.6,910.2 1087.7,922.1 1087.8,901.4 1087.9,947.0 1087.9,904.3 1088.0,912.9 1088.1,938.1 1088.2,924.3 1088.3,944.5 1088.4,917.8 1088.5,900.2 1088.6,929.3 1088.6,937.4 1088.7,930.1 1088.8,931.6 1088.9,904.0 1089.0,935.4 1089.1,940.1 1089.2,938.8 1089.3,907.4 1089.3,888.1 1089.4,878.2 1089.5,942.8 1089.6,883.5 1089.7,961.8 1089.8,940.3 1089.9,932.4 1090.0,928.7 1090.0,865.8 1090.1,876.9 1090.2,881.5 1090.3,929.9 1090.4,868.4 1090.5,932.6 1090.6,915.3 1090.7,884.7 1090.7,896.2 1090.8,909.1 1090.9,904.3 1091.0,939.1 1091.1,916.4 1091.2,923.6 1091.3,902.9 1091.3,924.4 1091.4,904.3 1091.5,939.7 1091.6,911.1 1091.7,892.7 1091.8,938.3 1091.9,945.1 1092.0,954.5 1092.0,941.8 1092.1,963.2 1092.2,945.9 1092.3,947.4 1092.4,930.5 1092.5,931.5 1092.6,874.1 1092.7,896.3 1092.7,912.9 1092.8,912.5 1092.9,899.2 1093.0,911.8 1093.1,933.4 1093.2,906.5 1093.3,904.7 1093.4,956.8 1093.4,951.8 1093.5,932.2 1093.6,892.8 1093.7,889.6 1093.8,912.5 1093.9,917.1 1094.0,907.0 1094.0,921.9 1094.1,902.4 1094.2,938.3 1094.3,918.2 1094.4,944.2 1094.5,943.8 1094.6,933.8 1094.7,903.9 1094.7,960.0 1094.8,920.3 1094.9,942.3 1095.0,932.8 1095.1,887.5 1095.2,929.4 1095.3,964.2 1095.4,911.7 1095.4,926.1 1095.5,931.5 1095.6,916.7 1095.7,944.1 1095.8,951.1 1095.9,958.8 1096.0,941.6 1096.1,946.3 1096.1,937.8 1096.2,792.8 1096.3,941.7 1096.4,941.5 1096.5,928.3 1096.6,956.3 1096.7,905.2 1096.8,872.8 1096.8,914.7 1096.9,908.0 1097.0,908.5 1097.1,948.4 1097.2,946.9 1097.3,933.2 1097.4,940.4 1097.4,897.0 1097.5,911.7 1097.6,917.1 1097.7,948.5 1097.8,957.6 1097.9,949.9 1098.0,911.3 1098.1,947.5 1098.1,940.2 1098.2,925.2 1098.3,940.5 1098.4,947.9 1098.5,945.1 1098.6,953.7 1098.7,971.4 1098.8,967.6 1098.8,809.3 1098.9,954.3 1099.0,921.9 1099.1,960.1 1099.2,947.9 1099.3,957.0 1099.4,956.2 1099.5,930.4 1099.5,943.1 1099.6,934.1 1099.7,969.1 1099.8,967.0 1099.9,924.6 1100.0,914.9 1100.1,935.6 1100.1,934.3 1100.2,928.8 1100.3,929.7 1100.4,931.1 1100.5,929.2 1100.6,924.5 1100.7,892.4 1100.8,927.8 1100.8,963.7 1100.9,935.1 1101.0,889.8 1101.1,861.8 1101.2,906.0 1101.3,911.0 1101.4,844.6 1101.5,939.6 1101.5,924.7 1101.6,920.3 1101.7,943.1 1101.8,925.4 1101.9,926.7 1102.0,945.5 1102.1,938.5 1102.2,876.1 1102.2,913.2 1102.3,930.9 1102.4,898.9 1102.5,913.4 1102.6,909.1 1102.7,908.3 1102.8,925.9 1102.9,911.8 1102.9,940.0 1103.0,923.6 1103.1,938.4 1103.2,886.6 1103.3,887.3 1103.4,871.0 1103.5,892.7 1103.5,883.8 1103.6,928.7 1103.7,956.8 1103.8,907.0 1103.9,916.2 1104.0,921.7 1104.1,964.1 1104.2,885.9 1104.2,912.8 1104.3,917.7 1104.4,934.4 1104.5,912.2 1104.6,919.1 1104.7,970.9 1104.8,959.9 1104.9,931.5 1104.9,920.8 1105.0,951.9 1105.1,930.5 1105.2,934.9 1105.3,970.1 1105.4,935.4 1105.5,947.8 1105.6,952.0 1105.6,934.2 1105.7,963.0 1105.8,933.0 1105.9,908.1 1106.0,933.4 1106.1,903.6 1106.2,888.5 1106.2,948.0 1106.3,950.2 1106.4,937.7 1106.5,927.7 1106.6,950.0 1106.7,951.7 1106.8,939.9 1106.9,921.8 1106.9,923.8 1107.0,901.1 1107.1,902.6 1107.2,908.7 1107.3,927.3 1107.4,948.3 1107.5,886.9 1107.6,936.3 1107.6,941.1 1107.7,926.9 1107.8,945.1 1107.9,927.0 1108.0,939.1 1108.1,930.8 1108.2,882.4 1108.3,912.4 1108.3,921.4 1108.4,898.4 1108.5,908.8 1108.6,906.7 1108.7,945.7 1108.8,946.4 1108.9,913.4 1109.0,931.7 1109.0,936.5 1109.1,882.5 1109.2,921.9 1109.3,898.3 1109.4,913.2 1109.5,923.6 1109.6,920.2 1109.6,929.2 1109.7,947.4 1109.8,915.3 1109.9,925.1 1110.0,891.2 1110.1,910.9 1110.2,930.3 1110.3,963.6 1110.3,945.5 1110.4,919.3 1110.5,931.6 1110.6,926.4 1110.7,959.5 1110.8,932.5 1110.9,934.3 1111.0,953.3 1111.0,909.2 1111.1,910.3 1111.2,922.9 1111.3,930.5 1111.4,936.3 1111.5,935.4 1111.6,920.8 1111.7,930.0 1111.7,922.0 1111.8,889.0 1111.9,909.4 1112.0,907.0 1112.1,894.1 1112.2,918.3 1112.3,912.8 1112.3,916.6 1112.4,934.2 1112.5,941.8 1112.6,852.0 1112.7,910.7 1112.8,905.3 1112.9,929.8 1113.0,943.2 1113.0,963.0 1113.1,943.7 1113.2,890.6 1113.3,911.6 1113.4,940.9 1113.5,917.9 1113.6,914.4 1113.7,920.3 1113.7,949.2 1113.8,938.8 1113.9,905.6 1114.0,922.4 1114.1,881.7 1114.2,904.8 1114.3,926.1 1114.4,926.1 1114.4,892.1 1114.5,948.3 1114.6,946.8 1114.7,954.1 1114.8,935.4 1114.9,917.0 1115.0,922.5 1115.1,941.9 1115.1,926.3 1115.2,956.4 1115.3,920.0 1115.4,935.6 1115.5,892.8 1115.6,929.5 1115.7,890.2 1115.7,885.5 1115.8,907.5 1115.9,958.9 1116.0,943.9 1116.1,922.0 1116.2,940.7 1116.3,908.8 1116.4,937.3 1116.4,942.1 1116.5,871.0 1116.6,912.6 1116.7,938.5 1116.8,936.1 1116.9,908.2 1117.0,944.1 1117.1,936.8 1117.1,924.5 1117.2,929.3 1117.3,918.2 1117.4,946.0 1117.5,905.6 1117.6,902.7 1117.7,879.9 1117.8,883.7 1117.8,884.2 1117.9,922.2 1118.0,912.0 1118.1,938.5 1118.2,921.4 1118.3,944.5 1118.4,911.8 1118.4,892.6 1118.5,933.5 1118.6,936.9 1118.7,941.0 1118.8,959.6 1118.9,943.2 1119.0,959.6 1119.1,956.8 1119.1,955.6 1119.2,935.3 1119.3,915.0 1119.4,911.0 1119.5,936.6 1119.6,917.8 1119.7,885.8 1119.8,944.0 1119.8,889.9 1119.9,897.3 1120.0,921.9 1120.1,927.6 1120.2,939.2 1120.3,927.6 1120.4,846.0 1120.5,943.3 1120.5,933.6 1120.6,934.1 1120.7,954.8 1120.8,939.0 1120.9,937.2 1121.0,891.0 1121.1,920.4 1121.2,903.4 1121.2,926.8 1121.3,939.1 1121.4,918.2 1121.5,940.3 1121.6,933.3 1121.7,928.3 1121.8,937.1 1121.8,930.3 1121.9,870.7 1122.0,927.9 1122.1,946.9 1122.2,904.7 1122.3,941.6 1122.4,956.4 1122.5,953.1 1122.5,931.0 1122.6,912.4 1122.7,932.9 1122.8,922.7 1122.9,949.5 1123.0,918.9 1123.1,916.5 1123.2,929.2 1123.2,932.0 1123.3,900.4 1123.4,919.1 1123.5,936.4 1123.6,908.5 1123.7,945.5 1123.8,950.7 1123.9,920.2 1123.9,940.6 1124.0,956.4 1124.1,961.3 1124.2,942.4 1124.3,937.1 1124.4,949.6 1124.5,932.1 1124.5,952.9 1124.6,965.0 1124.7,944.1 1124.8,966.3 1124.9,951.7 1125.0,928.3 1125.1,954.8 1125.2,969.0 1125.2,942.3 1125.3,925.2 1125.4,877.5 1125.5,922.2 1125.6,930.5 1125.7,949.3 1125.8,918.0 1125.9,829.4 1125.9,926.8 1126.0,923.2 1126.1,895.1 1126.2,918.8 1126.3,885.2 1126.4,879.3 1126.5,917.8 1126.6,935.4 1126.6,942.9 1126.7,951.2 1126.8,895.9 1126.9,926.9 1127.0,942.6 1127.1,953.5 1127.2,948.9 1127.3,922.6 1127.3,919.3 1127.4,963.5 1127.5,939.4 1127.6,922.1 1127.7,911.8 1127.8,891.5 1127.9,906.4 1127.9,848.8 1128.0,923.8 1128.1,899.9 1128.2,935.8 1128.3,941.0 1128.4,892.2 1128.5,893.2 1128.6,932.2 1128.6,919.5 1128.7,954.9 1128.8,951.4 1128.9,950.2 1129.0,961.5 1129.1,932.4 1129.2,952.4 1129.3,940.9 1129.3,903.3 1129.4,907.3 1129.5,936.9 1129.6,940.2 1129.7,925.9 1129.8,951.5 1129.9,928.4 1130.0,918.6 1130.0,891.0 1130.1,914.7 1130.2,921.7 1130.3,955.6 1130.4,935.2 1130.5,909.9 1130.6,920.1 1130.6,929.1 1130.7,938.2 1130.8,944.2 1130.9,933.0 1131.0,953.8 1131.1,926.1 1131.2,933.9 1131.3,920.9 1131.3,931.8 1131.4,931.2 1131.5,950.6 1131.6,890.9 1131.7,889.8 1131.8,912.8 1131.9,943.1 1132.0,887.8 1132.0,904.5 1132.1,925.4 1132.2,940.4 1132.3,935.3 1132.4,901.2 1132.5,937.3 1132.6,934.3 1132.7,932.0 1132.7,917.8 1132.8,898.6 1132.9,917.6 1133.0,917.1 1133.1,917.3 1133.2,939.4 1133.3,933.9 1133.4,951.2 1133.4,934.0 1133.5,930.9 1133.6,926.5 1133.7,940.3 1133.8,872.3 1133.9,882.1 1134.0,921.2 1134.0,942.6 1134.1,934.6 1134.2,935.8 1134.3,931.8 1134.4,922.7 1134.5,947.0 1134.6,948.6 1134.7,935.7 1134.7,961.0 1134.8,889.9 1134.9,894.6 1135.0,911.5 1135.1,900.4 1135.2,915.8 1135.3,925.7 1135.4,918.6 1135.4,923.0 1135.5,901.5 1135.6,920.2 1135.7,898.1 1135.8,870.2 1135.9,894.2 1136.0,915.0 1136.1,946.4 1136.1,945.3 1136.2,952.5 1136.3,940.1 1136.4,912.3 1136.5,952.4 1136.6,931.3 1136.7,957.5 1136.7,947.8 1136.8,922.4 1136.9,937.4 1137.0,902.5 1137.1,916.6 1137.2,929.5 1137.3,929.4 1137.4,931.5 1137.4,923.4 1137.5,949.5 1137.6,939.3 1137.7,945.7 1137.8,933.4 1137.9,944.3 1138.0,933.2 1138.1,883.5 1138.1,854.0 1138.2,916.6 1138.3,922.7 1138.4,910.3 1138.5,932.7 1138.6,929.1 1138.7,940.1 1138.8,917.5 1138.8,942.4 1138.9,882.1 1139.0,935.3 1139.1,931.1 1139.2,893.8 1139.3,907.3 1139.4,959.9 1139.5,927.3 1139.5,926.9 1139.6,916.1 1139.7,954.0 1139.8,882.1 1139.9,946.0 1140.0,906.4 1140.1,943.9 1140.1,953.6 1140.2,921.4 1140.3,938.7 1140.4,879.2 1140.5,870.9 1140.6,899.3 1140.7,929.6 1140.8,936.8 1140.8,922.2 1140.9,918.3 1141.0,933.8 1141.1,929.1 1141.2,924.0 1141.3,902.6 1141.4,934.3 1141.5,931.4 1141.5,909.6 1141.6,909.0 1141.7,964.6 1141.8,931.3 1141.9,939.0 1142.0,908.4 1142.1,930.1 1142.2,947.5 1142.2,852.6 1142.3,929.7 1142.4,952.8 1142.5,936.8 1142.6,913.1 1142.7,911.4 1142.8,918.8 1142.8,944.9 1142.9,883.0 1143.0,947.5 1143.1,930.3 1143.2,954.5 1143.3,836.9 1143.4,930.5 1143.5,919.0 1143.5,944.5 1143.6,949.0 1143.7,966.5 1143.8,957.0 1143.9,956.9 1144.0,946.6 1144.1,952.6 1144.2,933.0 1144.2,929.8 1144.3,911.4 1144.4,900.0 1144.5,929.3 1144.6,907.5 1144.7,906.5 1144.8,949.8 1144.9,906.2 1144.9,939.9 1145.0,934.4 1145.1,897.7 1145.2,929.2 1145.3,905.6 1145.4,933.8 1145.5,940.6 1145.6,907.1 1145.6,927.7 1145.7,902.9 1145.8,879.0 1145.9,895.9 1146.0,903.4 1146.1,933.0 1146.2,941.6 1146.2,930.0 1146.3,917.8 1146.4,949.8 1146.5,944.4 1146.6,933.7 1146.7,910.3 1146.8,982.0 1146.9,945.5 1146.9,932.9 1147.0,944.9 1147.1,945.8 1147.2,927.4 1147.3,861.6 1147.4,837.8 1147.5,933.9 1147.6,864.5 1147.6,942.1 1147.7,941.6 1147.8,944.3 1147.9,905.1 1148.0,930.7 1148.1,906.9 1148.2,931.1 1148.3,932.8 1148.3,941.9 1148.4,937.0 1148.5,943.2 1148.6,878.6 1148.7,866.5 1148.8,878.4 1148.9,830.0 1148.9,906.4 1149.0,936.7 1149.1,945.8 1149.2,958.6 1149.3,945.8 1149.4,929.7 1149.5,947.3 1149.6,931.4 1149.6,926.8 1149.7,940.3 1149.8,952.6 1149.9,934.9 1150.0,933.7 1150.1,945.6 1150.2,959.4 1150.3,906.4 1150.3,900.4 1150.4,928.9 1150.5,942.7 1150.6,919.0 1150.7,936.3 1150.8,925.8 1150.9,962.9 1151.0,938.9 1151.0,913.6 1151.1,779.3 1151.2,906.0 1151.3,901.2 1151.4,911.9 1151.5,920.9 1151.6,931.9 1151.7,959.4 1151.7,956.4 1151.8,933.7 1151.9,961.2 1152.0,918.8 1152.1,905.3 1152.2,944.9 1152.3,916.8 1152.3,931.6 1152.4,890.4 1152.5,931.1 1152.6,902.1 1152.7,945.3 1152.8,953.5 1152.9,968.4 1153.0,942.9 1153.0,953.7 1153.1,908.0 1153.2,950.6 1153.3,923.4 1153.4,912.1 1153.5,938.1 1153.6,933.7 1153.7,870.5 1153.7,922.7 1153.8,902.3 1153.9,898.1 1154.0,911.2 1154.1,955.9 1154.2,948.5 1154.3,930.7 1154.4,905.5 1154.4,937.0 1154.5,961.5 1154.6,965.5 1154.7,944.6 1154.8,949.8 1154.9,924.3 1155.0,917.2 1155.0,932.8 1155.1,955.5 1155.2,939.7 1155.3,926.0 1155.4,928.2 1155.5,819.3 1155.6,937.4 1155.7,917.7 1155.7,909.5 1155.8,925.1 1155.9,929.7 1156.0,942.0 1156.1,941.9 1156.2,948.2 1156.3,911.4 1156.4,920.5 1156.4,948.8 1156.5,940.5 1156.6,903.1 1156.7,877.7 1156.8,878.7 1156.9,940.7 1157.0,918.2 1157.1,949.4 1157.1,893.9 1157.2,858.0 1157.3,936.9 1157.4,926.7 1157.5,951.4 1157.6,934.3 1157.7,943.1 1157.8,952.0 1157.8,918.2 1157.9,922.3 1158.0,903.6 1158.1,909.2 1158.2,943.7 1158.3,946.7 1158.4,913.5 1158.4,896.1 1158.5,928.3 1158.6,870.3 1158.7,895.6 1158.8,869.2 1158.9,896.0 1159.0,809.3 1159.1,926.7 1159.1,929.1 1159.2,956.0 1159.3,935.7 1159.4,952.8 1159.5,932.3 1159.6,939.5 1159.7,950.3 1159.8,944.2 1159.8,944.7 1159.9,953.9 1160.0,904.2 1160.1,940.9 1160.2,907.1 1160.3,885.7 1160.4,891.8 1160.5,928.1 1160.5,943.6 1160.6,955.8 1160.7,958.9 1160.8,960.4 1160.9,951.4 1161.0,935.1 1161.1,912.2 1161.1,947.6 1161.2,918.1 1161.3,943.9 1161.4,869.5 1161.5,874.0 1161.6,847.8 1161.7,897.3 1161.8,937.7 1161.8,957.3 1161.9,938.1 1162.0,957.7 1162.1,928.4 1162.2,914.2 1162.3,941.1 1162.4,908.7 1162.5,920.3 1162.5,919.3 1162.6,911.6 1162.7,940.1 1162.8,934.8 1162.9,949.4 1163.0,927.3 1163.1,943.9 1163.2,905.2 1163.2,895.3 1163.3,933.3 1163.4,932.9 1163.5,932.9 1163.6,898.2 1163.7,907.7 1163.8,917.2 1163.9,859.1 1163.9,906.3 1164.0,916.7 1164.1,925.1 1164.2,918.8 1164.3,946.3 1164.4,903.2 1164.5,941.0 1164.5,957.5 1164.6,921.7 1164.7,895.3 1164.8,916.6 1164.9,938.9 1165.0,965.2 1165.1,929.0 1165.2,945.8 1165.2,928.5 1165.3,939.2 1165.4,914.0 1165.5,938.1 1165.6,925.1 1165.7,936.8 1165.8,937.9 1165.9,948.3 1165.9,910.9 1166.0,956.0 1166.1,926.3 1166.2,946.5 1166.3,943.3 1166.4,912.9 1166.5,949.1 1166.6,916.2 1166.6,935.0 1166.7,912.5 1166.8,903.5 1166.9,894.3 1167.0,926.7 1167.1,921.6 1167.2,939.4 1167.2,930.7 1167.3,937.2 1167.4,914.4 1167.5,832.6 1167.6,874.6 1167.7,935.6 1167.8,932.4 1167.9,933.6 1167.9,954.8 1168.0,956.1 1168.1,930.8 1168.2,953.5 1168.3,886.7 1168.4,949.5 1168.5,940.1 1168.6,892.6 1168.6,906.9 1168.7,899.4 1168.8,955.6 1168.9,946.9 1169.0,959.0 1169.1,952.9 1169.2,935.7 1169.3,948.2 1169.3,918.1 1169.4,945.4 1169.5,934.1 1169.6,941.0 1169.7,951.3 1169.8,957.0 1169.9,950.7 1170.0,908.3 1170.0,947.3 1170.1,928.9 1170.2,964.6 1170.3,933.8 1170.4,946.6 1170.5,944.2 1170.6,928.3 1170.6,932.0 1170.7,923.4 1170.8,931.6 1170.9,927.6 1171.0,953.9 1171.1,947.8 1171.2,944.0 1171.3,959.5 1171.3,936.8 1171.4,928.8 1171.5,950.2 1171.6,941.0 1171.7,927.7 1171.8,940.5 1171.9,925.1 1172.0,915.9 1172.0,948.0 1172.1,921.3 1172.2,893.8 1172.3,936.4 1172.4,920.4 1172.5,958.8 1172.6,972.4 1172.7,950.6 1172.7,956.4 1172.8,926.1 1172.9,818.3 1173.0,925.9 1173.1,942.5 1173.2,924.1 1173.3,915.3 1173.3,913.7 1173.4,943.8 1173.5,926.5 1173.6,927.4 1173.7,955.1 1173.8,950.3 1173.9,921.2 1174.0,939.7 1174.0,961.6 1174.1,934.2 1174.2,916.0 1174.3,937.9 1174.4,938.1 1174.5,929.9 1174.6,949.5 1174.7,936.1 1174.7,903.7 1174.8,906.5 1174.9,923.3 1175.0,938.5 1175.1,876.9 1175.2,950.8 1175.3,942.7 1175.4,949.4 1175.4,954.1 1175.5,945.6 1175.6,943.6 1175.7,906.1 1175.8,880.7 1175.9,884.7 1176.0,904.1 1176.1,933.4 1176.1,942.6 1176.2,900.0 1176.3,909.0 1176.4,957.3 1176.5,950.9 1176.6,961.2 1176.7,942.8 1176.7,915.9 1176.8,895.2 1176.9,924.0 1177.0,929.9 1177.1,936.3 1177.2,959.6 1177.3,952.4 1177.4,943.6 1177.4,932.0 1177.5,922.8 1177.6,932.9 1177.7,923.5 1177.8,956.7 1177.9,940.5 1178.0,937.5 1178.1,890.9 1178.1,933.8 1178.2,907.2 1178.3,928.0 1178.4,928.4 1178.5,925.3 1178.6,911.3 1178.7,953.1 1178.8,967.9 1178.8,924.7 1178.9,912.5 1179.0,896.3 1179.1,929.0 1179.2,900.4 1179.3,956.5 1179.4,970.8 1179.4,976.6 1179.5,933.4 1179.6,930.2 1179.7,922.0 1179.8,939.3 1179.9,951.9 1180.0,931.7 1180.1,951.1 1180.1,943.7 1180.2,937.6 1180.3,897.0 1180.4,893.4 1180.5,913.2 1180.6,920.4 1180.7,958.9 1180.8,927.8 1180.8,922.2 1180.9,916.4 1181.0,930.8 1181.1,935.3 1181.2,918.9 1181.3,932.9 1181.4,946.0 1181.5,935.8 1181.5,933.6 1181.6,944.1 1181.7,959.9 1181.8,922.7 1181.9,958.4 1182.0,915.6 1182.1,925.9 1182.2,931.1 1182.2,937.3 1182.3,940.8 1182.4,950.3 1182.5,944.6 1182.6,949.0 1182.7,924.4 1182.8,958.0 1182.8,954.5 1182.9,952.0 1183.0,902.7 1183.1,910.7 1183.2,919.2 1183.3,897.0 1183.4,837.9 1183.5,950.2 1183.5,924.9 1183.6,935.5 1183.7,912.5 1183.8,861.4 1183.9,905.4 1184.0,898.2 1184.1,923.6 1184.2,932.9 1184.2,926.6 1184.3,889.7 1184.4,912.6 1184.5,887.6 1184.6,921.2 1184.7,939.9 1184.8,943.7 1184.9,929.5 1184.9,935.4 1185.0,945.6 1185.1,932.3 1185.2,935.6 1185.3,906.9 1185.4,937.4 1185.5,896.5 1185.5,894.1 1185.6,887.7 1185.7,898.1 1185.8,871.9 1185.9,908.3 1186.0,934.6 1186.1,958.2 1186.2,923.1 1186.2,903.9 1186.3,911.4 1186.4,925.4 1186.5,914.2 1186.6,915.8 1186.7,943.7 1186.8,904.8 1186.9,923.2 1186.9,931.4 1187.0,922.2 1187.1,882.0 1187.2,927.7 1187.3,932.1 1187.4,938.9 1187.5,949.0 1187.6,963.4 1187.6,931.6 1187.7,811.8 1187.8,925.8 1187.9,885.9 1188.0,912.6 1188.1,923.3 1188.2,941.0 1188.3,931.7 1188.3,951.1 1188.4,961.4 1188.5,955.9 1188.6,940.0 1188.7,941.6 1188.8,938.7 1188.9,946.6 1188.9,951.3 1189.0,927.4 1189.1,909.2 1189.2,897.4 1189.3,901.3 1189.4,923.3 1189.5,967.9 1189.6,949.4 1189.6,919.3 1189.7,953.6 1189.8,965.5 1189.9,943.6 1190.0,945.8 1190.1,947.3 1190.2,917.5 1190.3,923.2 1190.3,936.7 1190.4,945.2 1190.5,947.8 1190.6,920.9 1190.7,927.9 1190.8,901.8 1190.9,955.0 1191.0,928.2 1191.0,930.4 1191.1,931.1 1191.2,915.1 1191.3,945.3 1191.4,940.5 1191.5,936.3 1191.6,919.9 1191.6,926.1 1191.7,929.5 1191.8,957.7 1191.9,946.3 1192.0,939.3 1192.1,925.3 1192.2,957.8 1192.3,934.1 1192.3,910.7 1192.4,910.8 1192.5,917.5 1192.6,920.8 1192.7,933.4 1192.8,957.7 1192.9,950.5 1193.0,806.8 1193.0,944.8 1193.1,923.7 1193.2,914.7 1193.3,953.1 1193.4,929.4 1193.5,886.6 1193.6,935.3 1193.7,922.0 1193.7,906.0 1193.8,945.5 1193.9,930.5 1194.0,911.4 1194.1,935.9 1194.2,923.0 1194.3,921.5 1194.4,906.8 1194.4,939.3 1194.5,922.1 1194.6,877.8 1194.7,945.6 1194.8,923.1 1194.9,879.1 1195.0,899.7 1195.0,903.2 1195.1,906.4 1195.2,937.5 1195.3,956.7 1195.4,955.0 1195.5,940.7 1195.6,926.2 1195.7,939.8 1195.7,913.1 1195.8,897.3 1195.9,930.5 1196.0,934.7 1196.1,966.5 1196.2,947.9 1196.3,934.8 1196.4,877.1 1196.4,927.7 1196.5,896.7 1196.6,898.5 1196.7,906.3 1196.8,901.7 1196.9,896.0 1197.0,916.8 1197.1,900.5 1197.1,955.6 1197.2,937.1 1197.3,927.7 1197.4,888.7 1197.5,899.8 1197.6,926.0 1197.7,938.2 1197.7,944.3 1197.8,912.4 1197.9,935.9 1198.0,931.6 1198.1,958.9 1198.2,954.6 1198.3,950.7 1198.4,901.1 1198.4,918.7 1198.5,939.6 1198.6,936.4 1198.7,863.5 1198.8,914.4 1198.9,898.3 1199.0,937.2 1199.1,938.2 1199.1,943.4 1199.2,944.5 1199.3,892.4 1199.4,929.0 1199.5,914.5 1199.6,942.2 1199.7,943.8 1199.8,939.9 1199.8,922.0 1199.9,927.6 1200.0,949.9 1200.1,948.8 1200.2,935.7 1200.3,948.0 1200.4,921.3 1200.5,948.9 1200.5,957.7 1200.6,936.0 1200.7,885.3 1200.8,841.9 1200.9,864.5 1201.0,925.8 1201.1,913.7 1201.1,958.3 1201.2,952.1 1201.3,873.8 1201.4,893.9 1201.5,911.4 1201.6,922.4 1201.7,918.3 1201.8,921.9 1201.8,954.3 1201.9,881.0 1202.0,913.3 1202.1,930.1 1202.2,942.3 1202.3,948.7 1202.4,935.3 1202.5,923.7 1202.5,948.4 1202.6,937.6 1202.7,951.7 1202.8,892.2 1202.9,882.7 1203.0,927.4 1203.1,926.0 1203.2,920.8 1203.2,945.9 1203.3,904.7 1203.4,909.6 1203.5,943.9 1203.6,943.1 1203.7,937.3 1203.8,945.6 1203.8,952.4 1203.9,952.7 1204.0,960.2 1204.1,918.5 1204.2,923.2 1204.3,957.5 1204.4,954.1 1204.5,939.5 1204.5,926.6 1204.6,904.8 1204.7,915.6 1204.8,889.8 1204.9,895.7 1205.0,910.0 1205.1,928.8 1205.2,867.7 1205.2,896.3 1205.3,918.3 1205.4,920.1 1205.5,914.9 1205.6,905.5 1205.7,916.9 1205.8,954.9 1205.9,930.5 1205.9,952.3 1206.0,924.8 1206.1,904.0 1206.2,911.7 1206.3,920.1 1206.4,936.8 1206.5,947.2 1206.6,960.7 1206.6,930.4 1206.7,908.7 1206.8,933.4 1206.9,914.3 1207.0,910.0 1207.1,921.7 1207.2,954.3 1207.2,929.4 1207.3,929.8 1207.4,880.2 1207.5,905.8 1207.6,932.1 1207.7,889.8 1207.8,916.1 1207.9,932.1 1207.9,937.5 1208.0,932.4 1208.1,922.7 1208.2,935.1 1208.3,935.0 1208.4,946.3 1208.5,950.1 1208.6,936.0 1208.6,939.6 1208.7,927.3 1208.8,935.2 1208.9,950.0 1209.0,945.7 1209.1,932.8 1209.2,898.5 1209.3,918.0 1209.3,945.6 1209.4,934.0 1209.5,959.0 1209.6,932.3 1209.7,961.2 1209.8,911.8 1209.9,912.5 1209.9,910.3 1210.0,910.6 1210.1,935.2 1210.2,922.3 1210.3,899.4 1210.4,912.4 1210.5,935.8 1210.6,903.8 1210.6,898.2 1210.7,925.1 1210.8,888.2 1210.9,889.9 1211.0,912.0 1211.1,948.2 1211.2,914.4 1211.3,945.0 1211.3,930.3 1211.4,954.4 1211.5,958.3 1211.6,933.5 1211.7,967.1 1211.8,935.1 1211.9,881.0 1212.0,904.2 1212.0,928.1 1212.1,946.3 1212.2,947.8 1212.3,916.4 1212.4,921.0 1212.5,930.4 1212.6,897.0 1212.7,919.4 1212.7,932.1 1212.8,951.2 1212.9,921.0 1213.0,948.5 1213.1,934.2 1213.2,934.7 1213.3,908.9 1213.3,880.1 1213.4,859.2 1213.5,909.1 1213.6,940.4 1213.7,961.9 1213.8,894.2 1213.9,895.9 1214.0,924.4 1214.0,900.0 1214.1,934.6 1214.2,916.6 1214.3,938.0 1214.4,951.8 1214.5,941.8 1214.6,933.9 1214.7,906.6 1214.7,927.0 1214.8,879.4 1214.9,913.3 1215.0,923.4 1215.1,949.3 1215.2,936.2 1215.3,912.2 1215.4,936.7 1215.4,936.8 1215.5,938.4 1215.6,913.6 1215.7,880.0 1215.8,926.1 1215.9,920.7 1216.0,921.6 1216.0,952.9 1216.1,919.8 1216.2,932.2 1216.3,924.8 1216.4,945.5 1216.5,920.5 1216.6,953.1 1216.7,919.6 1216.7,888.8 1216.8,917.7 1216.9,946.6 1217.0,905.5 1217.1,928.9 1217.2,940.0 1217.3,874.1 1217.4,932.8 1217.4,939.9 1217.5,935.1 1217.6,929.9 1217.7,949.3 1217.8,893.3 1217.9,948.4 1218.0,947.6 1218.1,932.1 1218.1,924.4 1218.2,942.3 1218.3,951.1 1218.4,941.6 1218.5,949.3 1218.6,934.5 1218.7,951.4 1218.8,945.6 1218.8,913.2 1218.9,917.3 1219.0,898.0 1219.1,888.8 1219.2,895.7 1219.3,918.9 1219.4,925.5 1219.4,945.1 1219.5,881.5 1219.6,863.4 1219.7,949.5 1219.8,905.0 1219.9,937.5 1220.0,950.8 1220.1,943.9 1220.1,946.3 1220.2,946.8 1220.3,955.5 1220.4,894.1 1220.5,899.4 1220.6,876.5 1220.7,909.7 1220.8,931.0 1220.8,926.8 1220.9,970.9 1221.0,967.3 1221.1,967.9 1221.2,954.2 1221.3,892.7 1221.4,909.0 1221.5,903.3 1221.5,893.9 1221.6,916.0 1221.7,932.3 1221.8,962.1 1221.9,952.4 1222.0,949.4 1222.1,942.9 1222.1,920.5 1222.2,941.4 1222.3,919.4 1222.4,915.9 1222.5,907.2 1222.6,935.1 1222.7,871.7 1222.8,909.7 1222.8,931.1 1222.9,888.6 1223.0,880.1 1223.1,900.3 1223.2,918.3 1223.3,929.2 1223.4,926.1 1223.5,907.0 1223.5,930.0 1223.6,899.6 1223.7,930.3 1223.8,917.9 1223.9,906.7 1224.0,924.8 1224.1,910.5 1224.2,909.7 1224.2,936.8 1224.3,944.5 1224.4,932.9 1224.5,894.5 1224.6,863.9 1224.7,929.3 1224.8,923.2 1224.9,896.1 1224.9,914.1 1225.0,889.5 1225.1,924.1 1225.2,984.5 1225.3,939.1 1225.4,937.2 1225.5,929.6 1225.5,968.6 1225.6,961.4 1225.7,944.2 1225.8,942.1 1225.9,893.3 1226.0,917.1 1226.1,933.7 1226.2,919.7 1226.2,881.5 1226.3,946.6 1226.4,940.4 1226.5,939.2 1226.6,934.0 1226.7,905.3 1226.8,914.0 1226.9,908.5 1226.9,900.8 1227.0,930.4 1227.1,951.1 1227.2,941.8 1227.3,936.0 1227.4,940.2 1227.5,941.3 1227.6,937.8 1227.6,928.5 1227.7,920.0 1227.8,900.4 1227.9,914.1 1228.0,929.5 1228.1,932.5 1228.2,930.1 1228.2,929.4 1228.3,922.4 1228.4,904.2 1228.5,933.7 1228.6,913.7 1228.7,950.4 1228.8,925.9 1228.9,904.8 1228.9,939.0 1229.0,910.1 1229.1,917.9 1229.2,922.2 1229.3,923.5 1229.4,914.7 1229.5,944.6 1229.6,947.0 1229.6,950.6 1229.7,947.3 1229.8,926.3 1229.9,955.0 1230.0,924.6 1230.1,915.2 1230.2,940.9 1230.3,945.0 1230.3,945.8 1230.4,937.7 1230.5,900.0 1230.6,863.7 1230.7,918.5 1230.8,938.7 1230.9,943.9 1231.0,933.8 1231.0,932.4 1231.1,917.8 1231.2,880.6 1231.3,937.2 1231.4,928.9 1231.5,962.9 1231.6,951.9 1231.6,947.7 1231.7,957.9 1231.8,925.6 1231.9,942.9 1232.0,934.2 1232.1,931.3 1232.2,921.3 1232.3,939.3 1232.3,959.7 1232.4,914.6 1232.5,926.6 1232.6,938.4 1232.7,898.7 1232.8,951.2 1232.9,932.9 1233.0,959.4 1233.0,934.5 1233.1,922.5 1233.2,946.2 1233.3,952.2 1233.4,939.1 1233.5,929.8 1233.6,923.9 1233.7,931.5 1233.7,933.2 1233.8,927.5 1233.9,836.9 1234.0,863.6 1234.1,913.9 1234.2,907.9 1234.3,929.1 1234.3,937.3 1234.4,885.4 1234.5,920.8 1234.6,880.5 1234.7,893.6 1234.8,884.1 1234.9,937.8 1235.0,955.0 1235.0,897.2 1235.1,925.8 1235.2,936.3 1235.3,933.2 1235.4,929.8 1235.5,956.0 1235.6,909.0 1235.7,924.9 1235.7,906.9 1235.8,870.3 1235.9,898.4 1236.0,938.0 1236.1,917.7 1236.2,931.9 1236.3,926.3 1236.4,924.7 1236.4,925.2 1236.5,946.6 1236.6,961.6 1236.7,932.7 1236.8,944.0 1236.9,925.4 1237.0,939.5 1237.1,939.5 1237.1,908.1 1237.2,949.7 1237.3,946.1 1237.4,931.2" fill="none" stroke="#000" stroke-width="1.0" stroke-linejoin="round" stroke-linejoin="miter"/>
<polyline points="1259.6,297.8 1260.5,297.5 1261.3,297.2 1262.2,296.8 1263.1,296.5 1264.0,296.0 1264.8,295.6 1265.7,295.2 1266.6,294.7 1267.5,294.2 1268.3,293.6 1269.2,293.1 1270.1,292.5 1271.0,291.8 1271.8,291.1 1272.7,290.4 1273.6,289.7 1274.4,288.9 1275.3,288.1 1276.2,287.2 1277.1,286.3 1277.9,285.3 1278.8,284.3 1279.7,283.3 1280.6,282.2 1281.4,281.1 1282.3,279.9 1283.2,278.6 1284.1,277.3 1284.9,276.0 1285.8,274.6 1286.7,273.1 1287.5,271.6 1288.4,270.1 1289.3,268.5 1290.2,266.8 1291.0,265.0 1291.9,263.3 1292.8,261.4 1293.7,259.5 1294.5,257.6 1295.4,255.6 1296.3,253.5 1297.2,251.4 1298.0,249.2 1298.9,247.0 1299.8,244.7 1300.6,242.4 1301.5,240.0 1302.4,237.6 1303.3,235.1 1304.1,232.6 1305.0,230.1 1305.9,227.5 1306.8,224.9 1307.6,222.2 1308.5,219.6 1309.4,216.9 1310.3,214.1 1311.1,211.4 1312.0,208.6 1312.9,205.9 1313.7,203.1 1314.6,200.3 1315.5,197.5 1316.4,194.7 1317.2,192.0 1318.1,189.2 1319.0,186.4 1319.9,183.7 1320.7,181.0 1321.6,178.4 1322.5,175.7 1323.4,173.2 1324.2,170.6 1325.1,168.1 1326.0,165.7 1326.8,163.3 1327.7,161.0 1328.6,158.8 1329.5,156.6 1330.3,154.5 1331.2,152.5 1332.1,150.6 1333.0,148.8 1333.8,147.0 1334.7,145.4 1335.6,143.9 1336.5,142.4 1337.3,141.1 1338.2,139.9 1339.1,138.8 1339.9,137.8 1340.8,136.9 1341.7,136.2 1342.6,135.6 1343.4,135.1 1344.3,134.7 1345.2,134.4 1346.1,134.3 1346.9,134.3 1347.8,134.4 1348.7,134.7 1349.6,135.1 1350.4,135.6 1351.3,136.2 1352.2,136.9 1353.1,137.8 1353.9,138.8 1354.8,139.9 1355.7,141.1 1356.5,142.4 1357.4,143.9 1358.3,145.4 1359.2,147.0 1360.0,148.8 1360.9,150.6 1361.8,152.5 1362.7,154.5 1363.5,156.6 1364.4,158.8 1365.3,161.0 1366.2,163.3 1367.0,165.7 1367.9,168.1 1368.8,170.6 1369.6,173.2 1370.5,175.7 1371.4,178.4 1372.3,181.0 1373.1,183.7 1374.0,186.4 1374.9,189.2 1375.8,192.0 1376.6,194.7 1377.5,197.5 1378.4,200.3 1379.3,203.1 1380.1,205.9 1381.0,208.6 1381.9,211.4 1382.7,214.1 1383.6,216.9 1384.5,219.6 1385.4,222.2 1386.2,224.9 1387.1,227.5 1388.0,230.1 1388.9,232.6 1389.7,235.1 1390.6,237.6 1391.5,240.0 1392.4,242.4 1393.2,244.7 1394.1,247.0 1395.0,249.2 1395.8,251.4 1396.7,253.5 1397.6,255.6 1398.5,257.6 1399.3,259.5 1400.2,261.4 1401.1,263.3 1402.0,265.0 1402.8,266.8 1403.7,268.5 1404.6,270.1 1405.5,271.6 1406.3,273.1 1407.2,274.6 1408.1,276.0 1408.9,277.3 1409.8,278.6 1410.7,279.9 1411.6,281.1 1412.4,282.2 1413.3,283.3 1414.2,284.3 1415.1,285.3 1415.9,286.3 1416.8,287.2 1417.7,288.1 1418.6,288.9 1419.4,289.7 1420.3,290.4 1421.2,291.1 1422.0,291.8 1422.9,292.5 1423.8,293.1 1424.7,293.6 1425.5,294.2 1426.4,294.7 1427.3,295.2 1428.2,295.6 1429.0,296.0 1429.9,296.5 1430.8,296.8 1431.7,297.2 1432.5,297.5 1433.4,297.8" fill="none" stroke="#b3b3b3" stroke-width="5.5" stroke-linejoin="round" />
<polyline points="1333.5,301.9 1333.6,301.9 1333.7,301.9 1333.8,301.9 1333.9,301.9 1334.0,301.9 1334.1,301.9 1334.2,301.9 1334.3,301.9 1334.4,301.9 1334.5,301.9 1334.6,301.9 1334.7,301.9 1334.8,301.9 1334.9,301.9 1335.0,301.9 1335.1,301.9 1335.2,301.9 1335.3,301.9 1335.4,301.9 1335.5,301.9 1335.6,301.9 1335.7,301.9 1335.8,301.9 1335.9,301.9 1336.0,301.9 1336.1,301.9 1336.2,301.9 1336.3,301.8 1336.4,301.8 1336.5,301.7 1336.6,301.6 1336.7,301.4 1336.8,301.1 1336.9,300.7 1337.0,300.2 1337.1,299.3 1337.2,298.2 1337.3,296.7 1337.5,294.6 1337.6,291.9 1337.7,288.4 1337.8,283.9 1337.9,278.3 1338.0,271.5 1338.1,263.3 1338.2,253.6 1338.3,242.6 1338.4,230.1 1338.5,216.4 1338.6,201.7 1338.7,186.3 1338.8,170.6 1338.9,155.1 1339.0,140.4 1339.1,127.1 1339.2,115.6 1339.3,106.5 1339.4,100.2 1339.5,97.0 1339.6,97.0 1339.7,100.2 1339.8,106.5 1339.9,115.6 1340.0,127.1 1340.1,140.4 1340.2,155.1 1340.3,170.6 1340.4,186.3 1340.5,201.7 1340.6,216.4 1340.7,230.1 1340.8,242.6 1340.9,253.6 1341.0,263.3 1341.1,271.5 1341.2,278.3 1341.3,283.9 1341.4,288.4 1341.5,291.9 1341.6,294.6 1341.7,296.7 1341.8,298.2 1342.0,299.3 1342.1,300.2 1342.2,300.7 1342.3,301.1 1342.4,301.4 1342.5,301.6 1342.6,301.7 1342.7,301.8 1342.8,301.8 1342.9,301.9 1343.0,301.9 1343.1,301.9 1343.2,301.9 1343.3,301.9 1343.4,301.9 1343.5,301.9 1343.6,301.9 1343.7,301.9 1343.8,301.9 1343.9,301.9 1344.0,301.9 1344.1,301.9 1344.2,301.9 1344.3,301.9 1344.4,301.9 1344.5,301.9 1344.6,301.9 1344.7,301.9 1344.8,301.9 1344.9,301.9 1345.0,301.9 1345.1,301.9 1345.2,301.9 1345.3,301.9 1345.4,301.9 1345.5,301.9 1345.6,301.9" fill="none" stroke="#000" stroke-width="1.2" stroke-linejoin="round" />
<polyline points="1259.6,654.2 1260.5,654.2 1261.3,654.2 1262.2,654.2 1263.1,654.2 1264.0,654.2 1264.8,654.2 1265.7,654.2 1266.6,654.2 1267.5,654.2 1268.3,654.2 1269.2,654.2 1270.1,654.2 1271.0,654.2 1271.8,654.2 1272.7,654.2 1273.6,654.2 1274.4,654.2 1275.3,654.2 1276.2,654.2 1277.1,654.2 1277.9,654.2 1278.8,654.2 1279.7,654.2 1280.6,654.2 1281.4,654.2 1282.3,654.2 1283.2,654.2 1284.1,654.2 1284.9,654.2 1285.8,654.2 1286.7,654.2 1287.5,654.2 1288.4,654.2 1289.3,654.2 1290.2,654.2 1291.0,654.2 1291.9,654.2 1292.8,654.2 1293.7,654.2 1294.5,654.2 1295.4,654.2 1296.3,654.2 1297.2,654.2 1298.0,654.2 1298.9,654.2 1299.8,654.2 1300.6,654.2 1301.5,654.2 1302.4,654.2 1303.3,654.2 1304.1,654.2 1305.0,654.2 1305.9,654.2 1306.8,654.2 1307.6,654.2 1308.5,654.2 1309.4,654.2 1310.3,654.2 1311.1,654.2 1312.0,654.2 1312.9,654.2 1313.7,654.2 1314.6,654.2 1315.5,654.2 1316.4,654.2 1317.2,654.2 1318.1,654.2 1319.0,654.2 1319.9,654.2 1320.7,654.2 1321.6,654.2 1322.5,654.2 1323.4,654.2 1324.2,654.2 1325.1,654.2 1326.0,654.2 1326.8,654.2 1327.7,654.2 1328.6,654.2 1329.5,654.2 1330.3,654.2 1331.2,654.2 1332.1,654.2 1333.0,654.2 1333.8,654.2 1334.7,654.2 1335.6,654.2 1336.5,654.2 1337.3,654.2 1338.2,654.2 1339.1,654.2 1339.9,654.2 1340.8,654.2 1341.7,654.2 1342.6,654.2 1343.4,654.2 1344.3,654.2 1345.2,654.2 1346.1,654.2 1346.9,654.2 1347.8,654.2 1348.7,654.2 1349.6,654.2 1350.4,654.2 1351.3,654.2 1352.2,654.2 1353.1,654.2 1353.9,654.2 1354.8,654.2 1355.7,654.2 1356.5,654.1 1357.4,654.1 1358.3,654.1 1359.2,654.1 1360.0,654.1 1360.9,654.1 1361.8,654.0 1362.7,654.0 1363.5,654.0 1364.4,654.0 1365.3,653.9 1366.2,653.9 1367.0,653.8 1367.9,653.7 1368.8,653.6 1369.6,653.6 1370.5,653.5 1371.4,653.3 1372.3,653.2 1373.1,653.0 1374.0,652.9 1374.9,652.7 1375.8,652.4 1376.6,652.2 1377.5,651.9 1378.4,651.5 1379.3,651.2 1380.1,650.8 1381.0,650.3 1381.9,649.8 1382.7,649.2 1383.6,648.6 1384.5,647.9 1385.4,647.1 1386.2,646.2 1387.1,645.3 1388.0,644.2 1388.9,643.1 1389.7,641.9 1390.6,640.5 1391.5,639.1 1392.4,637.5 1393.2,635.8 1394.1,634.0 1395.0,632.0 1395.8,629.9 1396.7,627.7 1397.6,625.3 1398.5,622.7 1399.3,620.0 1400.2,617.1 1401.1,614.1 1402.0,610.9 1402.8,607.6 1403.7,604.1 1404.6,600.5 1405.5,596.7 1406.3,592.8 1407.2,588.8 1408.1,584.7 1408.9,580.4 1409.8,576.0 1410.7,571.6 1411.6,567.1 1412.4,562.5 1413.3,557.9 1414.2,553.3 1415.1,548.6 1415.9,544.0 1416.8,539.4 1417.7,534.9 1418.6,530.5 1419.4,526.1 1420.3,521.9 1421.2,517.9 1422.0,514.0 1422.9,510.3 1423.8,506.8 1424.7,503.5 1425.5,500.5 1426.4,497.7 1427.3,495.3 1428.2,493.1 1429.0,491.2 1429.9,489.7 1430.8,488.5 1431.7,487.6 1432.5,487.1 1433.4,486.9" fill="none" stroke="#b3b3b3" stroke-width="5.5" stroke-linejoin="round" />
<polyline points="1259.6,1007.0 1260.5,1007.0 1261.3,1007.0 1262.2,1007.0 1263.1,1007.0 1264.0,1007.0 1264.8,1007.0 1265.7,1007.0 1266.6,1007.0 1267.5,1007.0 1268.3,1007.0 1269.2,1007.0 1270.1,1007.0 1271.0,1007.0 1271.8,1007.0 1272.7,1007.0 1273.6,1007.0 1274.4,1007.0 1275.3,1007.0 1276.2,1007.0 1277.1,1007.0 1277.9,1007.0 1278.8,1007.0 1279.7,1007.0 1280.6,1007.0 1281.4,1007.0 1282.3,1007.0 1283.2,1007.0 1284.1,1007.0 1284.9,1007.0 1285.8,1007.0 1286.7,1007.0 1287.5,1007.0 1288.4,1007.0 1289.3,1007.0 1290.2,1007.0 1291.0,1007.0 1291.9,1007.0 1292.8,1007.0 1293.7,1007.0 1294.5,1007.0 1295.4,1007.0 1296.3,1007.0 1297.2,1007.0 1298.0,1007.0 1298.9,1007.0 1299.8,1007.0 1300.6,1007.0 1301.5,1007.0 1302.4,1007.0 1303.3,1007.0 1304.1,1007.0 1305.0,1007.0 1305.9,1007.0 1306.8,1007.0 1307.6,1007.0 1308.5,1007.0 1309.4,1007.0 1310.3,1007.0 1311.1,1007.0 1312.0,1007.0 1312.9,1007.0 1313.7,1007.0 1314.6,1007.0 1315.5,1007.0 1316.4,1007.0 1317.2,1007.0 1318.1,1007.0 1319.0,1007.0 1319.9,1007.0 1320.7,1007.0 1321.6,1007.0 1322.5,1007.0 1323.4,1007.0 1324.2,1007.0 1325.1,1007.0 1326.0,1007.0 1326.8,1007.0 1327.7,1007.0 1328.6,1007.0 1329.5,1007.0 1330.3,1007.0 1331.2,1007.0 1332.1,1007.0 1333.0,1007.0 1333.8,1007.0 1334.7,1007.0 1335.6,1007.0 1336.5,1007.0 1337.3,1007.0 1338.2,1007.0 1339.1,1007.0 1339.9,1007.0 1340.8,1007.0 1341.7,1007.0 1342.6,1007.0 1343.4,1007.0 1344.3,1007.0 1345.2,1007.0 1346.1,1007.0 1346.9,1007.0 1347.8,1007.0 1348.7,1007.0 1349.6,1007.0 1350.4,1007.0 1351.3,1007.0 1352.2,1007.0 1353.1,1007.0 1353.9,1007.0 1354.8,1007.0 1355.7,1007.0 1356.5,1006.9 1357.4,1006.9 1358.3,1006.9 1359.2,1006.9 1360.0,1006.9 1360.9,1006.9 1361.8,1006.9 1362.7,1006.8 1363.5,1006.8 1364.4,1006.8 1365.3,1006.7 1366.2,1006.7 1367.0,1006.6 1367.9,1006.5 1368.8,1006.4 1369.6,1006.4 1370.5,1006.3 1371.4,1006.1 1372.3,1006.0 1373.1,1005.8 1374.0,1005.7 1374.9,1005.5 1375.8,1005.2 1376.6,1005.0 1377.5,1004.7 1378.4,1004.3 1379.3,1004.0 1380.1,1003.6 1381.0,1003.1 1381.9,1002.6 1382.7,1002.0 1383.6,1001.4 1384.5,1000.7 1385.4,999.9 1386.2,999.0 1387.1,998.1 1388.0,997.1 1388.9,995.9 1389.7,994.7 1390.6,993.4 1391.5,991.9 1392.4,990.4 1393.2,988.7 1394.1,986.8 1395.0,984.9 1395.8,982.8 1396.7,980.5 1397.6,978.1 1398.5,975.6 1399.3,972.9 1400.2,970.0 1401.1,967.0 1402.0,963.9 1402.8,960.5 1403.7,957.1 1404.6,953.5 1405.5,949.7 1406.3,945.8 1407.2,941.8 1408.1,937.6 1408.9,933.4 1409.8,929.0 1410.7,924.6 1411.6,920.1 1412.4,915.6 1413.3,911.0 1414.2,906.3 1415.1,901.7 1415.9,897.1 1416.8,892.6 1417.7,888.0 1418.6,883.6 1419.4,879.3 1420.3,875.1 1421.2,871.1 1422.0,867.2 1422.9,863.5 1423.8,860.0 1424.7,856.7 1425.5,853.7 1426.4,851.0 1427.3,848.5 1428.2,846.3 1429.0,844.5 1429.9,843.0 1430.8,841.8 1431.7,840.9 1432.5,840.4 1433.4,840.2" fill="none" stroke="#b3b3b3" stroke-width="5.5" stroke-linejoin="round" />
<polyline points="1259.5,653.7 1260.2,653.7 1260.9,653.7 1261.6,653.6 1262.3,653.5 1263.0,653.4 1263.7,653.2 1264.4,653.0 1265.1,652.8 1265.8,652.6 1266.5,652.4 1267.2,652.1 1267.9,651.8 1268.7,651.3 1269.4,650.6 1270.1,649.6 1270.8,648.5 1271.5,647.2 1272.2,645.7 1272.9,644.0 1273.6,641.6 1274.3,638.4 1275.0,634.8 1275.7,630.8 1276.4,626.7 1277.1,622.3 1277.8,617.4 1278.5,612.1 1279.2,606.3 1279.9,600.0 1280.6,593.2 1281.3,585.7 1282.0,576.6 1282.7,566.2 1283.4,555.0 1284.1,543.4 1284.8,531.9 1285.5,520.9 1286.2,509.9 1286.9,498.0 1287.6,486.2 1288.3,475.8 1289.0,467.9 1289.7,462.8 1290.4,458.2 1291.1,453.9 1291.8,450.3 1292.6,447.5 1293.3,445.6 1294.0,444.9 1294.7,445.1 1295.4,445.7 1296.1,446.6 1296.8,447.8 1297.5,449.2 1298.2,450.7 1298.9,452.4 1299.6,454.7 1300.3,457.9 1301.0,461.7 1301.7,466.1 1302.4,470.7 1303.1,475.5 1303.8,480.2 1304.5,485.4 1305.2,491.1 1305.9,497.2 1306.6,503.4 1307.3,509.9 1308.0,516.4 1308.7,523.0 1309.4,530.0 1310.1,537.2 1310.8,544.6 1311.5,551.9 1312.2,558.9 1312.9,565.5 1313.6,571.8 1314.3,578.0 1315.0,584.2 1315.7,590.0 1316.5,595.5 1317.2,600.4 1317.9,604.7 1318.6,608.7 1319.3,612.4 1320.0,615.8 1320.7,619.1 1321.4,622.1 1322.1,624.9 1322.8,627.4 1323.5,629.7 1324.2,631.8 1324.9,633.8 1325.6,635.8 1326.3,637.7 1327.0,639.4 1327.7,641.1 1328.4,642.5 1329.1,643.8 1329.8,644.8 1330.5,645.6 1331.2,646.1 1331.9,646.6 1332.6,647.0 1333.3,647.3 1334.0,647.6 1334.7,647.9 1335.4,648.2 1336.1,648.4 1336.8,648.6 1337.5,648.8 1338.2,649.1 1338.9,649.3 1339.7,649.5 1340.4,649.7 1341.1,649.9 1341.8,650.0 1342.5,650.2 1343.2,650.4 1343.9,650.5 1344.6,650.7 1345.3,650.8 1346.0,651.0 1346.7,651.2 1347.4,651.3 1348.1,651.5 1348.8,651.7 1349.5,651.9 1350.2,652.1 1350.9,652.4 1351.6,652.6 1352.3,652.8 1353.0,653.0 1353.7,653.2 1354.4,653.3 1355.1,653.5 1355.8,653.6 1356.5,653.7 1357.2,653.8 1357.9,653.8 1358.6,653.8 1359.3,653.9 1360.0,653.9 1360.7,653.9 1361.4,654.0 1362.1,654.0 1362.8,654.0 1363.6,654.1 1364.3,654.1 1365.0,654.1 1365.7,654.1 1366.4,654.2 1367.1,654.2 1367.8,654.2 1368.5,654.2 1369.2,654.2 1369.9,654.2 1370.6,654.2 1371.3,654.2" fill="none" stroke="#000" stroke-width="1.2" stroke-linejoin="round" />
<polyline points="1276.1,1007.0 1276.6,1007.0 1277.0,1007.0 1277.5,1007.0 1277.9,1007.0 1278.4,1007.0 1278.9,1007.0 1279.3,1007.0 1279.8,1007.0 1280.2,1007.0 1280.7,1007.0 1281.1,1007.0 1281.6,1007.0 1282.1,1007.0 1282.5,1007.0 1283.0,1007.0 1283.4,1007.0 1283.9,1007.0 1284.3,1007.0 1284.8,1007.0 1285.2,1007.0 1285.7,1007.0 1286.2,1007.0 1286.6,1007.0 1287.1,1007.0 1287.5,1007.0 1288.0,1007.0 1288.4,1007.0 1288.9,1007.0 1289.4,1007.0 1289.8,1007.0 1290.3,1007.0 1290.7,1007.0 1291.2,1007.0 1291.6,1007.0 1292.1,1007.0 1292.6,1007.0 1293.0,1007.0 1293.5,1007.0 1293.9,1007.0 1294.4,1006.9 1294.8,1006.9 1295.3,1006.9 1295.8,1006.8 1296.2,1006.8 1296.7,1006.7 1297.1,1006.6 1297.6,1006.5 1298.0,1006.4 1298.5,1006.2 1299.0,1006.0 1299.4,1005.8 1299.9,1005.5 1300.3,1005.1 1300.8,1004.6 1301.2,1004.0 1301.7,1003.3 1302.2,1002.5 1302.6,1001.5 1303.1,1000.3 1303.5,998.9 1304.0,997.2 1304.4,995.3 1304.9,993.1 1305.4,990.5 1305.8,987.6 1306.3,984.3 1306.7,980.6 1307.2,976.4 1307.6,971.7 1308.1,966.6 1308.6,960.9 1309.0,954.7 1309.5,948.0 1309.9,940.8 1310.4,933.1 1310.8,925.0 1311.3,916.4 1311.7,907.5 1312.2,898.3 1312.7,888.9 1313.1,879.3 1313.6,869.7 1314.0,860.2 1314.5,850.8 1314.9,841.8 1315.4,833.1 1315.9,824.9 1316.3,817.4 1316.8,810.6 1317.2,804.7 1317.7,799.6 1318.1,795.6 1318.6,792.7 1319.1,790.9 1319.5,790.2 1320.0,790.6 1320.4,792.2 1320.9,795.0 1321.3,798.8 1321.8,803.6 1322.3,809.4 1322.7,816.0 1323.2,823.4 1323.6,831.5 1324.1,840.1 1324.5,849.1 1325.0,858.4 1325.5,867.9 1325.9,877.5 1326.4,887.1 1326.8,896.5 1327.3,905.8 1327.7,914.8 1328.2,923.4 1328.7,931.6 1329.1,939.4 1329.6,946.7 1330.0,953.5 1330.5,959.7 1330.9,965.5 1331.4,970.8 1331.9,975.5 1332.3,979.8 1332.8,983.6 1333.2,987.0 1333.7,990.0 1334.1,992.6 1334.6,994.9 1335.1,996.9 1335.5,998.6 1336.0,1000.0 1336.4,1001.3 1336.9,1002.3 1337.3,1003.2 1337.8,1003.9 1338.3,1004.5 1338.7,1005.0 1339.2,1005.4 1339.6,1005.7 1340.1,1006.0 1340.5,1006.2 1341.0,1006.4 1341.4,1006.5 1341.9,1006.6 1342.4,1006.7 1342.8,1006.8 1343.3,1006.8 1343.7,1006.9 1344.2,1006.9 1344.6,1006.9 1345.1,1006.9 1345.6,1007.0 1346.0,1007.0 1346.5,1007.0 1346.9,1007.0 1347.4,1007.0 1347.8,1007.0 1348.3,1007.0 1348.8,1007.0" fill="none" stroke="#000" stroke-width="1.2" stroke-linejoin="round" />
<rect x="1063.2" y="50.5" width="174.2" height="251.4" fill="none" stroke="#262626" stroke-width="1.2"/>
<rect x="1259.6" y="50.5" width="173.8" height="251.4" fill="none" stroke="#262626" stroke-width="1.2"/>
<line x1="1132.9" y1="50.5" x2="1132.9" y2="54.0" stroke="#262626" stroke-width="1.2"/>
<line x1="1132.9" y1="301.9" x2="1132.9" y2="298.4" stroke="#262626" stroke-width="1.2"/>
<line x1="1202.6" y1="50.5" x2="1202.6" y2="54.0" stroke="#262626" stroke-width="1.2"/>
<line x1="1202.6" y1="301.9" x2="1202.6" y2="298.4" stroke="#262626" stroke-width="1.2"/>
<line x1="1288.6" y1="50.5" x2="1288.6" y2="54.0" stroke="#262626" stroke-width="1.2"/>
<line x1="1288.6" y1="301.9" x2="1288.6" y2="298.4" stroke="#262626" stroke-width="1.2"/>
<line x1="1346.5" y1="50.5" x2="1346.5" y2="54.0" stroke="#262626" stroke-width="1.2"/>
<line x1="1346.5" y1="301.9" x2="1346.5" y2="298.4" stroke="#262626" stroke-width="1.2"/>
<line x1="1404.4" y1="50.5" x2="1404.4" y2="54.0" stroke="#262626" stroke-width="1.2"/>
<line x1="1404.4" y1="301.9" x2="1404.4" y2="298.4" stroke="#262626" stroke-width="1.2"/>
<line x1="1259.6" y1="218.1" x2="1263.1" y2="218.1" stroke="#262626" stroke-width="1.2"/>
<line x1="1433.4" y1="218.1" x2="1429.9" y2="218.1" stroke="#262626" stroke-width="1.2"/>
<line x1="1259.6" y1="134.3" x2="1263.1" y2="134.3" stroke="#262626" stroke-width="1.2"/>
<line x1="1433.4" y1="134.3" x2="1429.9" y2="134.3" stroke="#262626" stroke-width="1.2"/>
<text x="1443.5" y="310.2" font-size="21.5" text-anchor="start" fill="#000" >0</text>
<text x="1443.5" y="226.4" font-size="21.5" text-anchor="start" fill="#000" >0.05</text>
<text x="1443.5" y="142.6" font-size="21.5" text-anchor="start" fill="#000" >0.1</text>
<text x="1443.5" y="58.8" font-size="21.5" text-anchor="start" fill="#000" >0.15</text>
<text x="1063.2" y="334.3" font-size="21.5" text-anchor="middle" fill="#000" >0</text>
<text x="1132.9" y="334.3" font-size="21.5" text-anchor="middle" fill="#000" >4000</text>
<text x="1202.6" y="334.3" font-size="21.5" text-anchor="middle" fill="#000" >8000</text>
<text x="1288.6" y="334.3" font-size="21.5" text-anchor="middle" fill="#000" >-2</text>
<text x="1346.5" y="334.3" font-size="21.5" text-anchor="middle" fill="#000" >0</text>
<text x="1404.4" y="334.3" font-size="21.5" text-anchor="middle" fill="#000" >2</text>
<text x="1150.3" y="366.7" font-size="24.6" text-anchor="middle" fill="#000" >MCMC iteration</text>
<text x="1347.0" y="366.7" font-size="24.6" text-anchor="middle" fill="#000" >2log(°C)</text>
<text transform="translate(1488.4,176.2) rotate(-90)" font-size="22.5" text-anchor="middle" fill="#000">freq.</text>
<rect x="1063.2" y="403.3" width="174.2" height="250.9" fill="none" stroke="#262626" stroke-width="1.2"/>
<rect x="1259.6" y="403.3" width="173.8" height="250.9" fill="none" stroke="#262626" stroke-width="1.2"/>
<line x1="1132.9" y1="403.3" x2="1132.9" y2="406.8" stroke="#262626" stroke-width="1.2"/>
<line x1="1132.9" y1="654.2" x2="1132.9" y2="650.7" stroke="#262626" stroke-width="1.2"/>
<line x1="1202.6" y1="403.3" x2="1202.6" y2="406.8" stroke="#262626" stroke-width="1.2"/>
<line x1="1202.6" y1="654.2" x2="1202.6" y2="650.7" stroke="#262626" stroke-width="1.2"/>
<line x1="1346.5" y1="403.3" x2="1346.5" y2="406.8" stroke="#262626" stroke-width="1.2"/>
<line x1="1346.5" y1="654.2" x2="1346.5" y2="650.7" stroke="#262626" stroke-width="1.2"/>
<line x1="1259.6" y1="570.6" x2="1263.1" y2="570.6" stroke="#262626" stroke-width="1.2"/>
<line x1="1433.4" y1="570.6" x2="1429.9" y2="570.6" stroke="#262626" stroke-width="1.2"/>
<line x1="1259.6" y1="486.9" x2="1263.1" y2="486.9" stroke="#262626" stroke-width="1.2"/>
<line x1="1433.4" y1="486.9" x2="1429.9" y2="486.9" stroke="#262626" stroke-width="1.2"/>
<text x="1443.5" y="662.5" font-size="21.5" text-anchor="start" fill="#000" >0</text>
<text x="1443.5" y="578.9" font-size="21.5" text-anchor="start" fill="#000" >0.05</text>
<text x="1443.5" y="495.2" font-size="21.5" text-anchor="start" fill="#000" >0.1</text>
<text x="1443.5" y="411.6" font-size="21.5" text-anchor="start" fill="#000" >0.15</text>
<text x="1063.2" y="686.6" font-size="21.5" text-anchor="middle" fill="#000" >0</text>
<text x="1132.9" y="686.6" font-size="21.5" text-anchor="middle" fill="#000" >4000</text>
<text x="1202.6" y="686.6" font-size="21.5" text-anchor="middle" fill="#000" >8000</text>
<text x="1259.6" y="686.6" font-size="21.5" text-anchor="middle" fill="#000" >-10</text>
<text x="1346.5" y="686.6" font-size="21.5" text-anchor="middle" fill="#000" >-5</text>
<text x="1433.4" y="686.6" font-size="21.5" text-anchor="middle" fill="#000" >0</text>
<text x="1150.3" y="719.0" font-size="24.6" text-anchor="middle" fill="#000" >MCMC iteration</text>
<text x="1347.0" y="719.0" font-size="24.6" text-anchor="middle" fill="#000" >2log(°C)</text>
<text transform="translate(1488.4,528.8) rotate(-90)" font-size="22.5" text-anchor="middle" fill="#000">freq.</text>
<rect x="1063.2" y="756.8" width="174.2" height="250.2" fill="none" stroke="#262626" stroke-width="1.2"/>
<rect x="1259.6" y="756.8" width="173.8" height="250.2" fill="none" stroke="#262626" stroke-width="1.2"/>
<line x1="1132.9" y1="756.8" x2="1132.9" y2="760.3" stroke="#262626" stroke-width="1.2"/>
<line x1="1132.9" y1="1007.0" x2="1132.9" y2="1003.5" stroke="#262626" stroke-width="1.2"/>
<line x1="1202.6" y1="756.8" x2="1202.6" y2="760.3" stroke="#262626" stroke-width="1.2"/>
<line x1="1202.6" y1="1007.0" x2="1202.6" y2="1003.5" stroke="#262626" stroke-width="1.2"/>
<line x1="1346.5" y1="756.8" x2="1346.5" y2="760.3" stroke="#262626" stroke-width="1.2"/>
<line x1="1346.5" y1="1007.0" x2="1346.5" y2="1003.5" stroke="#262626" stroke-width="1.2"/>
<line x1="1259.6" y1="923.6" x2="1263.1" y2="923.6" stroke="#262626" stroke-width="1.2"/>
<line x1="1433.4" y1="923.6" x2="1429.9" y2="923.6" stroke="#262626" stroke-width="1.2"/>
<line x1="1259.6" y1="840.2" x2="1263.1" y2="840.2" stroke="#262626" stroke-width="1.2"/>
<line x1="1433.4" y1="840.2" x2="1429.9" y2="840.2" stroke="#262626" stroke-width="1.2"/>
<text x="1443.5" y="1015.3" font-size="21.5" text-anchor="start" fill="#000" >0</text>
<text x="1443.5" y="931.9" font-size="21.5" text-anchor="start" fill="#000" >0.05</text>
<text x="1443.5" y="848.5" font-size="21.5" text-anchor="start" fill="#000" >0.1</text>
<text x="1443.5" y="765.1" font-size="21.5" text-anchor="start" fill="#000" >0.15</text>
<text x="1063.2" y="1039.4" font-size="21.5" text-anchor="middle" fill="#000" >0</text>
<text x="1132.9" y="1039.4" font-size="21.5" text-anchor="middle" fill="#000" >4000</text>
<text x="1202.6" y="1039.4" font-size="21.5" text-anchor="middle" fill="#000" >8000</text>
<text x="1259.6" y="1039.4" font-size="21.5" text-anchor="middle" fill="#000" >-10</text>
<text x="1346.5" y="1039.4" font-size="21.5" text-anchor="middle" fill="#000" >-5</text>
<text x="1433.4" y="1039.4" font-size="21.5" text-anchor="middle" fill="#000" >0</text>
<text x="1150.3" y="1071.8" font-size="24.6" text-anchor="middle" fill="#000" >MCMC iteration</text>
<text x="1347.0" y="1071.8" font-size="24.6" text-anchor="middle" fill="#000" >2log(°C)</text>
<text transform="translate(1488.4,881.9) rotate(-90)" font-size="22.5" text-anchor="middle" fill="#000">freq.</text>
<text x="1052.5" y="310.3" font-size="21.5" text-anchor="end" fill="#000" >0.7</text>
<line x1="1063.2" y1="218.1" x2="1066.7" y2="218.1" stroke="#262626" stroke-width="1.2"/>
<line x1="1237.4" y1="218.1" x2="1233.9" y2="218.1" stroke="#262626" stroke-width="1.2"/>
<text x="1052.5" y="226.5" font-size="21.5" text-anchor="end" fill="#000" >0.75</text>
<line x1="1063.2" y1="134.3" x2="1066.7" y2="134.3" stroke="#262626" stroke-width="1.2"/>
<line x1="1237.4" y1="134.3" x2="1233.9" y2="134.3" stroke="#262626" stroke-width="1.2"/>
<text x="1052.5" y="142.7" font-size="21.5" text-anchor="end" fill="#000" >0.8</text>
<text x="1052.5" y="58.9" font-size="21.5" text-anchor="end" fill="#000" >0.85</text>
<text x="1052.5" y="662.6" font-size="21.5" text-anchor="end" fill="#000" >0</text>
<line x1="1063.2" y1="570.6" x2="1066.7" y2="570.6" stroke="#262626" stroke-width="1.2"/>
<line x1="1237.4" y1="570.6" x2="1233.9" y2="570.6" stroke="#262626" stroke-width="1.2"/>
<text x="1052.5" y="579.0" font-size="21.5" text-anchor="end" fill="#000" >0.005</text>
<line x1="1063.2" y1="486.9" x2="1066.7" y2="486.9" stroke="#262626" stroke-width="1.2"/>
<line x1="1237.4" y1="486.9" x2="1233.9" y2="486.9" stroke="#262626" stroke-width="1.2"/>
<text x="1052.5" y="495.3" font-size="21.5" text-anchor="end" fill="#000" >0.01</text>
<text x="1052.5" y="411.7" font-size="21.5" text-anchor="end" fill="#000" >0.015</text>
<text x="1052.5" y="1015.4" font-size="21.5" text-anchor="end" fill="#000" >0</text>
<line x1="1063.2" y1="957.0" x2="1066.7" y2="957.0" stroke="#262626" stroke-width="1.2"/>
<line x1="1237.4" y1="957.0" x2="1233.9" y2="957.0" stroke="#262626" stroke-width="1.2"/>
<text x="1052.5" y="965.4" font-size="21.5" text-anchor="end" fill="#000" >1</text>
<line x1="1063.2" y1="906.9" x2="1066.7" y2="906.9" stroke="#262626" stroke-width="1.2"/>
<line x1="1237.4" y1="906.9" x2="1233.9" y2="906.9" stroke="#262626" stroke-width="1.2"/>
<text x="1052.5" y="915.3" font-size="21.5" text-anchor="end" fill="#000" >2</text>
<line x1="1063.2" y1="856.9" x2="1066.7" y2="856.9" stroke="#262626" stroke-width="1.2"/>
<line x1="1237.4" y1="856.9" x2="1233.9" y2="856.9" stroke="#262626" stroke-width="1.2"/>
<text x="1052.5" y="865.3" font-size="21.5" text-anchor="end" fill="#000" >3</text>
<line x1="1063.2" y1="806.8" x2="1066.7" y2="806.8" stroke="#262626" stroke-width="1.2"/>
<line x1="1237.4" y1="806.8" x2="1233.9" y2="806.8" stroke="#262626" stroke-width="1.2"/>
<text x="1052.5" y="815.2" font-size="21.5" text-anchor="end" fill="#000" >4</text>
<text x="1052.5" y="765.2" font-size="21.5" text-anchor="end" fill="#000" >5</text>
<path d="M1066.5,740.8 L1076.3,750.6 M1076.3,740.8 L1066.5,750.6" stroke="#000" stroke-width="1.3" fill="none"/>
<text x="1081.2" y="751" font-size="21.4" fill="#000">10</text>
<text x="1104.3" y="740.7" font-size="16" fill="#000">-3</text>
<text transform="translate(1005,178.5) rotate(-90)" font-size="22" text-anchor="middle" fill="#000">sampled value (°C<tspan font-size="17" dy="-10">2</tspan><tspan dy="10">)</tspan></text>
<text transform="translate(991,527.7) rotate(-90)" font-size="22" text-anchor="middle" fill="#000">sampled value (°C<tspan font-size="17" dy="-10">2</tspan><tspan dy="10">)</tspan></text>
<text transform="translate(1026,882) rotate(-90)" font-size="22" text-anchor="middle" fill="#000">sampled value (°C<tspan font-size="17" dy="-10">2</tspan><tspan dy="10">)</tspan></text>
<path d="M941.1,175.4 h11 M946.7,175.4 v15.8" stroke="#000" stroke-width="2.4" fill="none"/>
<text x="953.8" y="175.39999999999998" font-size="26.5" fill="#000">2</text>
<text x="954.2" y="207" font-size="26.5" fill="#000">D</text>
<path d="M939.9,523.6 h11 M945.5,523.6 v15.8" stroke="#000" stroke-width="2.4" fill="none"/>
<text x="952.0999999999999" y="523.6" font-size="26.5" fill="#000">2</text>
<text x="952.5" y="556" font-size="26.5" fill="#000">β</text>
<path d="M951.6,866.5 h11 M957.2,866.5 v15.8" stroke="#000" stroke-width="2.4" fill="none"/>
<text x="963.3" y="866.5" font-size="26.5" fill="#000">2</text>
<text x="963.7" y="898.5" font-size="26.5" fill="#000">σ</text>
<text x="1103" y="28.3" font-size="30" font-weight="bold" fill="#000">b) Bayesian analysis</text>
<line x1="1086" y1="1102.1" x2="1177.2" y2="1102.1" stroke="#b3b3b3" stroke-width="4.8"/>
<text x="1186.0" y="1110.0" font-size="22" text-anchor="start" fill="#000" >prior</text>
<line x1="1250.4" y1="1102.1" x2="1341.1" y2="1102.1" stroke="#000" stroke-width="1.2"/>
<text x="1350.5" y="1110.0" font-size="22" text-anchor="start" fill="#000" >posterior</text>
</svg>
</body></html>
